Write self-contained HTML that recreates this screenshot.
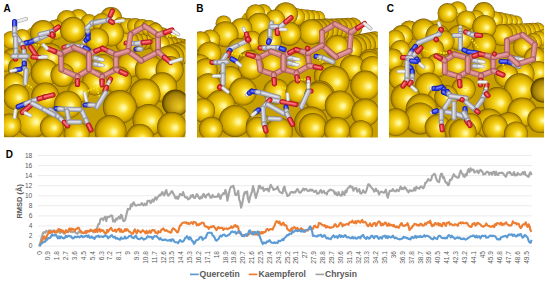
<!DOCTYPE html>
<html><head><meta charset="utf-8"><style>
html,body{margin:0;padding:0;background:#fff;width:550px;height:282px;overflow:hidden}
svg{display:block;font-family:"Liberation Sans",sans-serif}
</style></head><body>
<svg width="550" height="282" viewBox="0 0 550 282">
<rect width="550" height="282" fill="#fff"/>
<defs>
<radialGradient id="gs" cx="0.5" cy="0.5" r="0.5" fx="0.63" fy="0.53">
<stop offset="0" stop-color="#fffac4"/>
<stop offset="0.14" stop-color="#fff286"/>
<stop offset="0.34" stop-color="#f6d628"/>
<stop offset="0.58" stop-color="#e8be02"/>
<stop offset="0.8" stop-color="#d0a600"/>
<stop offset="0.93" stop-color="#aa8200"/>
<stop offset="1" stop-color="#6a5000"/>
</radialGradient>
<radialGradient id="gd" cx="0.5" cy="0.5" r="0.5" fx="0.66" fy="0.66">
<stop offset="0" stop-color="#e8c828"/>
<stop offset="0.4" stop-color="#d0aa14"/>
<stop offset="0.8" stop-color="#a07c04"/>
<stop offset="1" stop-color="#4c3800"/>
</radialGradient>
<filter id="sb" x="-2%" y="-2%" width="104%" height="104%"><feGaussianBlur stdDeviation="0.4"/></filter>
<clipPath id="cA"><rect x="4" y="0" width="181.6" height="137.3"/></clipPath>
<clipPath id="cB"><rect x="197" y="0" width="180.9" height="137.4"/></clipPath>
<clipPath id="cC"><rect x="389" y="0" width="155" height="137.6"/></clipPath>
</defs>
<text x="3.6" y="11.8" font-size="10" font-weight="bold" fill="#000">A</text>
<text x="196.2" y="11.8" font-size="10" font-weight="bold" fill="#000">B</text>
<text x="386.8" y="11.8" font-size="10" font-weight="bold" fill="#000">C</text>

<g clip-path="url(#cA)"><g filter="url(#sb)">
<polygon points="4,36 12,34 22,34 30,28 40,26 46,25 56,19 62,17 67,16 84,16 88,19 96,20 99,17 103,15 111,15 116,21 122,24 133,25 149,25 154,31 165,32 176,36 183,45 185.5,50 185.6,138 4,138" fill="#c8a000"/>
<circle cx="154.0" cy="29.8" r="7.7" fill="url(#gs)"/><circle cx="149.0" cy="29.5" r="8.0" fill="url(#gs)"/><circle cx="144.0" cy="29.2" r="8.3" fill="url(#gs)"/><circle cx="139.0" cy="28.9" r="8.6" fill="url(#gs)"/><circle cx="134.0" cy="28.6" r="8.9" fill="url(#gs)"/><circle cx="129.0" cy="28.3" r="9.2" fill="url(#gs)"/><circle cx="124.0" cy="28.0" r="9.5" fill="url(#gs)"/>
<circle cx="162.0" cy="36.4" r="9.2" fill="url(#gs)"/><circle cx="157.0" cy="37.2" r="9.6" fill="url(#gs)"/><circle cx="152.0" cy="38.0" r="10.0" fill="url(#gs)"/><circle cx="147.0" cy="38.8" r="10.4" fill="url(#gs)"/><circle cx="142.0" cy="39.6" r="10.8" fill="url(#gs)"/><circle cx="137.0" cy="40.4" r="11.2" fill="url(#gs)"/><circle cx="132.0" cy="41.2" r="11.6" fill="url(#gs)"/><circle cx="127.0" cy="42.0" r="12.0" fill="url(#gs)"/>
<circle cx="185.0" cy="47.0" r="8.0" fill="url(#gs)"/><circle cx="180.0" cy="46.6" r="8.4" fill="url(#gs)"/><circle cx="175.0" cy="46.2" r="8.8" fill="url(#gs)"/><circle cx="170.0" cy="45.8" r="9.2" fill="url(#gs)"/><circle cx="165.0" cy="45.4" r="9.6" fill="url(#gs)"/><circle cx="160.0" cy="45.0" r="10.0" fill="url(#gs)"/>
<circle cx="185.4" cy="51.0" r="10.6" fill="url(#gs)"/><circle cx="180.9" cy="53.0" r="11.2" fill="url(#gs)"/><circle cx="176.4" cy="55.0" r="11.8" fill="url(#gs)"/><circle cx="171.9" cy="57.0" r="12.4" fill="url(#gs)"/><circle cx="167.4" cy="59.0" r="13.0" fill="url(#gs)"/>
<circle cx="111" cy="18" r="11" fill="url(#gs)"/><circle cx="78.4" cy="19" r="10" fill="url(#gs)"/><circle cx="66.8" cy="20" r="10" fill="url(#gs)"/><circle cx="89" cy="23" r="9" fill="url(#gs)"/><circle cx="102" cy="23" r="10" fill="url(#gs)"/><circle cx="121" cy="25" r="8" fill="url(#gs)"/><circle cx="128" cy="26" r="8" fill="url(#gs)"/><circle cx="135" cy="26" r="8" fill="url(#gs)"/><circle cx="142" cy="27" r="8" fill="url(#gs)"/><circle cx="149" cy="28" r="8" fill="url(#gs)"/><circle cx="55.3" cy="29.8" r="10" fill="url(#gs)"/><circle cx="73" cy="29.8" r="13" fill="url(#gs)"/><circle cx="155" cy="31" r="8" fill="url(#gs)"/><circle cx="43" cy="33" r="13" fill="url(#gs)"/><circle cx="111" cy="33.4" r="13" fill="url(#gs)"/><circle cx="22" cy="38" r="9" fill="url(#gs)"/><circle cx="97" cy="39.7" r="12" fill="url(#gs)"/><circle cx="11" cy="40" r="9" fill="url(#gs)"/><circle cx="49.6" cy="57" r="14" fill="url(#gs)"/><circle cx="12.4" cy="59.6" r="11" fill="url(#gs)"/><circle cx="4" cy="62" r="10" fill="url(#gs)"/><circle cx="74.6" cy="63.8" r="13" fill="url(#gs)"/><circle cx="130" cy="64.5" r="13" fill="url(#gs)"/><circle cx="103" cy="66" r="12" fill="url(#gs)"/><circle cx="20" cy="68.3" r="12" fill="url(#gs)"/><circle cx="149.8" cy="70" r="15" fill="url(#gs)"/><circle cx="169.6" cy="70" r="14" fill="url(#gs)"/><circle cx="44.8" cy="72.7" r="14" fill="url(#gs)"/><circle cx="62.5" cy="75" r="12" fill="url(#gs)"/><circle cx="118" cy="80.3" r="14" fill="url(#gs)"/><circle cx="94.7" cy="82.4" r="13" fill="url(#gs)"/><circle cx="13.8" cy="84.3" r="12" fill="url(#gs)"/><circle cx="162.2" cy="87.3" r="15" fill="url(#gs)"/><circle cx="78.4" cy="92" r="11" fill="url(#gs)"/><circle cx="144.9" cy="94.2" r="15.6" fill="url(#gs)"/><circle cx="45.3" cy="96.5" r="14" fill="url(#gs)"/><circle cx="16.4" cy="97" r="13" fill="url(#gs)"/><circle cx="175.5" cy="103" r="13.5" fill="url(#gd)"/><circle cx="67.9" cy="104.7" r="14" fill="url(#gs)"/><circle cx="119.8" cy="107" r="17" fill="url(#gs)"/><circle cx="148.5" cy="120" r="16" fill="url(#gs)"/><circle cx="32.4" cy="121" r="17" fill="url(#gs)"/><circle cx="9.3" cy="125.5" r="12" fill="url(#gs)"/><circle cx="172" cy="127" r="15" fill="url(#gs)"/><circle cx="51.9" cy="127.2" r="12" fill="url(#gs)"/><circle cx="110.5" cy="131" r="16" fill="url(#gs)"/><circle cx="76.6" cy="133.8" r="13" fill="url(#gs)"/><circle cx="140" cy="138" r="14" fill="url(#gs)"/>
<line x1="17.3" y1="21.5" x2="26.2" y2="18.9" stroke="#a8a8a8" stroke-width="3.7" stroke-linecap="round"/><line x1="17.3" y1="21.5" x2="26.2" y2="18.9" stroke="#e4e4e4" stroke-width="2.6" stroke-linecap="round"/><line x1="16.9" y1="21.1" x2="25.8" y2="18.5" stroke="#ffffff" stroke-width="1.0" stroke-linecap="round" opacity="0.75"/>
<line x1="14.6" y1="21.5" x2="14.6" y2="28.2" stroke="#1a1ea0" stroke-width="5.2" stroke-linecap="round"/><line x1="14.6" y1="21.5" x2="14.6" y2="28.2" stroke="#2f3fe6" stroke-width="3.6" stroke-linecap="round"/><line x1="14.2" y1="21.1" x2="14.2" y2="27.9" stroke="#8a96ff" stroke-width="1.5" stroke-linecap="round" opacity="0.75"/><line x1="14.6" y1="28.2" x2="14.6" y2="35.0" stroke="#8a8a96" stroke-width="5.2" stroke-linecap="round"/><line x1="14.6" y1="28.2" x2="14.6" y2="35.0" stroke="#bcbcc6" stroke-width="3.6" stroke-linecap="round"/><line x1="14.2" y1="27.9" x2="14.2" y2="34.6" stroke="#ececf4" stroke-width="1.5" stroke-linecap="round" opacity="0.75"/><line x1="14.6" y1="35.0" x2="22.0" y2="44.0" stroke="#8a8a96" stroke-width="5.2" stroke-linecap="round"/><line x1="14.6" y1="35.0" x2="22.0" y2="44.0" stroke="#bcbcc6" stroke-width="3.6" stroke-linecap="round"/><line x1="14.2" y1="34.6" x2="21.6" y2="43.6" stroke="#ececf4" stroke-width="1.5" stroke-linecap="round" opacity="0.75"/><line x1="22.0" y1="44.0" x2="25.8" y2="43.1" stroke="#8a8a96" stroke-width="5.2" stroke-linecap="round"/><line x1="22.0" y1="44.0" x2="25.8" y2="43.1" stroke="#bcbcc6" stroke-width="3.6" stroke-linecap="round"/><line x1="21.6" y1="43.6" x2="25.4" y2="42.8" stroke="#ececf4" stroke-width="1.5" stroke-linecap="round" opacity="0.75"/><line x1="25.8" y1="43.1" x2="29.5" y2="42.3" stroke="#1a1ea0" stroke-width="5.2" stroke-linecap="round"/><line x1="25.8" y1="43.1" x2="29.5" y2="42.3" stroke="#2f3fe6" stroke-width="3.6" stroke-linecap="round"/><line x1="25.4" y1="42.8" x2="29.1" y2="41.9" stroke="#8a96ff" stroke-width="1.5" stroke-linecap="round" opacity="0.75"/>
<line x1="22.0" y1="44.0" x2="23.1" y2="47.4" stroke="#8a8a96" stroke-width="5.2" stroke-linecap="round"/><line x1="22.0" y1="44.0" x2="23.1" y2="47.4" stroke="#bcbcc6" stroke-width="3.6" stroke-linecap="round"/><line x1="21.6" y1="43.6" x2="22.8" y2="47.0" stroke="#ececf4" stroke-width="1.5" stroke-linecap="round" opacity="0.75"/><line x1="23.1" y1="47.4" x2="24.3" y2="50.7" stroke="#a8161e" stroke-width="5.2" stroke-linecap="round"/><line x1="23.1" y1="47.4" x2="24.3" y2="50.7" stroke="#e0323a" stroke-width="3.6" stroke-linecap="round"/><line x1="22.8" y1="47.0" x2="23.9" y2="50.4" stroke="#ff9090" stroke-width="1.5" stroke-linecap="round" opacity="0.75"/>
<line x1="30.0" y1="42.3" x2="35.5" y2="39.9" stroke="#1a1ea0" stroke-width="5.2" stroke-linecap="round"/><line x1="30.0" y1="42.3" x2="35.5" y2="39.9" stroke="#2f3fe6" stroke-width="3.6" stroke-linecap="round"/><line x1="29.6" y1="41.9" x2="35.1" y2="39.5" stroke="#8a96ff" stroke-width="1.5" stroke-linecap="round" opacity="0.75"/><line x1="35.5" y1="39.9" x2="41.0" y2="37.5" stroke="#8a8a96" stroke-width="5.2" stroke-linecap="round"/><line x1="35.5" y1="39.9" x2="41.0" y2="37.5" stroke="#bcbcc6" stroke-width="3.6" stroke-linecap="round"/><line x1="35.1" y1="39.5" x2="40.6" y2="37.1" stroke="#ececf4" stroke-width="1.5" stroke-linecap="round" opacity="0.75"/><line x1="41.0" y1="37.5" x2="49.0" y2="34.0" stroke="#8a8a96" stroke-width="5.2" stroke-linecap="round"/><line x1="41.0" y1="37.5" x2="49.0" y2="34.0" stroke="#bcbcc6" stroke-width="3.6" stroke-linecap="round"/><line x1="40.6" y1="37.1" x2="48.6" y2="33.6" stroke="#ececf4" stroke-width="1.5" stroke-linecap="round" opacity="0.75"/>
<line x1="49.0" y1="34.0" x2="53.0" y2="35.5" stroke="#a8161e" stroke-width="5.2" stroke-linecap="round"/><line x1="49.0" y1="34.0" x2="53.0" y2="35.5" stroke="#e0323a" stroke-width="3.6" stroke-linecap="round"/><line x1="48.6" y1="33.6" x2="52.6" y2="35.1" stroke="#ff9090" stroke-width="1.5" stroke-linecap="round" opacity="0.75"/>
<line x1="30.6" y1="47.2" x2="36.8" y2="56.5" stroke="#a8161e" stroke-width="5.2" stroke-linecap="round"/><line x1="30.6" y1="47.2" x2="36.8" y2="56.5" stroke="#e0323a" stroke-width="3.6" stroke-linecap="round"/><line x1="30.2" y1="46.9" x2="36.4" y2="56.1" stroke="#ff9090" stroke-width="1.5" stroke-linecap="round" opacity="0.75"/><line x1="36.8" y1="56.5" x2="45.7" y2="56.5" stroke="#a8a8a8" stroke-width="3.7" stroke-linecap="round"/><line x1="36.8" y1="56.5" x2="45.7" y2="56.5" stroke="#e4e4e4" stroke-width="2.6" stroke-linecap="round"/><line x1="36.4" y1="56.1" x2="45.4" y2="56.1" stroke="#ffffff" stroke-width="1.0" stroke-linecap="round" opacity="0.75"/>
<line x1="15.5" y1="38.0" x2="16.0" y2="50.0" stroke="#8a8a96" stroke-width="5.2" stroke-linecap="round"/><line x1="15.5" y1="38.0" x2="16.0" y2="50.0" stroke="#bcbcc6" stroke-width="3.6" stroke-linecap="round"/><line x1="15.2" y1="37.6" x2="15.7" y2="49.6" stroke="#ececf4" stroke-width="1.5" stroke-linecap="round" opacity="0.75"/><line x1="16.0" y1="50.0" x2="15.5" y2="56.0" stroke="#8a8a96" stroke-width="5.2" stroke-linecap="round"/><line x1="16.0" y1="50.0" x2="15.5" y2="56.0" stroke="#bcbcc6" stroke-width="3.6" stroke-linecap="round"/><line x1="15.7" y1="49.6" x2="15.2" y2="55.6" stroke="#ececf4" stroke-width="1.5" stroke-linecap="round" opacity="0.75"/>
<line x1="24.0" y1="51.0" x2="24.3" y2="60.0" stroke="#8a8a96" stroke-width="5.2" stroke-linecap="round"/><line x1="24.0" y1="51.0" x2="24.3" y2="60.0" stroke="#bcbcc6" stroke-width="3.6" stroke-linecap="round"/><line x1="23.6" y1="50.6" x2="23.9" y2="59.6" stroke="#ececf4" stroke-width="1.5" stroke-linecap="round" opacity="0.75"/><line x1="24.3" y1="60.0" x2="24.3" y2="63.0" stroke="#8a8a96" stroke-width="5.2" stroke-linecap="round"/><line x1="24.3" y1="60.0" x2="24.3" y2="63.0" stroke="#bcbcc6" stroke-width="3.6" stroke-linecap="round"/><line x1="23.9" y1="59.6" x2="23.9" y2="62.6" stroke="#ececf4" stroke-width="1.5" stroke-linecap="round" opacity="0.75"/><line x1="24.3" y1="63.0" x2="24.3" y2="66.0" stroke="#1a1ea0" stroke-width="5.2" stroke-linecap="round"/><line x1="24.3" y1="63.0" x2="24.3" y2="66.0" stroke="#2f3fe6" stroke-width="3.6" stroke-linecap="round"/><line x1="23.9" y1="62.6" x2="23.9" y2="65.7" stroke="#8a96ff" stroke-width="1.5" stroke-linecap="round" opacity="0.75"/>
<line x1="15.5" y1="57.5" x2="15.5" y2="59.0" stroke="#a8161e" stroke-width="5.2" stroke-linecap="round"/><line x1="15.5" y1="57.5" x2="15.5" y2="59.0" stroke="#e0323a" stroke-width="3.6" stroke-linecap="round"/><line x1="15.2" y1="57.1" x2="15.2" y2="58.6" stroke="#ff9090" stroke-width="1.5" stroke-linecap="round" opacity="0.75"/>
<line x1="13.0" y1="56.2" x2="20.0" y2="56.2" stroke="#8a8a96" stroke-width="5.2" stroke-linecap="round"/><line x1="13.0" y1="56.2" x2="20.0" y2="56.2" stroke="#bcbcc6" stroke-width="3.6" stroke-linecap="round"/><line x1="12.7" y1="55.9" x2="19.6" y2="55.9" stroke="#ececf4" stroke-width="1.5" stroke-linecap="round" opacity="0.75"/><line x1="20.0" y1="56.2" x2="27.0" y2="56.2" stroke="#8a8a96" stroke-width="5.2" stroke-linecap="round"/><line x1="20.0" y1="56.2" x2="27.0" y2="56.2" stroke="#bcbcc6" stroke-width="3.6" stroke-linecap="round"/><line x1="19.6" y1="55.9" x2="26.6" y2="55.9" stroke="#ececf4" stroke-width="1.5" stroke-linecap="round" opacity="0.75"/>
<line x1="33.0" y1="57.0" x2="39.5" y2="57.5" stroke="#a8161e" stroke-width="5.2" stroke-linecap="round"/><line x1="33.0" y1="57.0" x2="39.5" y2="57.5" stroke="#e0323a" stroke-width="3.6" stroke-linecap="round"/><line x1="32.6" y1="56.6" x2="39.1" y2="57.1" stroke="#ff9090" stroke-width="1.5" stroke-linecap="round" opacity="0.75"/><line x1="39.5" y1="57.5" x2="46.6" y2="57.0" stroke="#a8a8a8" stroke-width="3.7" stroke-linecap="round"/><line x1="39.5" y1="57.5" x2="46.6" y2="57.0" stroke="#e4e4e4" stroke-width="2.6" stroke-linecap="round"/><line x1="39.1" y1="57.1" x2="46.2" y2="56.6" stroke="#ffffff" stroke-width="1.0" stroke-linecap="round" opacity="0.75"/>
<line x1="23.5" y1="67.5" x2="24.9" y2="68.8" stroke="#1a1ea0" stroke-width="5.2" stroke-linecap="round"/><line x1="23.5" y1="67.5" x2="24.9" y2="68.8" stroke="#2f3fe6" stroke-width="3.6" stroke-linecap="round"/><line x1="23.1" y1="67.2" x2="24.5" y2="68.4" stroke="#8a96ff" stroke-width="1.5" stroke-linecap="round" opacity="0.75"/><line x1="24.9" y1="68.8" x2="26.2" y2="70.0" stroke="#8a8a96" stroke-width="5.2" stroke-linecap="round"/><line x1="24.9" y1="68.8" x2="26.2" y2="70.0" stroke="#bcbcc6" stroke-width="3.6" stroke-linecap="round"/><line x1="24.5" y1="68.4" x2="25.8" y2="69.7" stroke="#ececf4" stroke-width="1.5" stroke-linecap="round" opacity="0.75"/><line x1="26.2" y1="70.0" x2="25.3" y2="83.4" stroke="#8a8a96" stroke-width="5.2" stroke-linecap="round"/><line x1="26.2" y1="70.0" x2="25.3" y2="83.4" stroke="#bcbcc6" stroke-width="3.6" stroke-linecap="round"/><line x1="25.8" y1="69.7" x2="24.9" y2="83.1" stroke="#ececf4" stroke-width="1.5" stroke-linecap="round" opacity="0.75"/>
<line x1="20.0" y1="69.2" x2="15.5" y2="70.1" stroke="#1a1ea0" stroke-width="5.2" stroke-linecap="round"/><line x1="20.0" y1="69.2" x2="15.5" y2="70.1" stroke="#2f3fe6" stroke-width="3.6" stroke-linecap="round"/><line x1="19.6" y1="68.9" x2="15.2" y2="69.8" stroke="#8a96ff" stroke-width="1.5" stroke-linecap="round" opacity="0.75"/><line x1="15.5" y1="70.1" x2="11.0" y2="71.0" stroke="#a8a8a8" stroke-width="3.7" stroke-linecap="round"/><line x1="15.5" y1="70.1" x2="11.0" y2="71.0" stroke="#e4e4e4" stroke-width="2.6" stroke-linecap="round"/><line x1="15.2" y1="69.8" x2="10.7" y2="70.7" stroke="#ffffff" stroke-width="1.0" stroke-linecap="round" opacity="0.75"/>
<line x1="35.0" y1="44.6" x2="42.0" y2="45.5" stroke="#f4e81c" stroke-width="1.7" stroke-dasharray="1.6,1.3"/>
<line x1="25.5" y1="83.5" x2="32.0" y2="87.5" stroke="#f4e81c" stroke-width="1.7" stroke-dasharray="1.6,1.3"/>
<line x1="84.0" y1="42.0" x2="86.0" y2="40.2" stroke="#a8a8a8" stroke-width="3.7" stroke-linecap="round"/><line x1="84.0" y1="42.0" x2="86.0" y2="40.2" stroke="#e4e4e4" stroke-width="2.6" stroke-linecap="round"/><line x1="83.7" y1="41.6" x2="85.7" y2="39.9" stroke="#ffffff" stroke-width="1.0" stroke-linecap="round" opacity="0.75"/><line x1="86.0" y1="40.2" x2="88.0" y2="38.5" stroke="#1a1ea0" stroke-width="5.2" stroke-linecap="round"/><line x1="86.0" y1="40.2" x2="88.0" y2="38.5" stroke="#2f3fe6" stroke-width="3.6" stroke-linecap="round"/><line x1="85.7" y1="39.9" x2="87.7" y2="38.1" stroke="#8a96ff" stroke-width="1.5" stroke-linecap="round" opacity="0.75"/><line x1="88.0" y1="38.5" x2="88.0" y2="34.0" stroke="#1a1ea0" stroke-width="5.2" stroke-linecap="round"/><line x1="88.0" y1="38.5" x2="88.0" y2="34.0" stroke="#2f3fe6" stroke-width="3.6" stroke-linecap="round"/><line x1="87.7" y1="38.1" x2="87.7" y2="33.6" stroke="#8a96ff" stroke-width="1.5" stroke-linecap="round" opacity="0.75"/><line x1="88.0" y1="34.0" x2="87.5" y2="31.0" stroke="#1a1ea0" stroke-width="5.2" stroke-linecap="round"/><line x1="88.0" y1="34.0" x2="87.5" y2="31.0" stroke="#2f3fe6" stroke-width="3.6" stroke-linecap="round"/><line x1="87.7" y1="33.6" x2="87.2" y2="30.6" stroke="#8a96ff" stroke-width="1.5" stroke-linecap="round" opacity="0.75"/><line x1="87.5" y1="31.0" x2="87.0" y2="28.0" stroke="#8a8a96" stroke-width="5.2" stroke-linecap="round"/><line x1="87.5" y1="31.0" x2="87.0" y2="28.0" stroke="#bcbcc6" stroke-width="3.6" stroke-linecap="round"/><line x1="87.2" y1="30.6" x2="86.7" y2="27.6" stroke="#ececf4" stroke-width="1.5" stroke-linecap="round" opacity="0.75"/><line x1="87.0" y1="28.0" x2="92.0" y2="23.0" stroke="#8a8a96" stroke-width="5.2" stroke-linecap="round"/><line x1="87.0" y1="28.0" x2="92.0" y2="23.0" stroke="#bcbcc6" stroke-width="3.6" stroke-linecap="round"/><line x1="86.7" y1="27.6" x2="91.7" y2="22.6" stroke="#ececf4" stroke-width="1.5" stroke-linecap="round" opacity="0.75"/><line x1="92.0" y1="23.0" x2="100.0" y2="21.0" stroke="#8a8a96" stroke-width="5.2" stroke-linecap="round"/><line x1="92.0" y1="23.0" x2="100.0" y2="21.0" stroke="#bcbcc6" stroke-width="3.6" stroke-linecap="round"/><line x1="91.7" y1="22.6" x2="99.7" y2="20.6" stroke="#ececf4" stroke-width="1.5" stroke-linecap="round" opacity="0.75"/>
<line x1="95.0" y1="22.7" x2="108.3" y2="20.0" stroke="#8a8a96" stroke-width="5.2" stroke-linecap="round"/><line x1="95.0" y1="22.7" x2="108.3" y2="20.0" stroke="#bcbcc6" stroke-width="3.6" stroke-linecap="round"/><line x1="94.7" y1="22.3" x2="108.0" y2="19.6" stroke="#ececf4" stroke-width="1.5" stroke-linecap="round" opacity="0.75"/><line x1="108.3" y1="20.0" x2="110.3" y2="15.5" stroke="#8a8a96" stroke-width="5.2" stroke-linecap="round"/><line x1="108.3" y1="20.0" x2="110.3" y2="15.5" stroke="#bcbcc6" stroke-width="3.6" stroke-linecap="round"/><line x1="108.0" y1="19.6" x2="110.0" y2="15.2" stroke="#ececf4" stroke-width="1.5" stroke-linecap="round" opacity="0.75"/><line x1="110.3" y1="15.5" x2="112.3" y2="11.0" stroke="#a8161e" stroke-width="5.2" stroke-linecap="round"/><line x1="110.3" y1="15.5" x2="112.3" y2="11.0" stroke="#e0323a" stroke-width="3.6" stroke-linecap="round"/><line x1="110.0" y1="15.2" x2="112.0" y2="10.7" stroke="#ff9090" stroke-width="1.5" stroke-linecap="round" opacity="0.75"/>
<line x1="108.3" y1="20.0" x2="110.5" y2="21.2" stroke="#8a8a96" stroke-width="5.2" stroke-linecap="round"/><line x1="108.3" y1="20.0" x2="110.5" y2="21.2" stroke="#bcbcc6" stroke-width="3.6" stroke-linecap="round"/><line x1="108.0" y1="19.6" x2="110.2" y2="20.9" stroke="#ececf4" stroke-width="1.5" stroke-linecap="round" opacity="0.75"/><line x1="110.5" y1="21.2" x2="112.7" y2="22.5" stroke="#a8161e" stroke-width="5.2" stroke-linecap="round"/><line x1="110.5" y1="21.2" x2="112.7" y2="22.5" stroke="#e0323a" stroke-width="3.6" stroke-linecap="round"/><line x1="110.2" y1="20.9" x2="112.4" y2="22.1" stroke="#ff9090" stroke-width="1.5" stroke-linecap="round" opacity="0.75"/><line x1="116.3" y1="21.5" x2="123.4" y2="20.5" stroke="#a8a8a8" stroke-width="3.7" stroke-linecap="round"/><line x1="116.3" y1="21.5" x2="123.4" y2="20.5" stroke="#e4e4e4" stroke-width="2.6" stroke-linecap="round"/><line x1="116.0" y1="21.1" x2="123.1" y2="20.1" stroke="#ffffff" stroke-width="1.0" stroke-linecap="round" opacity="0.75"/>
<line x1="40.0" y1="34.5" x2="51.8" y2="31.6" stroke="#8a8a96" stroke-width="5.2" stroke-linecap="round"/><line x1="40.0" y1="34.5" x2="51.8" y2="31.6" stroke="#bcbcc6" stroke-width="3.6" stroke-linecap="round"/><line x1="39.6" y1="34.1" x2="51.4" y2="31.2" stroke="#ececf4" stroke-width="1.5" stroke-linecap="round" opacity="0.75"/><line x1="51.8" y1="31.6" x2="55.1" y2="29.3" stroke="#8a8a96" stroke-width="5.2" stroke-linecap="round"/><line x1="51.8" y1="31.6" x2="55.1" y2="29.3" stroke="#bcbcc6" stroke-width="3.6" stroke-linecap="round"/><line x1="51.4" y1="31.2" x2="54.7" y2="28.9" stroke="#ececf4" stroke-width="1.5" stroke-linecap="round" opacity="0.75"/><line x1="55.1" y1="29.3" x2="58.4" y2="27.0" stroke="#a8161e" stroke-width="5.2" stroke-linecap="round"/><line x1="55.1" y1="29.3" x2="58.4" y2="27.0" stroke="#e0323a" stroke-width="3.6" stroke-linecap="round"/><line x1="54.7" y1="28.9" x2="58.0" y2="26.6" stroke="#ff9090" stroke-width="1.5" stroke-linecap="round" opacity="0.75"/>
<line x1="51.8" y1="31.6" x2="52.2" y2="33.8" stroke="#8a8a96" stroke-width="5.2" stroke-linecap="round"/><line x1="51.8" y1="31.6" x2="52.2" y2="33.8" stroke="#bcbcc6" stroke-width="3.6" stroke-linecap="round"/><line x1="51.4" y1="31.2" x2="51.9" y2="33.4" stroke="#ececf4" stroke-width="1.5" stroke-linecap="round" opacity="0.75"/><line x1="52.2" y1="33.8" x2="52.6" y2="36.0" stroke="#a8161e" stroke-width="5.2" stroke-linecap="round"/><line x1="52.2" y1="33.8" x2="52.6" y2="36.0" stroke="#e0323a" stroke-width="3.6" stroke-linecap="round"/><line x1="51.9" y1="33.4" x2="52.2" y2="35.6" stroke="#ff9090" stroke-width="1.5" stroke-linecap="round" opacity="0.75"/>
<line x1="64.0" y1="47.5" x2="68.0" y2="46.6" stroke="#a8161e" stroke-width="5.2" stroke-linecap="round"/><line x1="64.0" y1="47.5" x2="68.0" y2="46.6" stroke="#e0323a" stroke-width="3.6" stroke-linecap="round"/><line x1="63.6" y1="47.1" x2="67.7" y2="46.3" stroke="#ff9090" stroke-width="1.5" stroke-linecap="round" opacity="0.75"/><line x1="68.0" y1="46.6" x2="72.0" y2="45.8" stroke="#8a8a96" stroke-width="5.2" stroke-linecap="round"/><line x1="68.0" y1="46.6" x2="72.0" y2="45.8" stroke="#bcbcc6" stroke-width="3.6" stroke-linecap="round"/><line x1="67.7" y1="46.3" x2="71.7" y2="45.4" stroke="#ececf4" stroke-width="1.5" stroke-linecap="round" opacity="0.75"/><line x1="72.0" y1="45.8" x2="82.0" y2="46.5" stroke="#8a8a96" stroke-width="5.2" stroke-linecap="round"/><line x1="72.0" y1="45.8" x2="82.0" y2="46.5" stroke="#bcbcc6" stroke-width="3.6" stroke-linecap="round"/><line x1="71.7" y1="45.4" x2="81.7" y2="46.1" stroke="#ececf4" stroke-width="1.5" stroke-linecap="round" opacity="0.75"/><line x1="82.0" y1="46.5" x2="85.0" y2="48.0" stroke="#8a8a96" stroke-width="5.2" stroke-linecap="round"/><line x1="82.0" y1="46.5" x2="85.0" y2="48.0" stroke="#bcbcc6" stroke-width="3.6" stroke-linecap="round"/><line x1="81.7" y1="46.1" x2="84.7" y2="47.6" stroke="#ececf4" stroke-width="1.5" stroke-linecap="round" opacity="0.75"/><line x1="85.0" y1="48.0" x2="88.0" y2="49.5" stroke="#1a1ea0" stroke-width="5.2" stroke-linecap="round"/><line x1="85.0" y1="48.0" x2="88.0" y2="49.5" stroke="#2f3fe6" stroke-width="3.6" stroke-linecap="round"/><line x1="84.7" y1="47.6" x2="87.7" y2="49.1" stroke="#8a96ff" stroke-width="1.5" stroke-linecap="round" opacity="0.75"/>
<line x1="92.5" y1="41.0" x2="97.9" y2="45.8" stroke="#f4e81c" stroke-width="1.7" stroke-dasharray="1.6,1.3"/>
<line x1="126.0" y1="43.0" x2="131.0" y2="43.2" stroke="#a8161e" stroke-width="5.2" stroke-linecap="round"/><line x1="126.0" y1="43.0" x2="131.0" y2="43.2" stroke="#e0323a" stroke-width="3.6" stroke-linecap="round"/><line x1="125.7" y1="42.6" x2="130.7" y2="42.9" stroke="#ff9090" stroke-width="1.5" stroke-linecap="round" opacity="0.75"/><line x1="131.0" y1="43.2" x2="136.0" y2="43.5" stroke="#8a8a96" stroke-width="5.2" stroke-linecap="round"/><line x1="131.0" y1="43.2" x2="136.0" y2="43.5" stroke="#bcbcc6" stroke-width="3.6" stroke-linecap="round"/><line x1="130.7" y1="42.9" x2="135.7" y2="43.1" stroke="#ececf4" stroke-width="1.5" stroke-linecap="round" opacity="0.75"/><line x1="136.0" y1="43.5" x2="143.0" y2="42.6" stroke="#8a8a96" stroke-width="5.2" stroke-linecap="round"/><line x1="136.0" y1="43.5" x2="143.0" y2="42.6" stroke="#bcbcc6" stroke-width="3.6" stroke-linecap="round"/><line x1="135.7" y1="43.1" x2="142.7" y2="42.3" stroke="#ececf4" stroke-width="1.5" stroke-linecap="round" opacity="0.75"/><line x1="143.0" y1="42.6" x2="150.0" y2="41.8" stroke="#a8161e" stroke-width="5.2" stroke-linecap="round"/><line x1="143.0" y1="42.6" x2="150.0" y2="41.8" stroke="#e0323a" stroke-width="3.6" stroke-linecap="round"/><line x1="142.7" y1="42.3" x2="149.7" y2="41.4" stroke="#ff9090" stroke-width="1.5" stroke-linecap="round" opacity="0.75"/>
<line x1="136.0" y1="49.0" x2="138.5" y2="49.0" stroke="#1a1ea0" stroke-width="5.2" stroke-linecap="round"/><line x1="136.0" y1="49.0" x2="138.5" y2="49.0" stroke="#2f3fe6" stroke-width="3.6" stroke-linecap="round"/><line x1="135.7" y1="48.6" x2="138.2" y2="48.6" stroke="#8a96ff" stroke-width="1.5" stroke-linecap="round" opacity="0.75"/><line x1="138.5" y1="49.0" x2="141.0" y2="49.0" stroke="#8a8a96" stroke-width="5.2" stroke-linecap="round"/><line x1="138.5" y1="49.0" x2="141.0" y2="49.0" stroke="#bcbcc6" stroke-width="3.6" stroke-linecap="round"/><line x1="138.2" y1="48.6" x2="140.7" y2="48.6" stroke="#ececf4" stroke-width="1.5" stroke-linecap="round" opacity="0.75"/>
<line x1="95.0" y1="58.0" x2="99.0" y2="59.0" stroke="#8a8a96" stroke-width="5.2" stroke-linecap="round"/><line x1="95.0" y1="58.0" x2="99.0" y2="59.0" stroke="#bcbcc6" stroke-width="3.6" stroke-linecap="round"/><line x1="94.7" y1="57.6" x2="98.7" y2="58.6" stroke="#ececf4" stroke-width="1.5" stroke-linecap="round" opacity="0.75"/><line x1="99.0" y1="59.0" x2="103.0" y2="60.0" stroke="#a8a8a8" stroke-width="3.7" stroke-linecap="round"/><line x1="99.0" y1="59.0" x2="103.0" y2="60.0" stroke="#e4e4e4" stroke-width="2.6" stroke-linecap="round"/><line x1="98.7" y1="58.6" x2="102.7" y2="59.6" stroke="#ffffff" stroke-width="1.0" stroke-linecap="round" opacity="0.75"/>
<line x1="95.0" y1="64.0" x2="99.0" y2="64.8" stroke="#8a8a96" stroke-width="5.2" stroke-linecap="round"/><line x1="95.0" y1="64.0" x2="99.0" y2="64.8" stroke="#bcbcc6" stroke-width="3.6" stroke-linecap="round"/><line x1="94.7" y1="63.6" x2="98.7" y2="64.4" stroke="#ececf4" stroke-width="1.5" stroke-linecap="round" opacity="0.75"/><line x1="99.0" y1="64.8" x2="103.0" y2="65.5" stroke="#a8a8a8" stroke-width="3.7" stroke-linecap="round"/><line x1="99.0" y1="64.8" x2="103.0" y2="65.5" stroke="#e4e4e4" stroke-width="2.6" stroke-linecap="round"/><line x1="98.7" y1="64.4" x2="102.7" y2="65.2" stroke="#ffffff" stroke-width="1.0" stroke-linecap="round" opacity="0.75"/>
<line x1="60.7" y1="53.8" x2="74.0" y2="47.3" stroke="#a45a5a" stroke-width="5.8" stroke-linecap="round"/><line x1="60.7" y1="53.8" x2="74.0" y2="47.3" stroke="#d28484" stroke-width="4.1" stroke-linecap="round"/><line x1="60.4" y1="53.4" x2="73.7" y2="46.9" stroke="#eaaaaa" stroke-width="1.6" stroke-linecap="round" opacity="0.75"/><line x1="74.0" y1="47.3" x2="89.0" y2="54.0" stroke="#a45a5a" stroke-width="5.8" stroke-linecap="round"/><line x1="74.0" y1="47.3" x2="89.0" y2="54.0" stroke="#d28484" stroke-width="4.1" stroke-linecap="round"/><line x1="73.7" y1="46.9" x2="88.7" y2="53.6" stroke="#eaaaaa" stroke-width="1.6" stroke-linecap="round" opacity="0.75"/><line x1="89.0" y1="54.0" x2="89.0" y2="69.5" stroke="#a45a5a" stroke-width="5.8" stroke-linecap="round"/><line x1="89.0" y1="54.0" x2="89.0" y2="69.5" stroke="#d28484" stroke-width="4.1" stroke-linecap="round"/><line x1="88.7" y1="53.6" x2="88.7" y2="69.2" stroke="#eaaaaa" stroke-width="1.6" stroke-linecap="round" opacity="0.75"/><line x1="89.0" y1="69.5" x2="77.5" y2="76.5" stroke="#a45a5a" stroke-width="5.8" stroke-linecap="round"/><line x1="89.0" y1="69.5" x2="77.5" y2="76.5" stroke="#d28484" stroke-width="4.1" stroke-linecap="round"/><line x1="88.7" y1="69.2" x2="77.2" y2="76.2" stroke="#eaaaaa" stroke-width="1.6" stroke-linecap="round" opacity="0.75"/><line x1="77.5" y1="76.5" x2="61.5" y2="69.5" stroke="#a45a5a" stroke-width="5.8" stroke-linecap="round"/><line x1="77.5" y1="76.5" x2="61.5" y2="69.5" stroke="#d28484" stroke-width="4.1" stroke-linecap="round"/><line x1="77.2" y1="76.2" x2="61.1" y2="69.2" stroke="#eaaaaa" stroke-width="1.6" stroke-linecap="round" opacity="0.75"/><line x1="61.5" y1="69.5" x2="60.7" y2="53.8" stroke="#a45a5a" stroke-width="5.8" stroke-linecap="round"/><line x1="61.5" y1="69.5" x2="60.7" y2="53.8" stroke="#d28484" stroke-width="4.1" stroke-linecap="round"/><line x1="61.1" y1="69.2" x2="60.4" y2="53.4" stroke="#eaaaaa" stroke-width="1.6" stroke-linecap="round" opacity="0.75"/><line x1="130.6" y1="34.2" x2="144.8" y2="26.2" stroke="#a45a5a" stroke-width="5.8" stroke-linecap="round"/><line x1="130.6" y1="34.2" x2="144.8" y2="26.2" stroke="#d28484" stroke-width="4.1" stroke-linecap="round"/><line x1="130.2" y1="33.9" x2="144.5" y2="25.8" stroke="#eaaaaa" stroke-width="1.6" stroke-linecap="round" opacity="0.75"/><line x1="144.8" y1="26.2" x2="158.1" y2="35.0" stroke="#a45a5a" stroke-width="5.8" stroke-linecap="round"/><line x1="144.8" y1="26.2" x2="158.1" y2="35.0" stroke="#d28484" stroke-width="4.1" stroke-linecap="round"/><line x1="144.5" y1="25.8" x2="157.8" y2="34.6" stroke="#eaaaaa" stroke-width="1.6" stroke-linecap="round" opacity="0.75"/><line x1="158.1" y1="35.0" x2="158.1" y2="51.9" stroke="#a45a5a" stroke-width="5.8" stroke-linecap="round"/><line x1="158.1" y1="35.0" x2="158.1" y2="51.9" stroke="#d28484" stroke-width="4.1" stroke-linecap="round"/><line x1="157.8" y1="34.6" x2="157.8" y2="51.5" stroke="#eaaaaa" stroke-width="1.6" stroke-linecap="round" opacity="0.75"/><line x1="158.1" y1="51.9" x2="141.3" y2="60.8" stroke="#a45a5a" stroke-width="5.8" stroke-linecap="round"/><line x1="158.1" y1="51.9" x2="141.3" y2="60.8" stroke="#d28484" stroke-width="4.1" stroke-linecap="round"/><line x1="157.8" y1="51.5" x2="141.0" y2="60.4" stroke="#eaaaaa" stroke-width="1.6" stroke-linecap="round" opacity="0.75"/><line x1="141.3" y1="60.8" x2="128.0" y2="51.0" stroke="#a45a5a" stroke-width="5.8" stroke-linecap="round"/><line x1="141.3" y1="60.8" x2="128.0" y2="51.0" stroke="#d28484" stroke-width="4.1" stroke-linecap="round"/><line x1="141.0" y1="60.4" x2="127.7" y2="50.6" stroke="#eaaaaa" stroke-width="1.6" stroke-linecap="round" opacity="0.75"/><line x1="128.0" y1="51.0" x2="130.6" y2="34.2" stroke="#a45a5a" stroke-width="5.8" stroke-linecap="round"/><line x1="128.0" y1="51.0" x2="130.6" y2="34.2" stroke="#d28484" stroke-width="4.1" stroke-linecap="round"/><line x1="127.7" y1="50.6" x2="130.2" y2="33.9" stroke="#eaaaaa" stroke-width="1.6" stroke-linecap="round" opacity="0.75"/><line x1="89.0" y1="54.0" x2="95.8" y2="51.1" stroke="#a45a5a" stroke-width="5.8" stroke-linecap="round"/><line x1="89.0" y1="54.0" x2="95.8" y2="51.1" stroke="#d28484" stroke-width="4.1" stroke-linecap="round"/><line x1="88.7" y1="53.6" x2="95.4" y2="50.8" stroke="#eaaaaa" stroke-width="1.6" stroke-linecap="round" opacity="0.75"/><line x1="95.8" y1="51.1" x2="102.5" y2="48.3" stroke="#a8161e" stroke-width="5.2" stroke-linecap="round"/><line x1="95.8" y1="51.1" x2="102.5" y2="48.3" stroke="#e0323a" stroke-width="3.6" stroke-linecap="round"/><line x1="95.4" y1="50.8" x2="102.2" y2="47.9" stroke="#ff9090" stroke-width="1.5" stroke-linecap="round" opacity="0.75"/><line x1="102.5" y1="48.3" x2="109.2" y2="51.5" stroke="#a8161e" stroke-width="5.2" stroke-linecap="round"/><line x1="102.5" y1="48.3" x2="109.2" y2="51.5" stroke="#e0323a" stroke-width="3.6" stroke-linecap="round"/><line x1="102.2" y1="47.9" x2="108.9" y2="51.1" stroke="#ff9090" stroke-width="1.5" stroke-linecap="round" opacity="0.75"/><line x1="109.2" y1="51.5" x2="116.0" y2="54.6" stroke="#a45a5a" stroke-width="5.8" stroke-linecap="round"/><line x1="109.2" y1="51.5" x2="116.0" y2="54.6" stroke="#d28484" stroke-width="4.1" stroke-linecap="round"/><line x1="108.9" y1="51.1" x2="115.7" y2="54.2" stroke="#eaaaaa" stroke-width="1.6" stroke-linecap="round" opacity="0.75"/><line x1="116.0" y1="54.6" x2="116.0" y2="69.5" stroke="#a45a5a" stroke-width="5.8" stroke-linecap="round"/><line x1="116.0" y1="54.6" x2="116.0" y2="69.5" stroke="#d28484" stroke-width="4.1" stroke-linecap="round"/><line x1="115.7" y1="54.2" x2="115.7" y2="69.2" stroke="#eaaaaa" stroke-width="1.6" stroke-linecap="round" opacity="0.75"/><line x1="116.0" y1="69.5" x2="102.2" y2="76.5" stroke="#a45a5a" stroke-width="5.8" stroke-linecap="round"/><line x1="116.0" y1="69.5" x2="102.2" y2="76.5" stroke="#d28484" stroke-width="4.1" stroke-linecap="round"/><line x1="115.7" y1="69.2" x2="101.9" y2="76.2" stroke="#eaaaaa" stroke-width="1.6" stroke-linecap="round" opacity="0.75"/><line x1="102.2" y1="76.5" x2="89.0" y2="69.5" stroke="#a45a5a" stroke-width="5.8" stroke-linecap="round"/><line x1="102.2" y1="76.5" x2="89.0" y2="69.5" stroke="#d28484" stroke-width="4.1" stroke-linecap="round"/><line x1="101.9" y1="76.2" x2="88.7" y2="69.2" stroke="#eaaaaa" stroke-width="1.6" stroke-linecap="round" opacity="0.75"/><line x1="89.0" y1="69.5" x2="89.0" y2="54.0" stroke="#a45a5a" stroke-width="5.8" stroke-linecap="round"/><line x1="89.0" y1="69.5" x2="89.0" y2="54.0" stroke="#d28484" stroke-width="4.1" stroke-linecap="round"/><line x1="88.7" y1="69.2" x2="88.7" y2="53.6" stroke="#eaaaaa" stroke-width="1.6" stroke-linecap="round" opacity="0.75"/><line x1="116.0" y1="54.6" x2="128.0" y2="51.0" stroke="#a45a5a" stroke-width="5.8" stroke-linecap="round"/><line x1="116.0" y1="54.6" x2="128.0" y2="51.0" stroke="#d28484" stroke-width="4.1" stroke-linecap="round"/><line x1="115.7" y1="54.2" x2="127.7" y2="50.6" stroke="#eaaaaa" stroke-width="1.6" stroke-linecap="round" opacity="0.75"/><line x1="60.7" y1="53.8" x2="54.9" y2="51.4" stroke="#a45a5a" stroke-width="5.8" stroke-linecap="round"/><line x1="60.7" y1="53.8" x2="54.9" y2="51.4" stroke="#d28484" stroke-width="4.1" stroke-linecap="round"/><line x1="60.4" y1="53.4" x2="54.5" y2="51.0" stroke="#eaaaaa" stroke-width="1.6" stroke-linecap="round" opacity="0.75"/><line x1="54.9" y1="51.4" x2="49.0" y2="49.0" stroke="#a8161e" stroke-width="5.2" stroke-linecap="round"/><line x1="54.9" y1="51.4" x2="49.0" y2="49.0" stroke="#e0323a" stroke-width="3.6" stroke-linecap="round"/><line x1="54.5" y1="51.0" x2="48.6" y2="48.6" stroke="#ff9090" stroke-width="1.5" stroke-linecap="round" opacity="0.75"/><line x1="47.0" y1="48.5" x2="43.6" y2="45.0" stroke="#a8a8a8" stroke-width="3.7" stroke-linecap="round"/><line x1="47.0" y1="48.5" x2="43.6" y2="45.0" stroke="#e4e4e4" stroke-width="2.6" stroke-linecap="round"/><line x1="46.6" y1="48.1" x2="43.2" y2="44.6" stroke="#ffffff" stroke-width="1.0" stroke-linecap="round" opacity="0.75"/><line x1="77.5" y1="76.5" x2="77.5" y2="80.5" stroke="#a45a5a" stroke-width="5.8" stroke-linecap="round"/><line x1="77.5" y1="76.5" x2="77.5" y2="80.5" stroke="#d28484" stroke-width="4.1" stroke-linecap="round"/><line x1="77.2" y1="76.2" x2="77.2" y2="80.2" stroke="#eaaaaa" stroke-width="1.6" stroke-linecap="round" opacity="0.75"/><line x1="77.5" y1="80.5" x2="77.5" y2="84.5" stroke="#a8161e" stroke-width="5.2" stroke-linecap="round"/><line x1="77.5" y1="80.5" x2="77.5" y2="84.5" stroke="#e0323a" stroke-width="3.6" stroke-linecap="round"/><line x1="77.2" y1="80.2" x2="77.2" y2="84.2" stroke="#ff9090" stroke-width="1.5" stroke-linecap="round" opacity="0.75"/><line x1="116.0" y1="69.5" x2="121.0" y2="71.8" stroke="#a45a5a" stroke-width="5.8" stroke-linecap="round"/><line x1="116.0" y1="69.5" x2="121.0" y2="71.8" stroke="#d28484" stroke-width="4.1" stroke-linecap="round"/><line x1="115.7" y1="69.2" x2="120.7" y2="71.4" stroke="#eaaaaa" stroke-width="1.6" stroke-linecap="round" opacity="0.75"/><line x1="121.0" y1="71.8" x2="126.0" y2="74.0" stroke="#a8161e" stroke-width="5.2" stroke-linecap="round"/><line x1="121.0" y1="71.8" x2="126.0" y2="74.0" stroke="#e0323a" stroke-width="3.6" stroke-linecap="round"/><line x1="120.7" y1="71.4" x2="125.7" y2="73.7" stroke="#ff9090" stroke-width="1.5" stroke-linecap="round" opacity="0.75"/><line x1="102.2" y1="76.5" x2="102.1" y2="80.8" stroke="#a45a5a" stroke-width="5.8" stroke-linecap="round"/><line x1="102.2" y1="76.5" x2="102.1" y2="80.8" stroke="#d28484" stroke-width="4.1" stroke-linecap="round"/><line x1="101.9" y1="76.2" x2="101.8" y2="80.4" stroke="#eaaaaa" stroke-width="1.6" stroke-linecap="round" opacity="0.75"/><line x1="102.1" y1="80.8" x2="102.0" y2="85.0" stroke="#a8161e" stroke-width="5.2" stroke-linecap="round"/><line x1="102.1" y1="80.8" x2="102.0" y2="85.0" stroke="#e0323a" stroke-width="3.6" stroke-linecap="round"/><line x1="101.8" y1="80.4" x2="101.7" y2="84.7" stroke="#ff9090" stroke-width="1.5" stroke-linecap="round" opacity="0.75"/><line x1="158.1" y1="35.0" x2="165.1" y2="32.5" stroke="#a45a5a" stroke-width="5.8" stroke-linecap="round"/><line x1="158.1" y1="35.0" x2="165.1" y2="32.5" stroke="#d28484" stroke-width="4.1" stroke-linecap="round"/><line x1="157.8" y1="34.6" x2="164.7" y2="32.1" stroke="#eaaaaa" stroke-width="1.6" stroke-linecap="round" opacity="0.75"/><line x1="165.1" y1="32.5" x2="172.0" y2="30.0" stroke="#a8161e" stroke-width="5.2" stroke-linecap="round"/><line x1="165.1" y1="32.5" x2="172.0" y2="30.0" stroke="#e0323a" stroke-width="3.6" stroke-linecap="round"/><line x1="164.7" y1="32.1" x2="171.7" y2="29.6" stroke="#ff9090" stroke-width="1.5" stroke-linecap="round" opacity="0.75"/><line x1="173.5" y1="31.5" x2="178.5" y2="34.5" stroke="#a8a8a8" stroke-width="3.7" stroke-linecap="round"/><line x1="173.5" y1="31.5" x2="178.5" y2="34.5" stroke="#e4e4e4" stroke-width="2.6" stroke-linecap="round"/><line x1="173.2" y1="31.1" x2="178.2" y2="34.1" stroke="#ffffff" stroke-width="1.0" stroke-linecap="round" opacity="0.75"/><line x1="158.1" y1="51.9" x2="164.3" y2="57.2" stroke="#a45a5a" stroke-width="5.8" stroke-linecap="round"/><line x1="158.1" y1="51.9" x2="164.3" y2="57.2" stroke="#d28484" stroke-width="4.1" stroke-linecap="round"/><line x1="157.8" y1="51.5" x2="164.0" y2="56.9" stroke="#eaaaaa" stroke-width="1.6" stroke-linecap="round" opacity="0.75"/><line x1="164.3" y1="57.2" x2="170.6" y2="62.5" stroke="#a8161e" stroke-width="5.2" stroke-linecap="round"/><line x1="164.3" y1="57.2" x2="170.6" y2="62.5" stroke="#e0323a" stroke-width="3.6" stroke-linecap="round"/><line x1="164.0" y1="56.9" x2="170.2" y2="62.1" stroke="#ff9090" stroke-width="1.5" stroke-linecap="round" opacity="0.75"/><line x1="170.6" y1="62.5" x2="181.3" y2="59.0" stroke="#a8a8a8" stroke-width="3.7" stroke-linecap="round"/><line x1="170.6" y1="62.5" x2="181.3" y2="59.0" stroke="#e4e4e4" stroke-width="2.6" stroke-linecap="round"/><line x1="170.2" y1="62.1" x2="181.0" y2="58.6" stroke="#ffffff" stroke-width="1.0" stroke-linecap="round" opacity="0.75"/>
<line x1="166.4" y1="36.6" x2="178.0" y2="35.5" stroke="#f4e81c" stroke-width="1.7" stroke-dasharray="1.6,1.3"/>
<line x1="110.5" y1="79.0" x2="109.2" y2="81.5" stroke="#a8161e" stroke-width="5.2" stroke-linecap="round"/><line x1="110.5" y1="79.0" x2="109.2" y2="81.5" stroke="#e0323a" stroke-width="3.6" stroke-linecap="round"/><line x1="110.2" y1="78.7" x2="108.9" y2="81.2" stroke="#ff9090" stroke-width="1.5" stroke-linecap="round" opacity="0.75"/><line x1="109.2" y1="81.5" x2="108.0" y2="84.0" stroke="#a8a8a8" stroke-width="3.7" stroke-linecap="round"/><line x1="109.2" y1="81.5" x2="108.0" y2="84.0" stroke="#e4e4e4" stroke-width="2.6" stroke-linecap="round"/><line x1="108.9" y1="81.2" x2="107.7" y2="83.7" stroke="#ffffff" stroke-width="1.0" stroke-linecap="round" opacity="0.75"/><line x1="108.0" y1="84.0" x2="106.5" y2="87.2" stroke="#a8a8a8" stroke-width="3.7" stroke-linecap="round"/><line x1="108.0" y1="84.0" x2="106.5" y2="87.2" stroke="#e4e4e4" stroke-width="2.6" stroke-linecap="round"/><line x1="107.7" y1="83.7" x2="106.2" y2="86.9" stroke="#ffffff" stroke-width="1.0" stroke-linecap="round" opacity="0.75"/><line x1="106.5" y1="87.2" x2="105.0" y2="90.5" stroke="#a8161e" stroke-width="5.2" stroke-linecap="round"/><line x1="106.5" y1="87.2" x2="105.0" y2="90.5" stroke="#e0323a" stroke-width="3.6" stroke-linecap="round"/><line x1="106.2" y1="86.9" x2="104.7" y2="90.2" stroke="#ff9090" stroke-width="1.5" stroke-linecap="round" opacity="0.75"/>
<line x1="105.6" y1="92.7" x2="96.8" y2="107.0" stroke="#8a8a96" stroke-width="5.2" stroke-linecap="round"/><line x1="105.6" y1="92.7" x2="96.8" y2="107.0" stroke="#bcbcc6" stroke-width="3.6" stroke-linecap="round"/><line x1="105.2" y1="92.4" x2="96.5" y2="106.7" stroke="#ececf4" stroke-width="1.5" stroke-linecap="round" opacity="0.75"/>
<line x1="95.5" y1="84.0" x2="99.5" y2="97.0" stroke="#f4e81c" stroke-width="1.7" stroke-dasharray="1.6,1.3"/>
<line x1="84.6" y1="93.0" x2="86.5" y2="101.0" stroke="#a8a8a8" stroke-width="3.7" stroke-linecap="round"/><line x1="84.6" y1="93.0" x2="86.5" y2="101.0" stroke="#e4e4e4" stroke-width="2.6" stroke-linecap="round"/><line x1="84.2" y1="92.7" x2="86.2" y2="100.7" stroke="#ffffff" stroke-width="1.0" stroke-linecap="round" opacity="0.75"/>
<line x1="85.0" y1="105.0" x2="89.5" y2="105.0" stroke="#1a1ea0" stroke-width="5.2" stroke-linecap="round"/><line x1="85.0" y1="105.0" x2="89.5" y2="105.0" stroke="#2f3fe6" stroke-width="3.6" stroke-linecap="round"/><line x1="84.7" y1="104.7" x2="89.2" y2="104.7" stroke="#8a96ff" stroke-width="1.5" stroke-linecap="round" opacity="0.75"/><line x1="89.5" y1="105.0" x2="94.0" y2="105.0" stroke="#8a8a96" stroke-width="5.2" stroke-linecap="round"/><line x1="89.5" y1="105.0" x2="94.0" y2="105.0" stroke="#bcbcc6" stroke-width="3.6" stroke-linecap="round"/><line x1="89.2" y1="104.7" x2="93.7" y2="104.7" stroke="#ececf4" stroke-width="1.5" stroke-linecap="round" opacity="0.75"/>
<line x1="82.0" y1="111.0" x2="86.0" y2="120.0" stroke="#8a8a96" stroke-width="5.2" stroke-linecap="round"/><line x1="82.0" y1="111.0" x2="86.0" y2="120.0" stroke="#bcbcc6" stroke-width="3.6" stroke-linecap="round"/><line x1="81.7" y1="110.7" x2="85.7" y2="119.7" stroke="#ececf4" stroke-width="1.5" stroke-linecap="round" opacity="0.75"/><line x1="86.0" y1="120.0" x2="88.5" y2="125.0" stroke="#8a8a96" stroke-width="5.2" stroke-linecap="round"/><line x1="86.0" y1="120.0" x2="88.5" y2="125.0" stroke="#bcbcc6" stroke-width="3.6" stroke-linecap="round"/><line x1="85.7" y1="119.7" x2="88.2" y2="124.7" stroke="#ececf4" stroke-width="1.5" stroke-linecap="round" opacity="0.75"/><line x1="88.5" y1="125.0" x2="91.0" y2="130.0" stroke="#a8161e" stroke-width="5.2" stroke-linecap="round"/><line x1="88.5" y1="125.0" x2="91.0" y2="130.0" stroke="#e0323a" stroke-width="3.6" stroke-linecap="round"/><line x1="88.2" y1="124.7" x2="90.7" y2="129.7" stroke="#ff9090" stroke-width="1.5" stroke-linecap="round" opacity="0.75"/>
<line x1="62.4" y1="109.0" x2="80.0" y2="109.5" stroke="#8a8a96" stroke-width="5.2" stroke-linecap="round"/><line x1="62.4" y1="109.0" x2="80.0" y2="109.5" stroke="#bcbcc6" stroke-width="3.6" stroke-linecap="round"/><line x1="62.0" y1="108.7" x2="79.7" y2="109.2" stroke="#ececf4" stroke-width="1.5" stroke-linecap="round" opacity="0.75"/>
<line x1="56.0" y1="108.5" x2="59.2" y2="108.8" stroke="#1a1ea0" stroke-width="5.2" stroke-linecap="round"/><line x1="56.0" y1="108.5" x2="59.2" y2="108.8" stroke="#2f3fe6" stroke-width="3.6" stroke-linecap="round"/><line x1="55.6" y1="108.2" x2="58.9" y2="108.4" stroke="#8a96ff" stroke-width="1.5" stroke-linecap="round" opacity="0.75"/><line x1="59.2" y1="108.8" x2="62.4" y2="109.0" stroke="#8a8a96" stroke-width="5.2" stroke-linecap="round"/><line x1="59.2" y1="108.8" x2="62.4" y2="109.0" stroke="#bcbcc6" stroke-width="3.6" stroke-linecap="round"/><line x1="58.9" y1="108.4" x2="62.0" y2="108.7" stroke="#ececf4" stroke-width="1.5" stroke-linecap="round" opacity="0.75"/>
<line x1="50.0" y1="109.8" x2="60.6" y2="118.7" stroke="#8a8a96" stroke-width="5.2" stroke-linecap="round"/><line x1="50.0" y1="109.8" x2="60.6" y2="118.7" stroke="#bcbcc6" stroke-width="3.6" stroke-linecap="round"/><line x1="49.6" y1="109.5" x2="60.2" y2="118.4" stroke="#ececf4" stroke-width="1.5" stroke-linecap="round" opacity="0.75"/><line x1="60.6" y1="118.7" x2="64.2" y2="122.2" stroke="#8a8a96" stroke-width="5.2" stroke-linecap="round"/><line x1="60.6" y1="118.7" x2="64.2" y2="122.2" stroke="#bcbcc6" stroke-width="3.6" stroke-linecap="round"/><line x1="60.2" y1="118.4" x2="63.8" y2="121.9" stroke="#ececf4" stroke-width="1.5" stroke-linecap="round" opacity="0.75"/><line x1="64.2" y1="122.2" x2="67.7" y2="125.8" stroke="#a8161e" stroke-width="5.2" stroke-linecap="round"/><line x1="64.2" y1="122.2" x2="67.7" y2="125.8" stroke="#e0323a" stroke-width="3.6" stroke-linecap="round"/><line x1="63.8" y1="121.9" x2="67.4" y2="125.5" stroke="#ff9090" stroke-width="1.5" stroke-linecap="round" opacity="0.75"/>
<line x1="67.0" y1="111.0" x2="69.0" y2="122.0" stroke="#8a8a96" stroke-width="5.2" stroke-linecap="round"/><line x1="67.0" y1="111.0" x2="69.0" y2="122.0" stroke="#bcbcc6" stroke-width="3.6" stroke-linecap="round"/><line x1="66.7" y1="110.7" x2="68.7" y2="121.7" stroke="#ececf4" stroke-width="1.5" stroke-linecap="round" opacity="0.75"/><line x1="69.0" y1="122.0" x2="80.0" y2="122.0" stroke="#8a8a96" stroke-width="5.2" stroke-linecap="round"/><line x1="69.0" y1="122.0" x2="80.0" y2="122.0" stroke="#bcbcc6" stroke-width="3.6" stroke-linecap="round"/><line x1="68.7" y1="121.7" x2="79.7" y2="121.7" stroke="#ececf4" stroke-width="1.5" stroke-linecap="round" opacity="0.75"/>
<line x1="18.2" y1="106.7" x2="25.8" y2="103.7" stroke="#1a1ea0" stroke-width="5.2" stroke-linecap="round"/><line x1="18.2" y1="106.7" x2="25.8" y2="103.7" stroke="#2f3fe6" stroke-width="3.6" stroke-linecap="round"/><line x1="17.8" y1="106.4" x2="25.4" y2="103.3" stroke="#8a96ff" stroke-width="1.5" stroke-linecap="round" opacity="0.75"/><line x1="25.8" y1="103.7" x2="33.3" y2="100.6" stroke="#8a8a96" stroke-width="5.2" stroke-linecap="round"/><line x1="25.8" y1="103.7" x2="33.3" y2="100.6" stroke="#bcbcc6" stroke-width="3.6" stroke-linecap="round"/><line x1="25.4" y1="103.3" x2="32.9" y2="100.2" stroke="#ececf4" stroke-width="1.5" stroke-linecap="round" opacity="0.75"/><line x1="33.3" y1="100.6" x2="39.0" y2="98.8" stroke="#8a8a96" stroke-width="5.2" stroke-linecap="round"/><line x1="33.3" y1="100.6" x2="39.0" y2="98.8" stroke="#bcbcc6" stroke-width="3.6" stroke-linecap="round"/><line x1="32.9" y1="100.2" x2="38.7" y2="98.5" stroke="#ececf4" stroke-width="1.5" stroke-linecap="round" opacity="0.75"/><line x1="39.0" y1="98.8" x2="44.8" y2="97.1" stroke="#a8161e" stroke-width="5.2" stroke-linecap="round"/><line x1="39.0" y1="98.8" x2="44.8" y2="97.1" stroke="#e0323a" stroke-width="3.6" stroke-linecap="round"/><line x1="38.7" y1="98.5" x2="44.4" y2="96.8" stroke="#ff9090" stroke-width="1.5" stroke-linecap="round" opacity="0.75"/><line x1="44.8" y1="97.1" x2="53.0" y2="95.0" stroke="#a8161e" stroke-width="5.2" stroke-linecap="round"/><line x1="44.8" y1="97.1" x2="53.0" y2="95.0" stroke="#e0323a" stroke-width="3.6" stroke-linecap="round"/><line x1="44.4" y1="96.8" x2="52.6" y2="94.7" stroke="#ff9090" stroke-width="1.5" stroke-linecap="round" opacity="0.75"/>
<line x1="15.5" y1="110.4" x2="14.6" y2="117.5" stroke="#a8a8a8" stroke-width="3.7" stroke-linecap="round"/><line x1="15.5" y1="110.4" x2="14.6" y2="117.5" stroke="#e4e4e4" stroke-width="2.6" stroke-linecap="round"/><line x1="15.2" y1="110.1" x2="14.2" y2="117.2" stroke="#ffffff" stroke-width="1.0" stroke-linecap="round" opacity="0.75"/>
<line x1="22.5" y1="112.5" x2="30.5" y2="105.5" stroke="#a8161e" stroke-width="5.2" stroke-linecap="round"/><line x1="22.5" y1="112.5" x2="30.5" y2="105.5" stroke="#e0323a" stroke-width="3.6" stroke-linecap="round"/><line x1="22.1" y1="112.2" x2="30.1" y2="105.2" stroke="#ff9090" stroke-width="1.5" stroke-linecap="round" opacity="0.75"/>
<line x1="25.3" y1="113.0" x2="30.6" y2="115.7" stroke="#a8a8a8" stroke-width="3.7" stroke-linecap="round"/><line x1="25.3" y1="113.0" x2="30.6" y2="115.7" stroke="#e4e4e4" stroke-width="2.6" stroke-linecap="round"/><line x1="24.9" y1="112.7" x2="30.2" y2="115.4" stroke="#ffffff" stroke-width="1.0" stroke-linecap="round" opacity="0.75"/>
<line x1="32.4" y1="103.3" x2="44.0" y2="109.5" stroke="#8a8a96" stroke-width="5.2" stroke-linecap="round"/><line x1="32.4" y1="103.3" x2="44.0" y2="109.5" stroke="#bcbcc6" stroke-width="3.6" stroke-linecap="round"/><line x1="32.0" y1="103.0" x2="43.6" y2="109.2" stroke="#ececf4" stroke-width="1.5" stroke-linecap="round" opacity="0.75"/><line x1="44.0" y1="109.5" x2="54.0" y2="114.8" stroke="#8a8a96" stroke-width="5.2" stroke-linecap="round"/><line x1="44.0" y1="109.5" x2="54.0" y2="114.8" stroke="#bcbcc6" stroke-width="3.6" stroke-linecap="round"/><line x1="43.6" y1="109.2" x2="53.6" y2="114.5" stroke="#ececf4" stroke-width="1.5" stroke-linecap="round" opacity="0.75"/>
<line x1="85.0" y1="92.0" x2="100.0" y2="86.0" stroke="#f4e81c" stroke-width="1.7" stroke-dasharray="1.6,1.3"/>
</g></g>
<g clip-path="url(#cB)"><g filter="url(#sb)">
<polygon points="197,38 202.4,36 210,35 214.9,29 219.8,26 229.7,24 237.2,24 241,18 244.6,13 252,11 259.5,10 265,11 275,10 285,9 290,10 297,13 315,13 322,18 330,20 340,25 350,27 360,33 369.5,42 375.7,44 378,46 378,138 197,138" fill="#c8a000"/>
<circle cx="318.0" cy="18.2" r="7.4" fill="url(#gs)"/><circle cx="312.5" cy="17.9" r="7.8" fill="url(#gs)"/><circle cx="307.0" cy="17.6" r="8.2" fill="url(#gs)"/><circle cx="301.5" cy="17.3" r="8.6" fill="url(#gs)"/><circle cx="296.0" cy="17.0" r="9.0" fill="url(#gs)"/>
<circle cx="352.9" cy="27.2" r="9.6" fill="url(#gs)"/><circle cx="347.7" cy="27.8" r="10.0" fill="url(#gs)"/><circle cx="342.5" cy="28.4" r="10.4" fill="url(#gs)"/><circle cx="337.3" cy="29.0" r="10.8" fill="url(#gs)"/><circle cx="332.1" cy="29.6" r="11.2" fill="url(#gs)"/><circle cx="326.9" cy="30.2" r="11.6" fill="url(#gs)"/><circle cx="321.7" cy="30.8" r="12.0" fill="url(#gs)"/><circle cx="316.5" cy="31.4" r="12.4" fill="url(#gs)"/><circle cx="311.3" cy="32.0" r="12.8" fill="url(#gs)"/>
<circle cx="374.6" cy="41.5" r="10.3" fill="url(#gs)"/><circle cx="369.6" cy="43.0" r="10.8" fill="url(#gs)"/><circle cx="364.6" cy="44.5" r="11.3" fill="url(#gs)"/><circle cx="359.6" cy="46.0" r="11.8" fill="url(#gs)"/><circle cx="354.6" cy="47.5" r="12.3" fill="url(#gs)"/><circle cx="349.6" cy="49.0" r="12.8" fill="url(#gs)"/>
<circle cx="380.0" cy="58.0" r="10.0" fill="url(#gs)"/><circle cx="375.0" cy="59.0" r="10.5" fill="url(#gs)"/><circle cx="370.0" cy="60.0" r="11.0" fill="url(#gs)"/>
<circle cx="263" cy="13" r="9" fill="url(#gs)"/><circle cx="255.6" cy="14.2" r="10" fill="url(#gs)"/><circle cx="285.8" cy="14.2" r="12" fill="url(#gs)"/><circle cx="275" cy="19.5" r="10" fill="url(#gs)"/><circle cx="223.6" cy="23.5" r="8" fill="url(#gs)"/><circle cx="259.2" cy="24.8" r="12" fill="url(#gs)"/><circle cx="241.3" cy="28.9" r="11" fill="url(#gs)"/><circle cx="289.3" cy="33.7" r="12" fill="url(#gs)"/><circle cx="225.4" cy="34.2" r="13" fill="url(#gs)"/><circle cx="210.3" cy="39.5" r="10" fill="url(#gs)"/><circle cx="252" cy="40.8" r="10" fill="url(#gs)"/><circle cx="269.8" cy="40.8" r="12" fill="url(#gs)"/><circle cx="200.5" cy="41.3" r="10" fill="url(#gs)"/><circle cx="337" cy="47" r="12" fill="url(#gs)"/><circle cx="239.5" cy="50.1" r="12" fill="url(#gs)"/><circle cx="209.4" cy="53.7" r="12" fill="url(#gs)"/><circle cx="249.6" cy="62" r="12" fill="url(#gs)"/><circle cx="369.5" cy="62" r="11" fill="url(#gs)"/><circle cx="296" cy="63" r="11" fill="url(#gs)"/><circle cx="271" cy="64" r="12" fill="url(#gs)"/><circle cx="200.5" cy="64.3" r="10" fill="url(#gs)"/><circle cx="344.7" cy="64.5" r="12" fill="url(#gs)"/><circle cx="250.7" cy="66.6" r="13" fill="url(#gs)"/><circle cx="352.6" cy="68" r="13" fill="url(#gs)"/><circle cx="372.4" cy="68" r="12" fill="url(#gs)"/><circle cx="205.6" cy="70.3" r="12" fill="url(#gs)"/><circle cx="326.9" cy="75.7" r="13" fill="url(#gs)"/><circle cx="230" cy="78" r="12" fill="url(#gs)"/><circle cx="334.1" cy="81.3" r="15.5" fill="url(#gs)"/><circle cx="365.3" cy="85.5" r="15" fill="url(#gs)"/><circle cx="208.3" cy="86.3" r="13" fill="url(#gs)"/><circle cx="242.9" cy="91.6" r="14" fill="url(#gs)"/><circle cx="276.3" cy="91.6" r="13" fill="url(#gs)"/><circle cx="297.6" cy="91.6" r="12" fill="url(#gs)"/><circle cx="319.8" cy="95.5" r="15" fill="url(#gs)"/><circle cx="318.8" cy="97" r="15" fill="url(#gs)"/><circle cx="220.3" cy="105" r="15" fill="url(#gs)"/><circle cx="339.8" cy="105.4" r="15" fill="url(#gs)"/><circle cx="203" cy="110.2" r="12" fill="url(#gs)"/><circle cx="365.3" cy="112.5" r="14" fill="url(#gs)"/><circle cx="235" cy="120.9" r="16" fill="url(#gs)"/><circle cx="310.9" cy="123.5" r="17" fill="url(#gs)"/><circle cx="258.8" cy="126" r="13" fill="url(#gs)"/><circle cx="312.8" cy="127" r="14" fill="url(#gs)"/><circle cx="211" cy="128.8" r="12" fill="url(#gs)"/><circle cx="257.7" cy="128.8" r="12" fill="url(#gs)"/><circle cx="337" cy="130" r="13" fill="url(#gs)"/><circle cx="279" cy="131.5" r="14" fill="url(#gs)"/><circle cx="361" cy="132.3" r="12" fill="url(#gs)"/>
<line x1="243.5" y1="28.5" x2="245.0" y2="31.5" stroke="#a8a8a8" stroke-width="3.7" stroke-linecap="round"/><line x1="243.5" y1="28.5" x2="245.0" y2="31.5" stroke="#e4e4e4" stroke-width="2.6" stroke-linecap="round"/><line x1="243.2" y1="28.1" x2="244.7" y2="31.1" stroke="#ffffff" stroke-width="1.0" stroke-linecap="round" opacity="0.75"/>
<line x1="246.5" y1="34.0" x2="247.5" y2="38.5" stroke="#a8161e" stroke-width="5.2" stroke-linecap="round"/><line x1="246.5" y1="34.0" x2="247.5" y2="38.5" stroke="#e0323a" stroke-width="3.6" stroke-linecap="round"/><line x1="246.2" y1="33.6" x2="247.2" y2="38.1" stroke="#ff9090" stroke-width="1.5" stroke-linecap="round" opacity="0.75"/>
<line x1="246.7" y1="41.0" x2="237.0" y2="45.5" stroke="#8a8a96" stroke-width="5.2" stroke-linecap="round"/><line x1="246.7" y1="41.0" x2="237.0" y2="45.5" stroke="#bcbcc6" stroke-width="3.6" stroke-linecap="round"/><line x1="246.3" y1="40.6" x2="236.7" y2="45.1" stroke="#ececf4" stroke-width="1.5" stroke-linecap="round" opacity="0.75"/><line x1="237.0" y1="45.5" x2="228.6" y2="49.6" stroke="#8a8a96" stroke-width="5.2" stroke-linecap="round"/><line x1="237.0" y1="45.5" x2="228.6" y2="49.6" stroke="#bcbcc6" stroke-width="3.6" stroke-linecap="round"/><line x1="236.7" y1="45.1" x2="228.2" y2="49.2" stroke="#ececf4" stroke-width="1.5" stroke-linecap="round" opacity="0.75"/>
<line x1="248.0" y1="39.5" x2="248.2" y2="39.7" stroke="#a8161e" stroke-width="6.5" stroke-linecap="round"/><line x1="248.0" y1="39.5" x2="248.2" y2="39.7" stroke="#e0323a" stroke-width="4.5" stroke-linecap="round"/><line x1="247.7" y1="39.1" x2="247.8" y2="39.4" stroke="#ff9090" stroke-width="1.8" stroke-linecap="round" opacity="0.75"/>
<line x1="230.0" y1="50.5" x2="228.8" y2="53.0" stroke="#1a1ea0" stroke-width="5.2" stroke-linecap="round"/><line x1="230.0" y1="50.5" x2="228.8" y2="53.0" stroke="#2f3fe6" stroke-width="3.6" stroke-linecap="round"/><line x1="229.7" y1="50.1" x2="228.4" y2="52.6" stroke="#8a96ff" stroke-width="1.5" stroke-linecap="round" opacity="0.75"/><line x1="228.8" y1="53.0" x2="227.5" y2="55.5" stroke="#a8161e" stroke-width="5.2" stroke-linecap="round"/><line x1="228.8" y1="53.0" x2="227.5" y2="55.5" stroke="#e0323a" stroke-width="3.6" stroke-linecap="round"/><line x1="228.4" y1="52.6" x2="227.2" y2="55.1" stroke="#ff9090" stroke-width="1.5" stroke-linecap="round" opacity="0.75"/>
<line x1="226.0" y1="55.0" x2="221.0" y2="63.0" stroke="#8a8a96" stroke-width="5.2" stroke-linecap="round"/><line x1="226.0" y1="55.0" x2="221.0" y2="63.0" stroke="#bcbcc6" stroke-width="3.6" stroke-linecap="round"/><line x1="225.7" y1="54.6" x2="220.7" y2="62.6" stroke="#ececf4" stroke-width="1.5" stroke-linecap="round" opacity="0.75"/>
<line x1="212.0" y1="62.3" x2="215.5" y2="62.3" stroke="#a8161e" stroke-width="5.2" stroke-linecap="round"/><line x1="212.0" y1="62.3" x2="215.5" y2="62.3" stroke="#e0323a" stroke-width="3.6" stroke-linecap="round"/><line x1="211.7" y1="61.9" x2="215.2" y2="61.9" stroke="#ff9090" stroke-width="1.5" stroke-linecap="round" opacity="0.75"/><line x1="215.5" y1="62.3" x2="219.0" y2="62.3" stroke="#8a8a96" stroke-width="5.2" stroke-linecap="round"/><line x1="215.5" y1="62.3" x2="219.0" y2="62.3" stroke="#bcbcc6" stroke-width="3.6" stroke-linecap="round"/><line x1="215.2" y1="61.9" x2="218.7" y2="61.9" stroke="#ececf4" stroke-width="1.5" stroke-linecap="round" opacity="0.75"/><line x1="219.0" y1="62.3" x2="227.0" y2="62.0" stroke="#8a8a96" stroke-width="5.2" stroke-linecap="round"/><line x1="219.0" y1="62.3" x2="227.0" y2="62.0" stroke="#bcbcc6" stroke-width="3.6" stroke-linecap="round"/><line x1="218.7" y1="61.9" x2="226.7" y2="61.6" stroke="#ececf4" stroke-width="1.5" stroke-linecap="round" opacity="0.75"/>
<line x1="232.0" y1="59.0" x2="235.5" y2="61.0" stroke="#1a1ea0" stroke-width="5.2" stroke-linecap="round"/><line x1="232.0" y1="59.0" x2="235.5" y2="61.0" stroke="#2f3fe6" stroke-width="3.6" stroke-linecap="round"/><line x1="231.7" y1="58.6" x2="235.2" y2="60.6" stroke="#8a96ff" stroke-width="1.5" stroke-linecap="round" opacity="0.75"/>
<line x1="237.0" y1="62.5" x2="240.5" y2="65.5" stroke="#a8a8a8" stroke-width="3.7" stroke-linecap="round"/><line x1="237.0" y1="62.5" x2="240.5" y2="65.5" stroke="#e4e4e4" stroke-width="2.6" stroke-linecap="round"/><line x1="236.7" y1="62.1" x2="240.2" y2="65.2" stroke="#ffffff" stroke-width="1.0" stroke-linecap="round" opacity="0.75"/>
<line x1="223.0" y1="64.7" x2="223.0" y2="75.0" stroke="#8a8a96" stroke-width="5.2" stroke-linecap="round"/><line x1="223.0" y1="64.7" x2="223.0" y2="75.0" stroke="#bcbcc6" stroke-width="3.6" stroke-linecap="round"/><line x1="222.7" y1="64.4" x2="222.7" y2="74.7" stroke="#ececf4" stroke-width="1.5" stroke-linecap="round" opacity="0.75"/><line x1="223.0" y1="75.0" x2="223.0" y2="84.0" stroke="#8a8a96" stroke-width="5.2" stroke-linecap="round"/><line x1="223.0" y1="75.0" x2="223.0" y2="84.0" stroke="#bcbcc6" stroke-width="3.6" stroke-linecap="round"/><line x1="222.7" y1="74.7" x2="222.7" y2="83.7" stroke="#ececf4" stroke-width="1.5" stroke-linecap="round" opacity="0.75"/>
<line x1="220.0" y1="87.3" x2="220.2" y2="87.5" stroke="#a8161e" stroke-width="6.0" stroke-linecap="round"/><line x1="220.0" y1="87.3" x2="220.2" y2="87.5" stroke="#e0323a" stroke-width="4.2" stroke-linecap="round"/><line x1="219.7" y1="87.0" x2="219.8" y2="87.2" stroke="#ff9090" stroke-width="1.7" stroke-linecap="round" opacity="0.75"/>
<line x1="223.0" y1="88.0" x2="228.0" y2="92.0" stroke="#a8a8a8" stroke-width="3.7" stroke-linecap="round"/><line x1="223.0" y1="88.0" x2="228.0" y2="92.0" stroke="#e4e4e4" stroke-width="2.6" stroke-linecap="round"/><line x1="222.7" y1="87.7" x2="227.7" y2="91.7" stroke="#ffffff" stroke-width="1.0" stroke-linecap="round" opacity="0.75"/>
<line x1="213.6" y1="76.0" x2="219.6" y2="76.0" stroke="#a8a8a8" stroke-width="3.7" stroke-linecap="round"/><line x1="213.6" y1="76.0" x2="219.6" y2="76.0" stroke="#e4e4e4" stroke-width="2.6" stroke-linecap="round"/><line x1="213.2" y1="75.7" x2="219.2" y2="75.7" stroke="#ffffff" stroke-width="1.0" stroke-linecap="round" opacity="0.75"/>
<line x1="231.6" y1="53.0" x2="245.0" y2="55.7" stroke="#f4e81c" stroke-width="1.7" stroke-dasharray="1.6,1.3"/>
<line x1="271.6" y1="23.0" x2="270.0" y2="30.0" stroke="#8a8a96" stroke-width="5.2" stroke-linecap="round"/><line x1="271.6" y1="23.0" x2="270.0" y2="30.0" stroke="#bcbcc6" stroke-width="3.6" stroke-linecap="round"/><line x1="271.2" y1="22.6" x2="269.6" y2="29.6" stroke="#ececf4" stroke-width="1.5" stroke-linecap="round" opacity="0.75"/><line x1="270.0" y1="30.0" x2="269.8" y2="39.0" stroke="#8a8a96" stroke-width="5.2" stroke-linecap="round"/><line x1="270.0" y1="30.0" x2="269.8" y2="39.0" stroke="#bcbcc6" stroke-width="3.6" stroke-linecap="round"/><line x1="269.6" y1="29.6" x2="269.4" y2="38.6" stroke="#ececf4" stroke-width="1.5" stroke-linecap="round" opacity="0.75"/><line x1="269.8" y1="39.0" x2="269.1" y2="40.8" stroke="#8a8a96" stroke-width="5.2" stroke-linecap="round"/><line x1="269.8" y1="39.0" x2="269.1" y2="40.8" stroke="#bcbcc6" stroke-width="3.6" stroke-linecap="round"/><line x1="269.4" y1="38.6" x2="268.8" y2="40.4" stroke="#ececf4" stroke-width="1.5" stroke-linecap="round" opacity="0.75"/><line x1="269.1" y1="40.8" x2="268.5" y2="42.5" stroke="#1a1ea0" stroke-width="5.2" stroke-linecap="round"/><line x1="269.1" y1="40.8" x2="268.5" y2="42.5" stroke="#2f3fe6" stroke-width="3.6" stroke-linecap="round"/><line x1="268.8" y1="40.4" x2="268.1" y2="42.1" stroke="#8a96ff" stroke-width="1.5" stroke-linecap="round" opacity="0.75"/>
<line x1="271.6" y1="26.6" x2="280.5" y2="26.6" stroke="#8a8a96" stroke-width="5.2" stroke-linecap="round"/><line x1="271.6" y1="26.6" x2="280.5" y2="26.6" stroke="#bcbcc6" stroke-width="3.6" stroke-linecap="round"/><line x1="271.2" y1="26.2" x2="280.1" y2="26.2" stroke="#ececf4" stroke-width="1.5" stroke-linecap="round" opacity="0.75"/><line x1="280.5" y1="26.6" x2="285.8" y2="22.1" stroke="#8a8a96" stroke-width="5.2" stroke-linecap="round"/><line x1="280.5" y1="26.6" x2="285.8" y2="22.1" stroke="#bcbcc6" stroke-width="3.6" stroke-linecap="round"/><line x1="280.1" y1="26.2" x2="285.4" y2="21.8" stroke="#ececf4" stroke-width="1.5" stroke-linecap="round" opacity="0.75"/><line x1="285.8" y1="22.1" x2="291.0" y2="17.7" stroke="#a8161e" stroke-width="5.2" stroke-linecap="round"/><line x1="285.8" y1="22.1" x2="291.0" y2="17.7" stroke="#e0323a" stroke-width="3.6" stroke-linecap="round"/><line x1="285.4" y1="21.8" x2="290.6" y2="17.3" stroke="#ff9090" stroke-width="1.5" stroke-linecap="round" opacity="0.75"/>
<line x1="277.5" y1="30.0" x2="277.5" y2="33.5" stroke="#a8161e" stroke-width="5.2" stroke-linecap="round"/><line x1="277.5" y1="30.0" x2="277.5" y2="33.5" stroke="#e0323a" stroke-width="3.6" stroke-linecap="round"/><line x1="277.1" y1="29.6" x2="277.1" y2="33.1" stroke="#ff9090" stroke-width="1.5" stroke-linecap="round" opacity="0.75"/><line x1="280.5" y1="29.5" x2="285.8" y2="29.5" stroke="#a8a8a8" stroke-width="3.7" stroke-linecap="round"/><line x1="280.5" y1="29.5" x2="285.8" y2="29.5" stroke="#e4e4e4" stroke-width="2.6" stroke-linecap="round"/><line x1="280.1" y1="29.1" x2="285.4" y2="29.1" stroke="#ffffff" stroke-width="1.0" stroke-linecap="round" opacity="0.75"/>
<line x1="260.0" y1="48.0" x2="264.0" y2="47.8" stroke="#a8161e" stroke-width="5.2" stroke-linecap="round"/><line x1="260.0" y1="48.0" x2="264.0" y2="47.8" stroke="#e0323a" stroke-width="3.6" stroke-linecap="round"/><line x1="259.6" y1="47.6" x2="263.6" y2="47.4" stroke="#ff9090" stroke-width="1.5" stroke-linecap="round" opacity="0.75"/><line x1="264.0" y1="47.8" x2="268.0" y2="47.5" stroke="#8a8a96" stroke-width="5.2" stroke-linecap="round"/><line x1="264.0" y1="47.8" x2="268.0" y2="47.5" stroke="#bcbcc6" stroke-width="3.6" stroke-linecap="round"/><line x1="263.6" y1="47.4" x2="267.6" y2="47.1" stroke="#ececf4" stroke-width="1.5" stroke-linecap="round" opacity="0.75"/><line x1="268.0" y1="47.5" x2="278.0" y2="47.5" stroke="#8a8a96" stroke-width="5.2" stroke-linecap="round"/><line x1="268.0" y1="47.5" x2="278.0" y2="47.5" stroke="#bcbcc6" stroke-width="3.6" stroke-linecap="round"/><line x1="267.6" y1="47.1" x2="277.6" y2="47.1" stroke="#ececf4" stroke-width="1.5" stroke-linecap="round" opacity="0.75"/><line x1="278.0" y1="47.5" x2="281.0" y2="48.5" stroke="#8a8a96" stroke-width="5.2" stroke-linecap="round"/><line x1="278.0" y1="47.5" x2="281.0" y2="48.5" stroke="#bcbcc6" stroke-width="3.6" stroke-linecap="round"/><line x1="277.6" y1="47.1" x2="280.6" y2="48.1" stroke="#ececf4" stroke-width="1.5" stroke-linecap="round" opacity="0.75"/><line x1="281.0" y1="48.5" x2="284.0" y2="49.5" stroke="#1a1ea0" stroke-width="5.2" stroke-linecap="round"/><line x1="281.0" y1="48.5" x2="284.0" y2="49.5" stroke="#2f3fe6" stroke-width="3.6" stroke-linecap="round"/><line x1="280.6" y1="48.1" x2="283.6" y2="49.1" stroke="#8a96ff" stroke-width="1.5" stroke-linecap="round" opacity="0.75"/>
<line x1="289.0" y1="57.5" x2="294.0" y2="58.5" stroke="#8a8a96" stroke-width="5.2" stroke-linecap="round"/><line x1="289.0" y1="57.5" x2="294.0" y2="58.5" stroke="#bcbcc6" stroke-width="3.6" stroke-linecap="round"/><line x1="288.6" y1="57.1" x2="293.6" y2="58.1" stroke="#ececf4" stroke-width="1.5" stroke-linecap="round" opacity="0.75"/><line x1="294.0" y1="58.5" x2="299.0" y2="59.5" stroke="#a8a8a8" stroke-width="3.7" stroke-linecap="round"/><line x1="294.0" y1="58.5" x2="299.0" y2="59.5" stroke="#e4e4e4" stroke-width="2.6" stroke-linecap="round"/><line x1="293.6" y1="58.1" x2="298.6" y2="59.1" stroke="#ffffff" stroke-width="1.0" stroke-linecap="round" opacity="0.75"/>
<line x1="289.0" y1="63.0" x2="293.5" y2="64.0" stroke="#8a8a96" stroke-width="5.2" stroke-linecap="round"/><line x1="289.0" y1="63.0" x2="293.5" y2="64.0" stroke="#bcbcc6" stroke-width="3.6" stroke-linecap="round"/><line x1="288.6" y1="62.6" x2="293.1" y2="63.6" stroke="#ececf4" stroke-width="1.5" stroke-linecap="round" opacity="0.75"/><line x1="293.5" y1="64.0" x2="298.0" y2="65.0" stroke="#a8a8a8" stroke-width="3.7" stroke-linecap="round"/><line x1="293.5" y1="64.0" x2="298.0" y2="65.0" stroke="#e4e4e4" stroke-width="2.6" stroke-linecap="round"/><line x1="293.1" y1="63.6" x2="297.6" y2="64.7" stroke="#ffffff" stroke-width="1.0" stroke-linecap="round" opacity="0.75"/>
<line x1="316.0" y1="56.4" x2="320.0" y2="57.2" stroke="#1a1ea0" stroke-width="5.2" stroke-linecap="round"/><line x1="316.0" y1="56.4" x2="320.0" y2="57.2" stroke="#2f3fe6" stroke-width="3.6" stroke-linecap="round"/><line x1="315.6" y1="56.0" x2="319.6" y2="56.9" stroke="#8a96ff" stroke-width="1.5" stroke-linecap="round" opacity="0.75"/><line x1="320.0" y1="57.2" x2="324.0" y2="58.0" stroke="#8a8a96" stroke-width="5.2" stroke-linecap="round"/><line x1="320.0" y1="57.2" x2="324.0" y2="58.0" stroke="#bcbcc6" stroke-width="3.6" stroke-linecap="round"/><line x1="319.6" y1="56.9" x2="323.6" y2="57.6" stroke="#ececf4" stroke-width="1.5" stroke-linecap="round" opacity="0.75"/><line x1="324.0" y1="58.0" x2="332.9" y2="62.0" stroke="#8a8a96" stroke-width="5.2" stroke-linecap="round"/><line x1="324.0" y1="58.0" x2="332.9" y2="62.0" stroke="#bcbcc6" stroke-width="3.6" stroke-linecap="round"/><line x1="323.6" y1="57.6" x2="332.5" y2="61.6" stroke="#ececf4" stroke-width="1.5" stroke-linecap="round" opacity="0.75"/>
<line x1="258.6" y1="57.8" x2="271.0" y2="51.5" stroke="#a45a5a" stroke-width="5.8" stroke-linecap="round"/><line x1="258.6" y1="57.8" x2="271.0" y2="51.5" stroke="#d28484" stroke-width="4.1" stroke-linecap="round"/><line x1="258.2" y1="57.4" x2="270.6" y2="51.1" stroke="#eaaaaa" stroke-width="1.6" stroke-linecap="round" opacity="0.75"/><line x1="271.0" y1="51.5" x2="283.5" y2="56.0" stroke="#a45a5a" stroke-width="5.8" stroke-linecap="round"/><line x1="271.0" y1="51.5" x2="283.5" y2="56.0" stroke="#d28484" stroke-width="4.1" stroke-linecap="round"/><line x1="270.6" y1="51.1" x2="283.1" y2="55.6" stroke="#eaaaaa" stroke-width="1.6" stroke-linecap="round" opacity="0.75"/><line x1="283.5" y1="56.0" x2="283.5" y2="69.3" stroke="#a45a5a" stroke-width="5.8" stroke-linecap="round"/><line x1="283.5" y1="56.0" x2="283.5" y2="69.3" stroke="#d28484" stroke-width="4.1" stroke-linecap="round"/><line x1="283.1" y1="55.6" x2="283.1" y2="69.0" stroke="#eaaaaa" stroke-width="1.6" stroke-linecap="round" opacity="0.75"/><line x1="283.5" y1="69.3" x2="273.7" y2="74.6" stroke="#a45a5a" stroke-width="5.8" stroke-linecap="round"/><line x1="283.5" y1="69.3" x2="273.7" y2="74.6" stroke="#d28484" stroke-width="4.1" stroke-linecap="round"/><line x1="283.1" y1="69.0" x2="273.3" y2="74.2" stroke="#eaaaaa" stroke-width="1.6" stroke-linecap="round" opacity="0.75"/><line x1="273.7" y1="74.6" x2="260.4" y2="70.2" stroke="#a45a5a" stroke-width="5.8" stroke-linecap="round"/><line x1="273.7" y1="74.6" x2="260.4" y2="70.2" stroke="#d28484" stroke-width="4.1" stroke-linecap="round"/><line x1="273.3" y1="74.2" x2="260.0" y2="69.9" stroke="#eaaaaa" stroke-width="1.6" stroke-linecap="round" opacity="0.75"/><line x1="260.4" y1="70.2" x2="258.6" y2="57.8" stroke="#a45a5a" stroke-width="5.8" stroke-linecap="round"/><line x1="260.4" y1="70.2" x2="258.6" y2="57.8" stroke="#d28484" stroke-width="4.1" stroke-linecap="round"/><line x1="260.0" y1="69.9" x2="258.2" y2="57.4" stroke="#eaaaaa" stroke-width="1.6" stroke-linecap="round" opacity="0.75"/><line x1="322.0" y1="32.0" x2="335.2" y2="24.0" stroke="#a45a5a" stroke-width="5.8" stroke-linecap="round"/><line x1="322.0" y1="32.0" x2="335.2" y2="24.0" stroke="#d28484" stroke-width="4.1" stroke-linecap="round"/><line x1="321.6" y1="31.6" x2="334.8" y2="23.6" stroke="#eaaaaa" stroke-width="1.6" stroke-linecap="round" opacity="0.75"/><line x1="335.2" y1="24.0" x2="350.9" y2="32.3" stroke="#a45a5a" stroke-width="5.8" stroke-linecap="round"/><line x1="335.2" y1="24.0" x2="350.9" y2="32.3" stroke="#d28484" stroke-width="4.1" stroke-linecap="round"/><line x1="334.8" y1="23.6" x2="350.5" y2="31.9" stroke="#eaaaaa" stroke-width="1.6" stroke-linecap="round" opacity="0.75"/><line x1="350.9" y1="32.3" x2="349.6" y2="50.9" stroke="#a45a5a" stroke-width="5.8" stroke-linecap="round"/><line x1="350.9" y1="32.3" x2="349.6" y2="50.9" stroke="#d28484" stroke-width="4.1" stroke-linecap="round"/><line x1="350.5" y1="31.9" x2="349.2" y2="50.5" stroke="#eaaaaa" stroke-width="1.6" stroke-linecap="round" opacity="0.75"/><line x1="349.6" y1="50.9" x2="336.0" y2="57.0" stroke="#a45a5a" stroke-width="5.8" stroke-linecap="round"/><line x1="349.6" y1="50.9" x2="336.0" y2="57.0" stroke="#d28484" stroke-width="4.1" stroke-linecap="round"/><line x1="349.2" y1="50.5" x2="335.6" y2="56.6" stroke="#eaaaaa" stroke-width="1.6" stroke-linecap="round" opacity="0.75"/><line x1="336.0" y1="57.0" x2="322.2" y2="45.3" stroke="#a45a5a" stroke-width="5.8" stroke-linecap="round"/><line x1="336.0" y1="57.0" x2="322.2" y2="45.3" stroke="#d28484" stroke-width="4.1" stroke-linecap="round"/><line x1="335.6" y1="56.6" x2="321.8" y2="44.9" stroke="#eaaaaa" stroke-width="1.6" stroke-linecap="round" opacity="0.75"/><line x1="322.2" y1="45.3" x2="322.0" y2="32.0" stroke="#a45a5a" stroke-width="5.8" stroke-linecap="round"/><line x1="322.2" y1="45.3" x2="322.0" y2="32.0" stroke="#d28484" stroke-width="4.1" stroke-linecap="round"/><line x1="321.8" y1="44.9" x2="321.6" y2="31.6" stroke="#eaaaaa" stroke-width="1.6" stroke-linecap="round" opacity="0.75"/><line x1="283.5" y1="56.0" x2="289.8" y2="52.8" stroke="#a45a5a" stroke-width="5.8" stroke-linecap="round"/><line x1="283.5" y1="56.0" x2="289.8" y2="52.8" stroke="#d28484" stroke-width="4.1" stroke-linecap="round"/><line x1="283.1" y1="55.6" x2="289.4" y2="52.4" stroke="#eaaaaa" stroke-width="1.6" stroke-linecap="round" opacity="0.75"/><line x1="289.8" y1="52.8" x2="296.0" y2="49.6" stroke="#a8161e" stroke-width="5.2" stroke-linecap="round"/><line x1="289.8" y1="52.8" x2="296.0" y2="49.6" stroke="#e0323a" stroke-width="3.6" stroke-linecap="round"/><line x1="289.4" y1="52.4" x2="295.6" y2="49.2" stroke="#ff9090" stroke-width="1.5" stroke-linecap="round" opacity="0.75"/><line x1="296.0" y1="49.6" x2="302.0" y2="51.5" stroke="#a8161e" stroke-width="5.2" stroke-linecap="round"/><line x1="296.0" y1="49.6" x2="302.0" y2="51.5" stroke="#e0323a" stroke-width="3.6" stroke-linecap="round"/><line x1="295.6" y1="49.2" x2="301.6" y2="51.1" stroke="#ff9090" stroke-width="1.5" stroke-linecap="round" opacity="0.75"/><line x1="302.0" y1="51.5" x2="308.0" y2="53.3" stroke="#a45a5a" stroke-width="5.8" stroke-linecap="round"/><line x1="302.0" y1="51.5" x2="308.0" y2="53.3" stroke="#d28484" stroke-width="4.1" stroke-linecap="round"/><line x1="301.6" y1="51.1" x2="307.6" y2="52.9" stroke="#eaaaaa" stroke-width="1.6" stroke-linecap="round" opacity="0.75"/><line x1="308.0" y1="53.3" x2="309.0" y2="65.7" stroke="#a45a5a" stroke-width="5.8" stroke-linecap="round"/><line x1="308.0" y1="53.3" x2="309.0" y2="65.7" stroke="#d28484" stroke-width="4.1" stroke-linecap="round"/><line x1="307.6" y1="52.9" x2="308.6" y2="65.4" stroke="#eaaaaa" stroke-width="1.6" stroke-linecap="round" opacity="0.75"/><line x1="309.0" y1="65.7" x2="296.5" y2="72.8" stroke="#a45a5a" stroke-width="5.8" stroke-linecap="round"/><line x1="309.0" y1="65.7" x2="296.5" y2="72.8" stroke="#d28484" stroke-width="4.1" stroke-linecap="round"/><line x1="308.6" y1="65.4" x2="296.1" y2="72.5" stroke="#eaaaaa" stroke-width="1.6" stroke-linecap="round" opacity="0.75"/><line x1="296.5" y1="72.8" x2="283.5" y2="69.3" stroke="#a45a5a" stroke-width="5.8" stroke-linecap="round"/><line x1="296.5" y1="72.8" x2="283.5" y2="69.3" stroke="#d28484" stroke-width="4.1" stroke-linecap="round"/><line x1="296.1" y1="72.5" x2="283.1" y2="69.0" stroke="#eaaaaa" stroke-width="1.6" stroke-linecap="round" opacity="0.75"/><line x1="283.5" y1="69.3" x2="283.5" y2="56.0" stroke="#a45a5a" stroke-width="5.8" stroke-linecap="round"/><line x1="283.5" y1="69.3" x2="283.5" y2="56.0" stroke="#d28484" stroke-width="4.1" stroke-linecap="round"/><line x1="283.1" y1="69.0" x2="283.1" y2="55.6" stroke="#eaaaaa" stroke-width="1.6" stroke-linecap="round" opacity="0.75"/><line x1="308.0" y1="53.3" x2="322.2" y2="45.3" stroke="#a45a5a" stroke-width="5.8" stroke-linecap="round"/><line x1="308.0" y1="53.3" x2="322.2" y2="45.3" stroke="#d28484" stroke-width="4.1" stroke-linecap="round"/><line x1="307.6" y1="52.9" x2="321.8" y2="44.9" stroke="#eaaaaa" stroke-width="1.6" stroke-linecap="round" opacity="0.75"/><line x1="258.6" y1="57.8" x2="253.3" y2="56.1" stroke="#a45a5a" stroke-width="5.8" stroke-linecap="round"/><line x1="258.6" y1="57.8" x2="253.3" y2="56.1" stroke="#d28484" stroke-width="4.1" stroke-linecap="round"/><line x1="258.2" y1="57.4" x2="253.0" y2="55.8" stroke="#eaaaaa" stroke-width="1.6" stroke-linecap="round" opacity="0.75"/><line x1="253.3" y1="56.1" x2="248.0" y2="54.5" stroke="#a8161e" stroke-width="5.2" stroke-linecap="round"/><line x1="253.3" y1="56.1" x2="248.0" y2="54.5" stroke="#e0323a" stroke-width="3.6" stroke-linecap="round"/><line x1="253.0" y1="55.8" x2="247.7" y2="54.1" stroke="#ff9090" stroke-width="1.5" stroke-linecap="round" opacity="0.75"/><line x1="273.7" y1="74.6" x2="274.1" y2="79.3" stroke="#a45a5a" stroke-width="5.8" stroke-linecap="round"/><line x1="273.7" y1="74.6" x2="274.1" y2="79.3" stroke="#d28484" stroke-width="4.1" stroke-linecap="round"/><line x1="273.3" y1="74.2" x2="273.8" y2="79.0" stroke="#eaaaaa" stroke-width="1.6" stroke-linecap="round" opacity="0.75"/><line x1="274.1" y1="79.3" x2="274.5" y2="84.0" stroke="#a8161e" stroke-width="5.2" stroke-linecap="round"/><line x1="274.1" y1="79.3" x2="274.5" y2="84.0" stroke="#e0323a" stroke-width="3.6" stroke-linecap="round"/><line x1="273.8" y1="79.0" x2="274.1" y2="83.7" stroke="#ff9090" stroke-width="1.5" stroke-linecap="round" opacity="0.75"/><line x1="296.5" y1="72.8" x2="297.0" y2="76.9" stroke="#a45a5a" stroke-width="5.8" stroke-linecap="round"/><line x1="296.5" y1="72.8" x2="297.0" y2="76.9" stroke="#d28484" stroke-width="4.1" stroke-linecap="round"/><line x1="296.1" y1="72.5" x2="296.6" y2="76.6" stroke="#eaaaaa" stroke-width="1.6" stroke-linecap="round" opacity="0.75"/><line x1="297.0" y1="76.9" x2="297.5" y2="81.0" stroke="#a8161e" stroke-width="5.2" stroke-linecap="round"/><line x1="297.0" y1="76.9" x2="297.5" y2="81.0" stroke="#e0323a" stroke-width="3.6" stroke-linecap="round"/><line x1="296.6" y1="76.6" x2="297.1" y2="80.7" stroke="#ff9090" stroke-width="1.5" stroke-linecap="round" opacity="0.75"/><line x1="309.0" y1="65.7" x2="315.0" y2="66.8" stroke="#a45a5a" stroke-width="5.8" stroke-linecap="round"/><line x1="309.0" y1="65.7" x2="315.0" y2="66.8" stroke="#d28484" stroke-width="4.1" stroke-linecap="round"/><line x1="308.6" y1="65.4" x2="314.6" y2="66.5" stroke="#eaaaaa" stroke-width="1.6" stroke-linecap="round" opacity="0.75"/><line x1="315.0" y1="66.8" x2="321.0" y2="68.0" stroke="#a8161e" stroke-width="5.2" stroke-linecap="round"/><line x1="315.0" y1="66.8" x2="321.0" y2="68.0" stroke="#e0323a" stroke-width="3.6" stroke-linecap="round"/><line x1="314.6" y1="66.5" x2="320.6" y2="67.7" stroke="#ff9090" stroke-width="1.5" stroke-linecap="round" opacity="0.75"/><line x1="350.9" y1="32.3" x2="357.7" y2="27.9" stroke="#a45a5a" stroke-width="5.8" stroke-linecap="round"/><line x1="350.9" y1="32.3" x2="357.7" y2="27.9" stroke="#d28484" stroke-width="4.1" stroke-linecap="round"/><line x1="350.5" y1="31.9" x2="357.3" y2="27.6" stroke="#eaaaaa" stroke-width="1.6" stroke-linecap="round" opacity="0.75"/><line x1="357.7" y1="27.9" x2="364.5" y2="23.6" stroke="#a8161e" stroke-width="5.2" stroke-linecap="round"/><line x1="357.7" y1="27.9" x2="364.5" y2="23.6" stroke="#e0323a" stroke-width="3.6" stroke-linecap="round"/><line x1="357.3" y1="27.6" x2="364.1" y2="23.2" stroke="#ff9090" stroke-width="1.5" stroke-linecap="round" opacity="0.75"/><line x1="364.5" y1="23.6" x2="370.7" y2="28.5" stroke="#a8a8a8" stroke-width="3.7" stroke-linecap="round"/><line x1="364.5" y1="23.6" x2="370.7" y2="28.5" stroke="#e4e4e4" stroke-width="2.6" stroke-linecap="round"/><line x1="364.1" y1="23.2" x2="370.3" y2="28.1" stroke="#ffffff" stroke-width="1.0" stroke-linecap="round" opacity="0.75"/>
<line x1="307.5" y1="48.3" x2="307.8" y2="48.5" stroke="#a8161e" stroke-width="5.2" stroke-linecap="round"/><line x1="307.5" y1="48.3" x2="307.8" y2="48.5" stroke="#e0323a" stroke-width="3.6" stroke-linecap="round"/><line x1="307.1" y1="47.9" x2="307.4" y2="48.1" stroke="#ff9090" stroke-width="1.5" stroke-linecap="round" opacity="0.75"/>
<line x1="317.0" y1="58.0" x2="324.0" y2="63.0" stroke="#f4e81c" stroke-width="1.7" stroke-dasharray="1.6,1.3"/>
<line x1="247.0" y1="95.0" x2="249.4" y2="93.1" stroke="#a8a8a8" stroke-width="3.7" stroke-linecap="round"/><line x1="247.0" y1="95.0" x2="249.4" y2="93.1" stroke="#e4e4e4" stroke-width="2.6" stroke-linecap="round"/><line x1="246.7" y1="94.7" x2="249.1" y2="92.8" stroke="#ffffff" stroke-width="1.0" stroke-linecap="round" opacity="0.75"/><line x1="249.4" y1="93.1" x2="251.8" y2="91.2" stroke="#1a1ea0" stroke-width="5.2" stroke-linecap="round"/><line x1="249.4" y1="93.1" x2="251.8" y2="91.2" stroke="#2f3fe6" stroke-width="3.6" stroke-linecap="round"/><line x1="249.1" y1="92.8" x2="251.5" y2="90.9" stroke="#8a96ff" stroke-width="1.5" stroke-linecap="round" opacity="0.75"/><line x1="251.8" y1="91.2" x2="257.1" y2="92.1" stroke="#1a1ea0" stroke-width="5.2" stroke-linecap="round"/><line x1="251.8" y1="91.2" x2="257.1" y2="92.1" stroke="#2f3fe6" stroke-width="3.6" stroke-linecap="round"/><line x1="251.5" y1="90.9" x2="256.8" y2="91.8" stroke="#8a96ff" stroke-width="1.5" stroke-linecap="round" opacity="0.75"/><line x1="257.1" y1="92.1" x2="262.4" y2="93.0" stroke="#8a8a96" stroke-width="5.2" stroke-linecap="round"/><line x1="257.1" y1="92.1" x2="262.4" y2="93.0" stroke="#bcbcc6" stroke-width="3.6" stroke-linecap="round"/><line x1="256.8" y1="91.8" x2="262.0" y2="92.7" stroke="#ececf4" stroke-width="1.5" stroke-linecap="round" opacity="0.75"/><line x1="262.4" y1="93.0" x2="278.4" y2="97.4" stroke="#8a8a96" stroke-width="5.2" stroke-linecap="round"/><line x1="262.4" y1="93.0" x2="278.4" y2="97.4" stroke="#bcbcc6" stroke-width="3.6" stroke-linecap="round"/><line x1="262.0" y1="92.7" x2="278.0" y2="97.1" stroke="#ececf4" stroke-width="1.5" stroke-linecap="round" opacity="0.75"/>
<line x1="267.7" y1="99.2" x2="281.9" y2="101.8" stroke="#8a8a96" stroke-width="5.2" stroke-linecap="round"/><line x1="267.7" y1="99.2" x2="281.9" y2="101.8" stroke="#bcbcc6" stroke-width="3.6" stroke-linecap="round"/><line x1="267.3" y1="98.9" x2="281.5" y2="101.5" stroke="#ececf4" stroke-width="1.5" stroke-linecap="round" opacity="0.75"/><line x1="281.9" y1="101.8" x2="296.0" y2="104.5" stroke="#a8161e" stroke-width="5.2" stroke-linecap="round"/><line x1="281.9" y1="101.8" x2="296.0" y2="104.5" stroke="#e0323a" stroke-width="3.6" stroke-linecap="round"/><line x1="281.5" y1="101.5" x2="295.6" y2="104.2" stroke="#ff9090" stroke-width="1.5" stroke-linecap="round" opacity="0.75"/>
<line x1="270.0" y1="100.0" x2="266.2" y2="104.0" stroke="#a8161e" stroke-width="5.2" stroke-linecap="round"/><line x1="270.0" y1="100.0" x2="266.2" y2="104.0" stroke="#e0323a" stroke-width="3.6" stroke-linecap="round"/><line x1="269.6" y1="99.7" x2="265.9" y2="103.7" stroke="#ff9090" stroke-width="1.5" stroke-linecap="round" opacity="0.75"/><line x1="266.2" y1="104.0" x2="262.5" y2="108.0" stroke="#8a8a96" stroke-width="5.2" stroke-linecap="round"/><line x1="266.2" y1="104.0" x2="262.5" y2="108.0" stroke="#bcbcc6" stroke-width="3.6" stroke-linecap="round"/><line x1="265.9" y1="103.7" x2="262.1" y2="107.7" stroke="#ececf4" stroke-width="1.5" stroke-linecap="round" opacity="0.75"/>
<line x1="263.0" y1="108.0" x2="264.0" y2="124.0" stroke="#8a8a96" stroke-width="5.2" stroke-linecap="round"/><line x1="263.0" y1="108.0" x2="264.0" y2="124.0" stroke="#bcbcc6" stroke-width="3.6" stroke-linecap="round"/><line x1="262.6" y1="107.7" x2="263.6" y2="123.7" stroke="#ececf4" stroke-width="1.5" stroke-linecap="round" opacity="0.75"/><line x1="264.0" y1="124.0" x2="265.0" y2="127.5" stroke="#8a8a96" stroke-width="5.2" stroke-linecap="round"/><line x1="264.0" y1="124.0" x2="265.0" y2="127.5" stroke="#bcbcc6" stroke-width="3.6" stroke-linecap="round"/><line x1="263.6" y1="123.7" x2="264.6" y2="127.2" stroke="#ececf4" stroke-width="1.5" stroke-linecap="round" opacity="0.75"/><line x1="265.0" y1="127.5" x2="266.0" y2="131.0" stroke="#a8161e" stroke-width="5.2" stroke-linecap="round"/><line x1="265.0" y1="127.5" x2="266.0" y2="131.0" stroke="#e0323a" stroke-width="3.6" stroke-linecap="round"/><line x1="264.6" y1="127.2" x2="265.6" y2="130.7" stroke="#ff9090" stroke-width="1.5" stroke-linecap="round" opacity="0.75"/>
<line x1="267.7" y1="104.5" x2="283.7" y2="113.4" stroke="#8a8a96" stroke-width="5.2" stroke-linecap="round"/><line x1="267.7" y1="104.5" x2="283.7" y2="113.4" stroke="#bcbcc6" stroke-width="3.6" stroke-linecap="round"/><line x1="267.3" y1="104.2" x2="283.3" y2="113.1" stroke="#ececf4" stroke-width="1.5" stroke-linecap="round" opacity="0.75"/>
<line x1="269.5" y1="118.5" x2="280.0" y2="119.0" stroke="#8a8a96" stroke-width="5.2" stroke-linecap="round"/><line x1="269.5" y1="118.5" x2="280.0" y2="119.0" stroke="#bcbcc6" stroke-width="3.6" stroke-linecap="round"/><line x1="269.1" y1="118.2" x2="279.6" y2="118.7" stroke="#ececf4" stroke-width="1.5" stroke-linecap="round" opacity="0.75"/>
<line x1="286.0" y1="107.0" x2="286.5" y2="110.5" stroke="#1a1ea0" stroke-width="5.2" stroke-linecap="round"/><line x1="286.0" y1="107.0" x2="286.5" y2="110.5" stroke="#2f3fe6" stroke-width="3.6" stroke-linecap="round"/><line x1="285.6" y1="106.7" x2="286.1" y2="110.2" stroke="#8a96ff" stroke-width="1.5" stroke-linecap="round" opacity="0.75"/><line x1="286.5" y1="110.5" x2="287.0" y2="114.0" stroke="#8a8a96" stroke-width="5.2" stroke-linecap="round"/><line x1="286.5" y1="110.5" x2="287.0" y2="114.0" stroke="#bcbcc6" stroke-width="3.6" stroke-linecap="round"/><line x1="286.1" y1="110.2" x2="286.6" y2="113.7" stroke="#ececf4" stroke-width="1.5" stroke-linecap="round" opacity="0.75"/><line x1="287.0" y1="114.0" x2="289.8" y2="119.2" stroke="#8a8a96" stroke-width="5.2" stroke-linecap="round"/><line x1="287.0" y1="114.0" x2="289.8" y2="119.2" stroke="#bcbcc6" stroke-width="3.6" stroke-linecap="round"/><line x1="286.6" y1="113.7" x2="289.4" y2="118.9" stroke="#ececf4" stroke-width="1.5" stroke-linecap="round" opacity="0.75"/><line x1="289.8" y1="119.2" x2="292.5" y2="124.5" stroke="#a8161e" stroke-width="5.2" stroke-linecap="round"/><line x1="289.8" y1="119.2" x2="292.5" y2="124.5" stroke="#e0323a" stroke-width="3.6" stroke-linecap="round"/><line x1="289.4" y1="118.9" x2="292.1" y2="124.2" stroke="#ff9090" stroke-width="1.5" stroke-linecap="round" opacity="0.75"/>
<line x1="287.5" y1="94.0" x2="288.0" y2="99.5" stroke="#a8a8a8" stroke-width="3.7" stroke-linecap="round"/><line x1="287.5" y1="94.0" x2="288.0" y2="99.5" stroke="#e4e4e4" stroke-width="2.6" stroke-linecap="round"/><line x1="287.1" y1="93.7" x2="287.6" y2="99.2" stroke="#ffffff" stroke-width="1.0" stroke-linecap="round" opacity="0.75"/>
<line x1="258.5" y1="110.0" x2="255.5" y2="112.5" stroke="#1a1ea0" stroke-width="5.2" stroke-linecap="round"/><line x1="258.5" y1="110.0" x2="255.5" y2="112.5" stroke="#2f3fe6" stroke-width="3.6" stroke-linecap="round"/><line x1="258.1" y1="109.7" x2="255.2" y2="112.2" stroke="#8a96ff" stroke-width="1.5" stroke-linecap="round" opacity="0.75"/><line x1="255.5" y1="112.5" x2="252.5" y2="115.0" stroke="#a8a8a8" stroke-width="3.7" stroke-linecap="round"/><line x1="255.5" y1="112.5" x2="252.5" y2="115.0" stroke="#e4e4e4" stroke-width="2.6" stroke-linecap="round"/><line x1="255.2" y1="112.2" x2="252.2" y2="114.7" stroke="#ffffff" stroke-width="1.0" stroke-linecap="round" opacity="0.75"/>
<line x1="308.4" y1="78.5" x2="308.4" y2="81.3" stroke="#a8161e" stroke-width="5.2" stroke-linecap="round"/><line x1="308.4" y1="78.5" x2="308.4" y2="81.3" stroke="#e0323a" stroke-width="3.6" stroke-linecap="round"/><line x1="308.0" y1="78.2" x2="308.0" y2="81.0" stroke="#ff9090" stroke-width="1.5" stroke-linecap="round" opacity="0.75"/><line x1="308.4" y1="81.3" x2="308.4" y2="84.2" stroke="#a8a8a8" stroke-width="3.7" stroke-linecap="round"/><line x1="308.4" y1="81.3" x2="308.4" y2="84.2" stroke="#e4e4e4" stroke-width="2.6" stroke-linecap="round"/><line x1="308.0" y1="81.0" x2="308.0" y2="83.9" stroke="#ffffff" stroke-width="1.0" stroke-linecap="round" opacity="0.75"/><line x1="308.4" y1="84.2" x2="308.4" y2="88.5" stroke="#a8a8a8" stroke-width="3.7" stroke-linecap="round"/><line x1="308.4" y1="84.2" x2="308.4" y2="88.5" stroke="#e4e4e4" stroke-width="2.6" stroke-linecap="round"/><line x1="308.0" y1="83.9" x2="308.0" y2="88.2" stroke="#ffffff" stroke-width="1.0" stroke-linecap="round" opacity="0.75"/>
<line x1="310.5" y1="91.0" x2="311.0" y2="91.0" stroke="#a8161e" stroke-width="5.2" stroke-linecap="round"/><line x1="310.5" y1="91.0" x2="311.0" y2="91.0" stroke="#e0323a" stroke-width="3.6" stroke-linecap="round"/><line x1="310.1" y1="90.7" x2="310.6" y2="90.7" stroke="#ff9090" stroke-width="1.5" stroke-linecap="round" opacity="0.75"/>
<line x1="308.4" y1="91.3" x2="301.3" y2="106.9" stroke="#8a8a96" stroke-width="5.2" stroke-linecap="round"/><line x1="308.4" y1="91.3" x2="301.3" y2="106.9" stroke="#bcbcc6" stroke-width="3.6" stroke-linecap="round"/><line x1="308.0" y1="91.0" x2="300.9" y2="106.6" stroke="#ececf4" stroke-width="1.5" stroke-linecap="round" opacity="0.75"/>
<line x1="276.0" y1="86.3" x2="287.0" y2="88.5" stroke="#f4e81c" stroke-width="1.7" stroke-dasharray="1.6,1.3"/>
<line x1="298.5" y1="80.0" x2="305.6" y2="79.2" stroke="#f4e81c" stroke-width="1.7" stroke-dasharray="1.6,1.3"/>
</g></g>
<g clip-path="url(#cC)"><g filter="url(#sb)">
<polygon points="389,37 395,33 404,29 412.7,27 419.7,24 429.7,21 437.3,20 438.7,15 444.5,11 459,11 463.5,14 470.7,18 473.6,14 478,10 491,10 495.5,14 500,18 514,18 519.7,25 531,25 536.7,33 542.4,36 544,38 544,138 389,138" fill="#c8a000"/>
<circle cx="516.0" cy="22.0" r="6.6" fill="url(#gs)"/><circle cx="510.5" cy="21.5" r="7.2" fill="url(#gs)"/><circle cx="505.0" cy="21.0" r="7.8" fill="url(#gs)"/><circle cx="499.5" cy="20.5" r="8.4" fill="url(#gs)"/><circle cx="494.0" cy="20.0" r="9.0" fill="url(#gs)"/>
<circle cx="537.7" cy="30.1" r="7.5" fill="url(#gs)"/><circle cx="532.6" cy="30.8" r="8.0" fill="url(#gs)"/><circle cx="527.5" cy="31.5" r="8.5" fill="url(#gs)"/><circle cx="522.4" cy="32.2" r="9.0" fill="url(#gs)"/><circle cx="517.3" cy="32.9" r="9.5" fill="url(#gs)"/><circle cx="512.2" cy="33.6" r="10.0" fill="url(#gs)"/><circle cx="507.1" cy="34.3" r="10.5" fill="url(#gs)"/><circle cx="502.0" cy="35.0" r="11.0" fill="url(#gs)"/>
<circle cx="544.0" cy="36.0" r="7.0" fill="url(#gs)"/><circle cx="538.8" cy="38.8" r="7.8" fill="url(#gs)"/><circle cx="533.5" cy="41.5" r="8.5" fill="url(#gs)"/><circle cx="528.2" cy="44.2" r="9.2" fill="url(#gs)"/><circle cx="523.0" cy="47.0" r="10.0" fill="url(#gs)"/>
<circle cx="540.0" cy="58.0" r="10.5" fill="url(#gs)"/><circle cx="535.0" cy="58.0" r="11.0" fill="url(#gs)"/>
<circle cx="457.6" cy="10.2" r="9" fill="url(#gs)"/><circle cx="447.5" cy="13.1" r="10" fill="url(#gs)"/><circle cx="483.8" cy="13.1" r="11" fill="url(#gs)"/><circle cx="476" cy="19" r="9" fill="url(#gs)"/><circle cx="466.4" cy="20.4" r="10" fill="url(#gs)"/><circle cx="484.3" cy="27" r="12" fill="url(#gs)"/><circle cx="409.2" cy="30.6" r="10" fill="url(#gs)"/><circle cx="423.4" cy="30.6" r="12" fill="url(#gs)"/><circle cx="402.1" cy="36" r="11" fill="url(#gs)"/><circle cx="437.6" cy="36" r="12" fill="url(#gs)"/><circle cx="459.5" cy="37.7" r="13" fill="url(#gs)"/><circle cx="395" cy="39.7" r="10" fill="url(#gs)"/><circle cx="443.5" cy="41.3" r="11" fill="url(#gs)"/><circle cx="484.3" cy="44.8" r="12" fill="url(#gs)"/><circle cx="400.3" cy="50.1" r="10" fill="url(#gs)"/><circle cx="432.2" cy="50.1" r="12" fill="url(#gs)"/><circle cx="392.4" cy="59.6" r="11" fill="url(#gs)"/><circle cx="447" cy="64.3" r="10" fill="url(#gs)"/><circle cx="437.6" cy="65.3" r="12" fill="url(#gs)"/><circle cx="456" cy="66" r="12" fill="url(#gs)"/><circle cx="481" cy="66" r="11" fill="url(#gs)"/><circle cx="425.1" cy="67" r="10" fill="url(#gs)"/><circle cx="538" cy="72" r="11" fill="url(#gs)"/><circle cx="522.5" cy="73.8" r="12" fill="url(#gs)"/><circle cx="506.2" cy="75.6" r="12" fill="url(#gs)"/><circle cx="400.3" cy="77.7" r="12" fill="url(#gs)"/><circle cx="428.7" cy="86.6" r="14" fill="url(#gs)"/><circle cx="519.7" cy="88.8" r="15.5" fill="url(#gs)"/><circle cx="463.6" cy="89" r="12" fill="url(#gs)"/><circle cx="543" cy="90" r="12.5" fill="url(#gd)"/><circle cx="437.7" cy="97" r="10" fill="url(#gs)"/><circle cx="446.2" cy="97" r="12" fill="url(#gs)"/><circle cx="405.6" cy="98.1" r="15" fill="url(#gs)"/><circle cx="497.6" cy="102" r="15" fill="url(#gs)"/><circle cx="421.6" cy="109.6" r="16" fill="url(#gs)"/><circle cx="522.2" cy="112.4" r="15" fill="url(#gs)"/><circle cx="420" cy="118.4" r="16" fill="url(#gs)"/><circle cx="540.3" cy="120" r="13" fill="url(#gs)"/><circle cx="395.6" cy="122.2" r="14" fill="url(#gs)"/><circle cx="488.9" cy="123.5" r="15" fill="url(#gs)"/><circle cx="470" cy="125" r="12" fill="url(#gs)"/><circle cx="508.8" cy="126.2" r="14" fill="url(#gs)"/><circle cx="437.7" cy="127.2" r="13" fill="url(#gs)"/><circle cx="495" cy="127.5" r="13" fill="url(#gs)"/><circle cx="458.3" cy="130.2" r="14" fill="url(#gs)"/><circle cx="462.6" cy="132.5" r="14" fill="url(#gs)"/><circle cx="516" cy="133.5" r="12" fill="url(#gs)"/>
<line x1="438.9" y1="23.0" x2="439.8" y2="26.0" stroke="#a8a8a8" stroke-width="3.7" stroke-linecap="round"/><line x1="438.9" y1="23.0" x2="439.8" y2="26.0" stroke="#e4e4e4" stroke-width="2.6" stroke-linecap="round"/><line x1="438.5" y1="22.6" x2="439.4" y2="25.6" stroke="#ffffff" stroke-width="1.0" stroke-linecap="round" opacity="0.75"/>
<line x1="441.0" y1="29.5" x2="440.1" y2="31.9" stroke="#a8161e" stroke-width="5.2" stroke-linecap="round"/><line x1="441.0" y1="29.5" x2="440.1" y2="31.9" stroke="#e0323a" stroke-width="3.6" stroke-linecap="round"/><line x1="440.6" y1="29.1" x2="439.8" y2="31.5" stroke="#ff9090" stroke-width="1.5" stroke-linecap="round" opacity="0.75"/><line x1="440.1" y1="31.9" x2="439.3" y2="34.2" stroke="#8a8a96" stroke-width="5.2" stroke-linecap="round"/><line x1="440.1" y1="31.9" x2="439.3" y2="34.2" stroke="#bcbcc6" stroke-width="3.6" stroke-linecap="round"/><line x1="439.8" y1="31.5" x2="438.9" y2="33.9" stroke="#ececf4" stroke-width="1.5" stroke-linecap="round" opacity="0.75"/><line x1="439.3" y1="34.2" x2="418.0" y2="43.0" stroke="#8a8a96" stroke-width="5.2" stroke-linecap="round"/><line x1="439.3" y1="34.2" x2="418.0" y2="43.0" stroke="#bcbcc6" stroke-width="3.6" stroke-linecap="round"/><line x1="438.9" y1="33.9" x2="417.6" y2="42.6" stroke="#ececf4" stroke-width="1.5" stroke-linecap="round" opacity="0.75"/>
<line x1="436.2" y1="39.5" x2="436.3" y2="39.6" stroke="#a8161e" stroke-width="5.5" stroke-linecap="round"/><line x1="436.2" y1="39.5" x2="436.3" y2="39.6" stroke="#e0323a" stroke-width="3.8" stroke-linecap="round"/><line x1="435.8" y1="39.1" x2="435.9" y2="39.2" stroke="#ff9090" stroke-width="1.5" stroke-linecap="round" opacity="0.75"/>
<line x1="415.4" y1="46.5" x2="412.0" y2="51.0" stroke="#1a1ea0" stroke-width="5.2" stroke-linecap="round"/><line x1="415.4" y1="46.5" x2="412.0" y2="51.0" stroke="#2f3fe6" stroke-width="3.6" stroke-linecap="round"/><line x1="415.0" y1="46.1" x2="411.6" y2="50.6" stroke="#8a96ff" stroke-width="1.5" stroke-linecap="round" opacity="0.75"/><line x1="412.0" y1="51.0" x2="410.6" y2="53.2" stroke="#1a1ea0" stroke-width="5.2" stroke-linecap="round"/><line x1="412.0" y1="51.0" x2="410.6" y2="53.2" stroke="#2f3fe6" stroke-width="3.6" stroke-linecap="round"/><line x1="411.6" y1="50.6" x2="410.2" y2="52.9" stroke="#8a96ff" stroke-width="1.5" stroke-linecap="round" opacity="0.75"/><line x1="410.6" y1="53.2" x2="409.2" y2="55.5" stroke="#8a8a96" stroke-width="5.2" stroke-linecap="round"/><line x1="410.6" y1="53.2" x2="409.2" y2="55.5" stroke="#bcbcc6" stroke-width="3.6" stroke-linecap="round"/><line x1="410.2" y1="52.9" x2="408.8" y2="55.1" stroke="#ececf4" stroke-width="1.5" stroke-linecap="round" opacity="0.75"/>
<line x1="417.0" y1="50.5" x2="418.0" y2="51.5" stroke="#a8161e" stroke-width="5.5" stroke-linecap="round"/><line x1="417.0" y1="50.5" x2="418.0" y2="51.5" stroke="#e0323a" stroke-width="3.8" stroke-linecap="round"/><line x1="416.6" y1="50.1" x2="417.6" y2="51.1" stroke="#ff9090" stroke-width="1.5" stroke-linecap="round" opacity="0.75"/>
<line x1="402.5" y1="57.5" x2="407.6" y2="57.8" stroke="#a8161e" stroke-width="5.2" stroke-linecap="round"/><line x1="402.5" y1="57.5" x2="407.6" y2="57.8" stroke="#e0323a" stroke-width="3.6" stroke-linecap="round"/><line x1="402.1" y1="57.1" x2="407.2" y2="57.4" stroke="#ff9090" stroke-width="1.5" stroke-linecap="round" opacity="0.75"/><line x1="407.6" y1="57.8" x2="412.7" y2="58.0" stroke="#8a8a96" stroke-width="5.2" stroke-linecap="round"/><line x1="407.6" y1="57.8" x2="412.7" y2="58.0" stroke="#bcbcc6" stroke-width="3.6" stroke-linecap="round"/><line x1="407.2" y1="57.4" x2="412.3" y2="57.6" stroke="#ececf4" stroke-width="1.5" stroke-linecap="round" opacity="0.75"/>
<line x1="416.7" y1="59.0" x2="418.0" y2="61.0" stroke="#1a1ea0" stroke-width="5.2" stroke-linecap="round"/><line x1="416.7" y1="59.0" x2="418.0" y2="61.0" stroke="#2f3fe6" stroke-width="3.6" stroke-linecap="round"/><line x1="416.3" y1="58.6" x2="417.6" y2="60.6" stroke="#8a96ff" stroke-width="1.5" stroke-linecap="round" opacity="0.75"/>
<line x1="414.0" y1="55.0" x2="417.5" y2="51.5" stroke="#8a8a96" stroke-width="5.2" stroke-linecap="round"/><line x1="414.0" y1="55.0" x2="417.5" y2="51.5" stroke="#bcbcc6" stroke-width="3.6" stroke-linecap="round"/><line x1="413.6" y1="54.6" x2="417.1" y2="51.1" stroke="#ececf4" stroke-width="1.5" stroke-linecap="round" opacity="0.75"/><line x1="417.5" y1="51.5" x2="421.0" y2="48.0" stroke="#a8161e" stroke-width="5.2" stroke-linecap="round"/><line x1="417.5" y1="51.5" x2="421.0" y2="48.0" stroke="#e0323a" stroke-width="3.6" stroke-linecap="round"/><line x1="417.1" y1="51.1" x2="420.6" y2="47.6" stroke="#ff9090" stroke-width="1.5" stroke-linecap="round" opacity="0.75"/>
<line x1="408.3" y1="60.0" x2="408.3" y2="66.0" stroke="#8a8a96" stroke-width="5.2" stroke-linecap="round"/><line x1="408.3" y1="60.0" x2="408.3" y2="66.0" stroke="#bcbcc6" stroke-width="3.6" stroke-linecap="round"/><line x1="407.9" y1="59.6" x2="407.9" y2="65.7" stroke="#ececf4" stroke-width="1.5" stroke-linecap="round" opacity="0.75"/><line x1="408.3" y1="66.0" x2="409.6" y2="67.0" stroke="#8a8a96" stroke-width="5.2" stroke-linecap="round"/><line x1="408.3" y1="66.0" x2="409.6" y2="67.0" stroke="#bcbcc6" stroke-width="3.6" stroke-linecap="round"/><line x1="407.9" y1="65.7" x2="409.3" y2="66.7" stroke="#ececf4" stroke-width="1.5" stroke-linecap="round" opacity="0.75"/><line x1="409.6" y1="67.0" x2="411.0" y2="68.0" stroke="#1a1ea0" stroke-width="5.2" stroke-linecap="round"/><line x1="409.6" y1="67.0" x2="411.0" y2="68.0" stroke="#2f3fe6" stroke-width="3.6" stroke-linecap="round"/><line x1="409.3" y1="66.7" x2="410.6" y2="67.7" stroke="#8a96ff" stroke-width="1.5" stroke-linecap="round" opacity="0.75"/>
<line x1="423.4" y1="50.0" x2="431.3" y2="52.8" stroke="#f4e81c" stroke-width="1.7" stroke-dasharray="1.6,1.3"/>
<line x1="437.6" y1="52.0" x2="445.0" y2="53.7" stroke="#f4e81c" stroke-width="1.7" stroke-dasharray="1.6,1.3"/>
<line x1="460.4" y1="27.0" x2="460.4" y2="30.1" stroke="#a8a8a8" stroke-width="3.7" stroke-linecap="round"/><line x1="460.4" y1="27.0" x2="460.4" y2="30.1" stroke="#e4e4e4" stroke-width="2.6" stroke-linecap="round"/><line x1="460.0" y1="26.6" x2="460.0" y2="29.8" stroke="#ffffff" stroke-width="1.0" stroke-linecap="round" opacity="0.75"/><line x1="460.4" y1="30.1" x2="460.4" y2="33.3" stroke="#8a8a96" stroke-width="5.2" stroke-linecap="round"/><line x1="460.4" y1="30.1" x2="460.4" y2="33.3" stroke="#bcbcc6" stroke-width="3.6" stroke-linecap="round"/><line x1="460.0" y1="29.8" x2="460.0" y2="32.9" stroke="#ececf4" stroke-width="1.5" stroke-linecap="round" opacity="0.75"/><line x1="460.4" y1="33.3" x2="460.4" y2="48.4" stroke="#8a8a96" stroke-width="5.2" stroke-linecap="round"/><line x1="460.4" y1="33.3" x2="460.4" y2="48.4" stroke="#bcbcc6" stroke-width="3.6" stroke-linecap="round"/><line x1="460.0" y1="32.9" x2="460.0" y2="48.0" stroke="#ececf4" stroke-width="1.5" stroke-linecap="round" opacity="0.75"/>
<line x1="454.2" y1="35.5" x2="460.4" y2="35.5" stroke="#8a8a96" stroke-width="5.2" stroke-linecap="round"/><line x1="454.2" y1="35.5" x2="460.4" y2="35.5" stroke="#bcbcc6" stroke-width="3.6" stroke-linecap="round"/><line x1="453.8" y1="35.1" x2="460.0" y2="35.1" stroke="#ececf4" stroke-width="1.5" stroke-linecap="round" opacity="0.75"/>
<line x1="465.7" y1="32.0" x2="468.9" y2="33.4" stroke="#a8161e" stroke-width="5.2" stroke-linecap="round"/><line x1="465.7" y1="32.0" x2="468.9" y2="33.4" stroke="#e0323a" stroke-width="3.6" stroke-linecap="round"/><line x1="465.3" y1="31.6" x2="468.5" y2="33.0" stroke="#ff9090" stroke-width="1.5" stroke-linecap="round" opacity="0.75"/><line x1="468.9" y1="33.4" x2="472.0" y2="34.7" stroke="#8a8a96" stroke-width="5.2" stroke-linecap="round"/><line x1="468.9" y1="33.4" x2="472.0" y2="34.7" stroke="#bcbcc6" stroke-width="3.6" stroke-linecap="round"/><line x1="468.5" y1="33.0" x2="471.6" y2="34.4" stroke="#ececf4" stroke-width="1.5" stroke-linecap="round" opacity="0.75"/><line x1="472.0" y1="34.7" x2="476.4" y2="35.1" stroke="#8a8a96" stroke-width="5.2" stroke-linecap="round"/><line x1="472.0" y1="34.7" x2="476.4" y2="35.1" stroke="#bcbcc6" stroke-width="3.6" stroke-linecap="round"/><line x1="471.6" y1="34.4" x2="476.0" y2="34.8" stroke="#ececf4" stroke-width="1.5" stroke-linecap="round" opacity="0.75"/><line x1="476.4" y1="35.1" x2="480.7" y2="35.5" stroke="#a8161e" stroke-width="5.2" stroke-linecap="round"/><line x1="476.4" y1="35.1" x2="480.7" y2="35.5" stroke="#e0323a" stroke-width="3.6" stroke-linecap="round"/><line x1="476.0" y1="34.8" x2="480.3" y2="35.1" stroke="#ff9090" stroke-width="1.5" stroke-linecap="round" opacity="0.75"/>
<line x1="464.0" y1="50.0" x2="468.4" y2="52.0" stroke="#1a1ea0" stroke-width="5.2" stroke-linecap="round"/><line x1="464.0" y1="50.0" x2="468.4" y2="52.0" stroke="#2f3fe6" stroke-width="3.6" stroke-linecap="round"/><line x1="463.6" y1="49.6" x2="468.0" y2="51.6" stroke="#8a96ff" stroke-width="1.5" stroke-linecap="round" opacity="0.75"/><line x1="468.4" y1="52.0" x2="477.2" y2="53.0" stroke="#1a1ea0" stroke-width="5.2" stroke-linecap="round"/><line x1="468.4" y1="52.0" x2="477.2" y2="53.0" stroke="#2f3fe6" stroke-width="3.6" stroke-linecap="round"/><line x1="468.0" y1="51.6" x2="476.8" y2="52.6" stroke="#8a96ff" stroke-width="1.5" stroke-linecap="round" opacity="0.75"/>
<line x1="441.0" y1="29.5" x2="441.5" y2="30.0" stroke="#a8161e" stroke-width="5.2" stroke-linecap="round"/><line x1="441.0" y1="29.5" x2="441.5" y2="30.0" stroke="#e0323a" stroke-width="3.6" stroke-linecap="round"/><line x1="440.6" y1="29.1" x2="441.1" y2="29.6" stroke="#ff9090" stroke-width="1.5" stroke-linecap="round" opacity="0.75"/>
<line x1="470.0" y1="37.7" x2="479.0" y2="48.4" stroke="#f4e81c" stroke-width="1.7" stroke-dasharray="1.6,1.3"/>
<line x1="440.0" y1="52.5" x2="450.6" y2="53.0" stroke="#f4e81c" stroke-width="1.7" stroke-dasharray="1.6,1.3"/>
<line x1="449.7" y1="52.3" x2="450.0" y2="52.5" stroke="#a8161e" stroke-width="5.0" stroke-linecap="round"/><line x1="449.7" y1="52.3" x2="450.0" y2="52.5" stroke="#e0323a" stroke-width="3.5" stroke-linecap="round"/><line x1="449.3" y1="51.9" x2="449.6" y2="52.1" stroke="#ff9090" stroke-width="1.4" stroke-linecap="round" opacity="0.75"/>
<line x1="474.0" y1="60.5" x2="479.0" y2="61.2" stroke="#8a8a96" stroke-width="5.2" stroke-linecap="round"/><line x1="474.0" y1="60.5" x2="479.0" y2="61.2" stroke="#bcbcc6" stroke-width="3.6" stroke-linecap="round"/><line x1="473.6" y1="60.1" x2="478.6" y2="60.9" stroke="#ececf4" stroke-width="1.5" stroke-linecap="round" opacity="0.75"/><line x1="479.0" y1="61.2" x2="484.0" y2="62.0" stroke="#a8a8a8" stroke-width="3.7" stroke-linecap="round"/><line x1="479.0" y1="61.2" x2="484.0" y2="62.0" stroke="#e4e4e4" stroke-width="2.6" stroke-linecap="round"/><line x1="478.6" y1="60.9" x2="483.6" y2="61.6" stroke="#ffffff" stroke-width="1.0" stroke-linecap="round" opacity="0.75"/>
<line x1="474.0" y1="66.0" x2="478.5" y2="66.2" stroke="#8a8a96" stroke-width="5.2" stroke-linecap="round"/><line x1="474.0" y1="66.0" x2="478.5" y2="66.2" stroke="#bcbcc6" stroke-width="3.6" stroke-linecap="round"/><line x1="473.6" y1="65.7" x2="478.1" y2="65.9" stroke="#ececf4" stroke-width="1.5" stroke-linecap="round" opacity="0.75"/><line x1="478.5" y1="66.2" x2="483.0" y2="66.5" stroke="#a8a8a8" stroke-width="3.7" stroke-linecap="round"/><line x1="478.5" y1="66.2" x2="483.0" y2="66.5" stroke="#e4e4e4" stroke-width="2.6" stroke-linecap="round"/><line x1="478.1" y1="65.9" x2="482.6" y2="66.2" stroke="#ffffff" stroke-width="1.0" stroke-linecap="round" opacity="0.75"/>
<line x1="511.5" y1="58.0" x2="513.8" y2="58.2" stroke="#a8161e" stroke-width="5.2" stroke-linecap="round"/><line x1="511.5" y1="58.0" x2="513.8" y2="58.2" stroke="#e0323a" stroke-width="3.6" stroke-linecap="round"/><line x1="511.1" y1="57.6" x2="513.4" y2="57.9" stroke="#ff9090" stroke-width="1.5" stroke-linecap="round" opacity="0.75"/><line x1="513.8" y1="58.2" x2="516.0" y2="58.5" stroke="#8a8a96" stroke-width="5.2" stroke-linecap="round"/><line x1="513.8" y1="58.2" x2="516.0" y2="58.5" stroke="#bcbcc6" stroke-width="3.6" stroke-linecap="round"/><line x1="513.4" y1="57.9" x2="515.6" y2="58.1" stroke="#ececf4" stroke-width="1.5" stroke-linecap="round" opacity="0.75"/><line x1="516.0" y1="58.5" x2="520.0" y2="59.2" stroke="#8a8a96" stroke-width="5.2" stroke-linecap="round"/><line x1="516.0" y1="58.5" x2="520.0" y2="59.2" stroke="#bcbcc6" stroke-width="3.6" stroke-linecap="round"/><line x1="515.6" y1="58.1" x2="519.6" y2="58.9" stroke="#ececf4" stroke-width="1.5" stroke-linecap="round" opacity="0.75"/><line x1="520.0" y1="59.2" x2="524.0" y2="60.0" stroke="#a8a8a8" stroke-width="3.7" stroke-linecap="round"/><line x1="520.0" y1="59.2" x2="524.0" y2="60.0" stroke="#e4e4e4" stroke-width="2.6" stroke-linecap="round"/><line x1="519.6" y1="58.9" x2="523.6" y2="59.6" stroke="#ffffff" stroke-width="1.0" stroke-linecap="round" opacity="0.75"/>
<line x1="501.0" y1="61.5" x2="509.3" y2="62.0" stroke="#1a1ea0" stroke-width="5.2" stroke-linecap="round"/><line x1="501.0" y1="61.5" x2="509.3" y2="62.0" stroke="#2f3fe6" stroke-width="3.6" stroke-linecap="round"/><line x1="500.6" y1="61.1" x2="508.9" y2="61.6" stroke="#8a96ff" stroke-width="1.5" stroke-linecap="round" opacity="0.75"/><line x1="509.3" y1="62.0" x2="514.1" y2="64.2" stroke="#1a1ea0" stroke-width="5.2" stroke-linecap="round"/><line x1="509.3" y1="62.0" x2="514.1" y2="64.2" stroke="#2f3fe6" stroke-width="3.6" stroke-linecap="round"/><line x1="508.9" y1="61.6" x2="513.8" y2="63.9" stroke="#8a96ff" stroke-width="1.5" stroke-linecap="round" opacity="0.75"/><line x1="514.1" y1="64.2" x2="519.0" y2="66.5" stroke="#8a8a96" stroke-width="5.2" stroke-linecap="round"/><line x1="514.1" y1="64.2" x2="519.0" y2="66.5" stroke="#bcbcc6" stroke-width="3.6" stroke-linecap="round"/><line x1="513.8" y1="63.9" x2="518.6" y2="66.2" stroke="#ececf4" stroke-width="1.5" stroke-linecap="round" opacity="0.75"/>
<line x1="444.8" y1="60.6" x2="454.5" y2="54.4" stroke="#a45a5a" stroke-width="5.8" stroke-linecap="round"/><line x1="444.8" y1="60.6" x2="454.5" y2="54.4" stroke="#d28484" stroke-width="4.1" stroke-linecap="round"/><line x1="444.4" y1="60.2" x2="454.1" y2="54.0" stroke="#eaaaaa" stroke-width="1.6" stroke-linecap="round" opacity="0.75"/><line x1="454.5" y1="54.4" x2="467.8" y2="58.0" stroke="#a45a5a" stroke-width="5.8" stroke-linecap="round"/><line x1="454.5" y1="54.4" x2="467.8" y2="58.0" stroke="#d28484" stroke-width="4.1" stroke-linecap="round"/><line x1="454.1" y1="54.0" x2="467.4" y2="57.6" stroke="#eaaaaa" stroke-width="1.6" stroke-linecap="round" opacity="0.75"/><line x1="467.8" y1="58.0" x2="467.8" y2="71.3" stroke="#a45a5a" stroke-width="5.8" stroke-linecap="round"/><line x1="467.8" y1="58.0" x2="467.8" y2="71.3" stroke="#d28484" stroke-width="4.1" stroke-linecap="round"/><line x1="467.4" y1="57.6" x2="467.4" y2="71.0" stroke="#eaaaaa" stroke-width="1.6" stroke-linecap="round" opacity="0.75"/><line x1="467.8" y1="71.3" x2="459.0" y2="76.6" stroke="#a45a5a" stroke-width="5.8" stroke-linecap="round"/><line x1="467.8" y1="71.3" x2="459.0" y2="76.6" stroke="#d28484" stroke-width="4.1" stroke-linecap="round"/><line x1="467.4" y1="71.0" x2="458.6" y2="76.2" stroke="#eaaaaa" stroke-width="1.6" stroke-linecap="round" opacity="0.75"/><line x1="459.0" y1="76.6" x2="444.8" y2="72.2" stroke="#a45a5a" stroke-width="5.8" stroke-linecap="round"/><line x1="459.0" y1="76.6" x2="444.8" y2="72.2" stroke="#d28484" stroke-width="4.1" stroke-linecap="round"/><line x1="458.6" y1="76.2" x2="444.4" y2="71.9" stroke="#eaaaaa" stroke-width="1.6" stroke-linecap="round" opacity="0.75"/><line x1="444.8" y1="72.2" x2="444.8" y2="60.6" stroke="#a45a5a" stroke-width="5.8" stroke-linecap="round"/><line x1="444.8" y1="72.2" x2="444.8" y2="60.6" stroke="#d28484" stroke-width="4.1" stroke-linecap="round"/><line x1="444.4" y1="71.9" x2="444.4" y2="60.2" stroke="#eaaaaa" stroke-width="1.6" stroke-linecap="round" opacity="0.75"/><line x1="507.0" y1="40.5" x2="522.5" y2="34.8" stroke="#a45a5a" stroke-width="5.8" stroke-linecap="round"/><line x1="507.0" y1="40.5" x2="522.5" y2="34.8" stroke="#d28484" stroke-width="4.1" stroke-linecap="round"/><line x1="506.6" y1="40.1" x2="522.1" y2="34.4" stroke="#eaaaaa" stroke-width="1.6" stroke-linecap="round" opacity="0.75"/><line x1="522.5" y1="34.8" x2="534.7" y2="44.6" stroke="#a45a5a" stroke-width="5.8" stroke-linecap="round"/><line x1="522.5" y1="34.8" x2="534.7" y2="44.6" stroke="#d28484" stroke-width="4.1" stroke-linecap="round"/><line x1="522.1" y1="34.4" x2="534.4" y2="44.2" stroke="#eaaaaa" stroke-width="1.6" stroke-linecap="round" opacity="0.75"/><line x1="534.7" y1="44.6" x2="533.0" y2="59.3" stroke="#a45a5a" stroke-width="5.8" stroke-linecap="round"/><line x1="534.7" y1="44.6" x2="533.0" y2="59.3" stroke="#d28484" stroke-width="4.1" stroke-linecap="round"/><line x1="534.4" y1="44.2" x2="532.6" y2="58.9" stroke="#eaaaaa" stroke-width="1.6" stroke-linecap="round" opacity="0.75"/><line x1="533.0" y1="59.3" x2="517.6" y2="64.2" stroke="#a45a5a" stroke-width="5.8" stroke-linecap="round"/><line x1="533.0" y1="59.3" x2="517.6" y2="64.2" stroke="#d28484" stroke-width="4.1" stroke-linecap="round"/><line x1="532.6" y1="58.9" x2="517.2" y2="63.9" stroke="#eaaaaa" stroke-width="1.6" stroke-linecap="round" opacity="0.75"/><line x1="517.6" y1="64.2" x2="507.0" y2="54.4" stroke="#a45a5a" stroke-width="5.8" stroke-linecap="round"/><line x1="517.6" y1="64.2" x2="507.0" y2="54.4" stroke="#d28484" stroke-width="4.1" stroke-linecap="round"/><line x1="517.2" y1="63.9" x2="506.6" y2="54.0" stroke="#eaaaaa" stroke-width="1.6" stroke-linecap="round" opacity="0.75"/><line x1="507.0" y1="54.4" x2="507.0" y2="40.5" stroke="#a45a5a" stroke-width="5.8" stroke-linecap="round"/><line x1="507.0" y1="54.4" x2="507.0" y2="40.5" stroke="#d28484" stroke-width="4.1" stroke-linecap="round"/><line x1="506.6" y1="54.0" x2="506.6" y2="40.1" stroke="#eaaaaa" stroke-width="1.6" stroke-linecap="round" opacity="0.75"/><line x1="467.8" y1="58.0" x2="473.9" y2="56.0" stroke="#a45a5a" stroke-width="5.8" stroke-linecap="round"/><line x1="467.8" y1="58.0" x2="473.9" y2="56.0" stroke="#d28484" stroke-width="4.1" stroke-linecap="round"/><line x1="467.4" y1="57.6" x2="473.5" y2="55.6" stroke="#eaaaaa" stroke-width="1.6" stroke-linecap="round" opacity="0.75"/><line x1="473.9" y1="56.0" x2="480.0" y2="54.0" stroke="#a8161e" stroke-width="5.2" stroke-linecap="round"/><line x1="473.9" y1="56.0" x2="480.0" y2="54.0" stroke="#e0323a" stroke-width="3.6" stroke-linecap="round"/><line x1="473.5" y1="55.6" x2="479.6" y2="53.6" stroke="#ff9090" stroke-width="1.5" stroke-linecap="round" opacity="0.75"/><line x1="480.0" y1="54.0" x2="486.6" y2="55.6" stroke="#a8161e" stroke-width="5.2" stroke-linecap="round"/><line x1="480.0" y1="54.0" x2="486.6" y2="55.6" stroke="#e0323a" stroke-width="3.6" stroke-linecap="round"/><line x1="479.6" y1="53.6" x2="486.3" y2="55.2" stroke="#ff9090" stroke-width="1.5" stroke-linecap="round" opacity="0.75"/><line x1="486.6" y1="55.6" x2="493.3" y2="57.2" stroke="#a45a5a" stroke-width="5.8" stroke-linecap="round"/><line x1="486.6" y1="55.6" x2="493.3" y2="57.2" stroke="#d28484" stroke-width="4.1" stroke-linecap="round"/><line x1="486.3" y1="55.2" x2="492.9" y2="56.9" stroke="#eaaaaa" stroke-width="1.6" stroke-linecap="round" opacity="0.75"/><line x1="493.3" y1="57.2" x2="493.3" y2="70.8" stroke="#a45a5a" stroke-width="5.8" stroke-linecap="round"/><line x1="493.3" y1="57.2" x2="493.3" y2="70.8" stroke="#d28484" stroke-width="4.1" stroke-linecap="round"/><line x1="492.9" y1="56.9" x2="492.9" y2="70.5" stroke="#eaaaaa" stroke-width="1.6" stroke-linecap="round" opacity="0.75"/><line x1="493.3" y1="70.8" x2="481.0" y2="75.5" stroke="#a45a5a" stroke-width="5.8" stroke-linecap="round"/><line x1="493.3" y1="70.8" x2="481.0" y2="75.5" stroke="#d28484" stroke-width="4.1" stroke-linecap="round"/><line x1="492.9" y1="70.5" x2="480.6" y2="75.2" stroke="#eaaaaa" stroke-width="1.6" stroke-linecap="round" opacity="0.75"/><line x1="481.0" y1="75.5" x2="467.8" y2="71.3" stroke="#a45a5a" stroke-width="5.8" stroke-linecap="round"/><line x1="481.0" y1="75.5" x2="467.8" y2="71.3" stroke="#d28484" stroke-width="4.1" stroke-linecap="round"/><line x1="480.6" y1="75.2" x2="467.4" y2="71.0" stroke="#eaaaaa" stroke-width="1.6" stroke-linecap="round" opacity="0.75"/><line x1="467.8" y1="71.3" x2="467.8" y2="58.0" stroke="#a45a5a" stroke-width="5.8" stroke-linecap="round"/><line x1="467.8" y1="71.3" x2="467.8" y2="58.0" stroke="#d28484" stroke-width="4.1" stroke-linecap="round"/><line x1="467.4" y1="71.0" x2="467.4" y2="57.6" stroke="#eaaaaa" stroke-width="1.6" stroke-linecap="round" opacity="0.75"/><line x1="493.3" y1="57.2" x2="507.0" y2="54.4" stroke="#a45a5a" stroke-width="5.8" stroke-linecap="round"/><line x1="493.3" y1="57.2" x2="507.0" y2="54.4" stroke="#d28484" stroke-width="4.1" stroke-linecap="round"/><line x1="492.9" y1="56.9" x2="506.6" y2="54.0" stroke="#eaaaaa" stroke-width="1.6" stroke-linecap="round" opacity="0.75"/><line x1="444.8" y1="60.6" x2="440.4" y2="58.3" stroke="#a45a5a" stroke-width="5.8" stroke-linecap="round"/><line x1="444.8" y1="60.6" x2="440.4" y2="58.3" stroke="#d28484" stroke-width="4.1" stroke-linecap="round"/><line x1="444.4" y1="60.2" x2="440.0" y2="57.9" stroke="#eaaaaa" stroke-width="1.6" stroke-linecap="round" opacity="0.75"/><line x1="440.4" y1="58.3" x2="436.0" y2="56.0" stroke="#a8161e" stroke-width="5.2" stroke-linecap="round"/><line x1="440.4" y1="58.3" x2="436.0" y2="56.0" stroke="#e0323a" stroke-width="3.6" stroke-linecap="round"/><line x1="440.0" y1="57.9" x2="435.6" y2="55.6" stroke="#ff9090" stroke-width="1.5" stroke-linecap="round" opacity="0.75"/><line x1="459.0" y1="76.6" x2="459.5" y2="81.3" stroke="#a45a5a" stroke-width="5.8" stroke-linecap="round"/><line x1="459.0" y1="76.6" x2="459.5" y2="81.3" stroke="#d28484" stroke-width="4.1" stroke-linecap="round"/><line x1="458.6" y1="76.2" x2="459.1" y2="81.0" stroke="#eaaaaa" stroke-width="1.6" stroke-linecap="round" opacity="0.75"/><line x1="459.5" y1="81.3" x2="460.0" y2="86.0" stroke="#a8161e" stroke-width="5.2" stroke-linecap="round"/><line x1="459.5" y1="81.3" x2="460.0" y2="86.0" stroke="#e0323a" stroke-width="3.6" stroke-linecap="round"/><line x1="459.1" y1="81.0" x2="459.6" y2="85.7" stroke="#ff9090" stroke-width="1.5" stroke-linecap="round" opacity="0.75"/><line x1="481.0" y1="75.5" x2="480.8" y2="80.2" stroke="#a45a5a" stroke-width="5.8" stroke-linecap="round"/><line x1="481.0" y1="75.5" x2="480.8" y2="80.2" stroke="#d28484" stroke-width="4.1" stroke-linecap="round"/><line x1="480.6" y1="75.2" x2="480.4" y2="79.9" stroke="#eaaaaa" stroke-width="1.6" stroke-linecap="round" opacity="0.75"/><line x1="480.8" y1="80.2" x2="480.5" y2="85.0" stroke="#a8161e" stroke-width="5.2" stroke-linecap="round"/><line x1="480.8" y1="80.2" x2="480.5" y2="85.0" stroke="#e0323a" stroke-width="3.6" stroke-linecap="round"/><line x1="480.4" y1="79.9" x2="480.1" y2="84.7" stroke="#ff9090" stroke-width="1.5" stroke-linecap="round" opacity="0.75"/><line x1="493.3" y1="70.8" x2="498.1" y2="72.9" stroke="#a45a5a" stroke-width="5.8" stroke-linecap="round"/><line x1="493.3" y1="70.8" x2="498.1" y2="72.9" stroke="#d28484" stroke-width="4.1" stroke-linecap="round"/><line x1="492.9" y1="70.5" x2="497.8" y2="72.6" stroke="#eaaaaa" stroke-width="1.6" stroke-linecap="round" opacity="0.75"/><line x1="498.1" y1="72.9" x2="503.0" y2="75.0" stroke="#a8161e" stroke-width="5.2" stroke-linecap="round"/><line x1="498.1" y1="72.9" x2="503.0" y2="75.0" stroke="#e0323a" stroke-width="3.6" stroke-linecap="round"/><line x1="497.8" y1="72.6" x2="502.6" y2="74.7" stroke="#ff9090" stroke-width="1.5" stroke-linecap="round" opacity="0.75"/>
<line x1="494.5" y1="54.0" x2="494.6" y2="54.1" stroke="#a8161e" stroke-width="5.0" stroke-linecap="round"/><line x1="494.5" y1="54.0" x2="494.6" y2="54.1" stroke="#e0323a" stroke-width="3.5" stroke-linecap="round"/><line x1="494.1" y1="53.6" x2="494.2" y2="53.8" stroke="#ff9090" stroke-width="1.4" stroke-linecap="round" opacity="0.75"/>
<line x1="503.0" y1="64.0" x2="506.0" y2="72.0" stroke="#f4e81c" stroke-width="1.7" stroke-dasharray="1.6,1.3"/>
<line x1="411.5" y1="61.0" x2="416.0" y2="61.5" stroke="#1a1ea0" stroke-width="5.2" stroke-linecap="round"/><line x1="411.5" y1="61.0" x2="416.0" y2="61.5" stroke="#2f3fe6" stroke-width="3.6" stroke-linecap="round"/><line x1="411.1" y1="60.6" x2="415.6" y2="61.1" stroke="#8a96ff" stroke-width="1.5" stroke-linecap="round" opacity="0.75"/>
<line x1="420.0" y1="64.0" x2="423.5" y2="67.0" stroke="#a8a8a8" stroke-width="3.7" stroke-linecap="round"/><line x1="420.0" y1="64.0" x2="423.5" y2="67.0" stroke="#e4e4e4" stroke-width="2.6" stroke-linecap="round"/><line x1="419.6" y1="63.6" x2="423.1" y2="66.7" stroke="#ffffff" stroke-width="1.0" stroke-linecap="round" opacity="0.75"/>
<line x1="407.0" y1="62.0" x2="407.0" y2="80.0" stroke="#8a8a96" stroke-width="5.2" stroke-linecap="round"/><line x1="407.0" y1="62.0" x2="407.0" y2="80.0" stroke="#bcbcc6" stroke-width="3.6" stroke-linecap="round"/><line x1="406.6" y1="61.6" x2="406.6" y2="79.7" stroke="#ececf4" stroke-width="1.5" stroke-linecap="round" opacity="0.75"/><line x1="407.0" y1="80.0" x2="405.0" y2="83.0" stroke="#8a8a96" stroke-width="5.2" stroke-linecap="round"/><line x1="407.0" y1="80.0" x2="405.0" y2="83.0" stroke="#bcbcc6" stroke-width="3.6" stroke-linecap="round"/><line x1="406.6" y1="79.7" x2="404.6" y2="82.7" stroke="#ececf4" stroke-width="1.5" stroke-linecap="round" opacity="0.75"/><line x1="405.0" y1="83.0" x2="403.0" y2="86.0" stroke="#a8161e" stroke-width="5.2" stroke-linecap="round"/><line x1="405.0" y1="83.0" x2="403.0" y2="86.0" stroke="#e0323a" stroke-width="3.6" stroke-linecap="round"/><line x1="404.6" y1="82.7" x2="402.6" y2="85.7" stroke="#ff9090" stroke-width="1.5" stroke-linecap="round" opacity="0.75"/>
<line x1="412.3" y1="71.0" x2="412.3" y2="75.5" stroke="#1a1ea0" stroke-width="5.2" stroke-linecap="round"/><line x1="412.3" y1="71.0" x2="412.3" y2="75.5" stroke="#2f3fe6" stroke-width="3.6" stroke-linecap="round"/><line x1="411.9" y1="70.7" x2="411.9" y2="75.2" stroke="#8a96ff" stroke-width="1.5" stroke-linecap="round" opacity="0.75"/><line x1="412.3" y1="75.5" x2="412.3" y2="80.0" stroke="#8a8a96" stroke-width="5.2" stroke-linecap="round"/><line x1="412.3" y1="75.5" x2="412.3" y2="80.0" stroke="#bcbcc6" stroke-width="3.6" stroke-linecap="round"/><line x1="411.9" y1="75.2" x2="411.9" y2="79.7" stroke="#ececf4" stroke-width="1.5" stroke-linecap="round" opacity="0.75"/><line x1="412.3" y1="80.0" x2="411.0" y2="82.2" stroke="#8a8a96" stroke-width="5.2" stroke-linecap="round"/><line x1="412.3" y1="80.0" x2="411.0" y2="82.2" stroke="#bcbcc6" stroke-width="3.6" stroke-linecap="round"/><line x1="411.9" y1="79.7" x2="410.6" y2="81.9" stroke="#ececf4" stroke-width="1.5" stroke-linecap="round" opacity="0.75"/><line x1="411.0" y1="82.2" x2="409.6" y2="84.4" stroke="#a8161e" stroke-width="5.2" stroke-linecap="round"/><line x1="411.0" y1="82.2" x2="409.6" y2="84.4" stroke="#e0323a" stroke-width="3.6" stroke-linecap="round"/><line x1="410.6" y1="81.9" x2="409.2" y2="84.1" stroke="#ff9090" stroke-width="1.5" stroke-linecap="round" opacity="0.75"/>
<line x1="412.0" y1="87.0" x2="416.0" y2="90.5" stroke="#a8a8a8" stroke-width="3.7" stroke-linecap="round"/><line x1="412.0" y1="87.0" x2="416.0" y2="90.5" stroke="#e4e4e4" stroke-width="2.6" stroke-linecap="round"/><line x1="411.6" y1="86.7" x2="415.6" y2="90.2" stroke="#ffffff" stroke-width="1.0" stroke-linecap="round" opacity="0.75"/>
<line x1="398.5" y1="71.5" x2="403.9" y2="71.5" stroke="#a8a8a8" stroke-width="3.7" stroke-linecap="round"/><line x1="398.5" y1="71.5" x2="403.9" y2="71.5" stroke="#e4e4e4" stroke-width="2.6" stroke-linecap="round"/><line x1="398.1" y1="71.2" x2="403.5" y2="71.2" stroke="#ffffff" stroke-width="1.0" stroke-linecap="round" opacity="0.75"/>
<line x1="431.0" y1="88.4" x2="434.0" y2="88.4" stroke="#a8a8a8" stroke-width="3.7" stroke-linecap="round"/><line x1="431.0" y1="88.4" x2="434.0" y2="88.4" stroke="#e4e4e4" stroke-width="2.6" stroke-linecap="round"/><line x1="430.6" y1="88.1" x2="433.6" y2="88.1" stroke="#ffffff" stroke-width="1.0" stroke-linecap="round" opacity="0.75"/><line x1="434.0" y1="88.4" x2="437.0" y2="88.4" stroke="#1a1ea0" stroke-width="5.2" stroke-linecap="round"/><line x1="434.0" y1="88.4" x2="437.0" y2="88.4" stroke="#2f3fe6" stroke-width="3.6" stroke-linecap="round"/><line x1="433.6" y1="88.1" x2="436.6" y2="88.1" stroke="#8a96ff" stroke-width="1.5" stroke-linecap="round" opacity="0.75"/><line x1="437.0" y1="88.4" x2="442.0" y2="87.0" stroke="#1a1ea0" stroke-width="5.2" stroke-linecap="round"/><line x1="437.0" y1="88.4" x2="442.0" y2="87.0" stroke="#2f3fe6" stroke-width="3.6" stroke-linecap="round"/><line x1="436.6" y1="88.1" x2="441.6" y2="86.7" stroke="#8a96ff" stroke-width="1.5" stroke-linecap="round" opacity="0.75"/>
<line x1="444.0" y1="89.0" x2="443.5" y2="92.0" stroke="#1a1ea0" stroke-width="5.2" stroke-linecap="round"/><line x1="444.0" y1="89.0" x2="443.5" y2="92.0" stroke="#2f3fe6" stroke-width="3.6" stroke-linecap="round"/><line x1="443.6" y1="88.7" x2="443.1" y2="91.7" stroke="#8a96ff" stroke-width="1.5" stroke-linecap="round" opacity="0.75"/><line x1="443.5" y1="92.0" x2="449.2" y2="94.5" stroke="#1a1ea0" stroke-width="5.2" stroke-linecap="round"/><line x1="443.5" y1="92.0" x2="449.2" y2="94.5" stroke="#2f3fe6" stroke-width="3.6" stroke-linecap="round"/><line x1="443.1" y1="91.7" x2="448.9" y2="94.2" stroke="#8a96ff" stroke-width="1.5" stroke-linecap="round" opacity="0.75"/><line x1="449.2" y1="94.5" x2="455.0" y2="97.0" stroke="#8a8a96" stroke-width="5.2" stroke-linecap="round"/><line x1="449.2" y1="94.5" x2="455.0" y2="97.0" stroke="#bcbcc6" stroke-width="3.6" stroke-linecap="round"/><line x1="448.9" y1="94.2" x2="454.6" y2="96.7" stroke="#ececf4" stroke-width="1.5" stroke-linecap="round" opacity="0.75"/><line x1="455.0" y1="97.0" x2="459.0" y2="98.3" stroke="#8a8a96" stroke-width="5.2" stroke-linecap="round"/><line x1="455.0" y1="97.0" x2="459.0" y2="98.3" stroke="#bcbcc6" stroke-width="3.6" stroke-linecap="round"/><line x1="454.6" y1="96.7" x2="458.6" y2="98.0" stroke="#ececf4" stroke-width="1.5" stroke-linecap="round" opacity="0.75"/><line x1="459.0" y1="98.3" x2="463.0" y2="99.7" stroke="#a8161e" stroke-width="5.2" stroke-linecap="round"/><line x1="459.0" y1="98.3" x2="463.0" y2="99.7" stroke="#e0323a" stroke-width="3.6" stroke-linecap="round"/><line x1="458.6" y1="98.0" x2="462.6" y2="99.4" stroke="#ff9090" stroke-width="1.5" stroke-linecap="round" opacity="0.75"/>
<line x1="450.0" y1="99.5" x2="444.8" y2="108.0" stroke="#8a8a96" stroke-width="5.2" stroke-linecap="round"/><line x1="450.0" y1="99.5" x2="444.8" y2="108.0" stroke="#bcbcc6" stroke-width="3.6" stroke-linecap="round"/><line x1="449.6" y1="99.2" x2="444.4" y2="107.7" stroke="#ececf4" stroke-width="1.5" stroke-linecap="round" opacity="0.75"/>
<line x1="431.5" y1="112.5" x2="434.1" y2="111.7" stroke="#a8a8a8" stroke-width="3.7" stroke-linecap="round"/><line x1="431.5" y1="112.5" x2="434.1" y2="111.7" stroke="#e4e4e4" stroke-width="2.6" stroke-linecap="round"/><line x1="431.1" y1="112.2" x2="433.8" y2="111.3" stroke="#ffffff" stroke-width="1.0" stroke-linecap="round" opacity="0.75"/><line x1="434.1" y1="111.7" x2="436.8" y2="110.8" stroke="#1a1ea0" stroke-width="5.2" stroke-linecap="round"/><line x1="434.1" y1="111.7" x2="436.8" y2="110.8" stroke="#2f3fe6" stroke-width="3.6" stroke-linecap="round"/><line x1="433.8" y1="111.3" x2="436.4" y2="110.5" stroke="#8a96ff" stroke-width="1.5" stroke-linecap="round" opacity="0.75"/>
<line x1="441.3" y1="111.0" x2="441.3" y2="122.0" stroke="#8a8a96" stroke-width="5.2" stroke-linecap="round"/><line x1="441.3" y1="111.0" x2="441.3" y2="122.0" stroke="#bcbcc6" stroke-width="3.6" stroke-linecap="round"/><line x1="440.9" y1="110.7" x2="440.9" y2="121.7" stroke="#ececf4" stroke-width="1.5" stroke-linecap="round" opacity="0.75"/><line x1="441.3" y1="122.0" x2="441.8" y2="126.0" stroke="#8a8a96" stroke-width="5.2" stroke-linecap="round"/><line x1="441.3" y1="122.0" x2="441.8" y2="126.0" stroke="#bcbcc6" stroke-width="3.6" stroke-linecap="round"/><line x1="440.9" y1="121.7" x2="441.4" y2="125.7" stroke="#ececf4" stroke-width="1.5" stroke-linecap="round" opacity="0.75"/><line x1="441.8" y1="126.0" x2="442.2" y2="130.0" stroke="#a8161e" stroke-width="5.2" stroke-linecap="round"/><line x1="441.8" y1="126.0" x2="442.2" y2="130.0" stroke="#e0323a" stroke-width="3.6" stroke-linecap="round"/><line x1="441.4" y1="125.7" x2="441.8" y2="129.7" stroke="#ff9090" stroke-width="1.5" stroke-linecap="round" opacity="0.75"/>
<line x1="446.6" y1="112.0" x2="455.0" y2="113.5" stroke="#8a8a96" stroke-width="5.2" stroke-linecap="round"/><line x1="446.6" y1="112.0" x2="455.0" y2="113.5" stroke="#bcbcc6" stroke-width="3.6" stroke-linecap="round"/><line x1="446.2" y1="111.7" x2="454.6" y2="113.2" stroke="#ececf4" stroke-width="1.5" stroke-linecap="round" opacity="0.75"/><line x1="455.0" y1="113.5" x2="464.3" y2="117.0" stroke="#8a8a96" stroke-width="5.2" stroke-linecap="round"/><line x1="455.0" y1="113.5" x2="464.3" y2="117.0" stroke="#bcbcc6" stroke-width="3.6" stroke-linecap="round"/><line x1="454.6" y1="113.2" x2="463.9" y2="116.7" stroke="#ececf4" stroke-width="1.5" stroke-linecap="round" opacity="0.75"/>
<line x1="465.0" y1="108.5" x2="465.1" y2="113.2" stroke="#1a1ea0" stroke-width="5.2" stroke-linecap="round"/><line x1="465.0" y1="108.5" x2="465.1" y2="113.2" stroke="#2f3fe6" stroke-width="3.6" stroke-linecap="round"/><line x1="464.6" y1="108.2" x2="464.8" y2="112.9" stroke="#8a96ff" stroke-width="1.5" stroke-linecap="round" opacity="0.75"/><line x1="465.1" y1="113.2" x2="465.3" y2="118.0" stroke="#8a8a96" stroke-width="5.2" stroke-linecap="round"/><line x1="465.1" y1="113.2" x2="465.3" y2="118.0" stroke="#bcbcc6" stroke-width="3.6" stroke-linecap="round"/><line x1="464.8" y1="112.9" x2="464.9" y2="117.7" stroke="#ececf4" stroke-width="1.5" stroke-linecap="round" opacity="0.75"/><line x1="465.3" y1="118.0" x2="466.6" y2="120.5" stroke="#8a8a96" stroke-width="5.2" stroke-linecap="round"/><line x1="465.3" y1="118.0" x2="466.6" y2="120.5" stroke="#bcbcc6" stroke-width="3.6" stroke-linecap="round"/><line x1="464.9" y1="117.7" x2="466.3" y2="120.2" stroke="#ececf4" stroke-width="1.5" stroke-linecap="round" opacity="0.75"/><line x1="466.6" y1="120.5" x2="468.0" y2="123.0" stroke="#a8161e" stroke-width="5.2" stroke-linecap="round"/><line x1="466.6" y1="120.5" x2="468.0" y2="123.0" stroke="#e0323a" stroke-width="3.6" stroke-linecap="round"/><line x1="466.3" y1="120.2" x2="467.6" y2="122.7" stroke="#ff9090" stroke-width="1.5" stroke-linecap="round" opacity="0.75"/>
<line x1="487.0" y1="85.0" x2="486.0" y2="88.5" stroke="#a8161e" stroke-width="5.2" stroke-linecap="round"/><line x1="487.0" y1="85.0" x2="486.0" y2="88.5" stroke="#e0323a" stroke-width="3.6" stroke-linecap="round"/><line x1="486.6" y1="84.7" x2="485.6" y2="88.2" stroke="#ff9090" stroke-width="1.5" stroke-linecap="round" opacity="0.75"/><line x1="486.0" y1="88.5" x2="485.0" y2="92.0" stroke="#a8a8a8" stroke-width="3.7" stroke-linecap="round"/><line x1="486.0" y1="88.5" x2="485.0" y2="92.0" stroke="#e4e4e4" stroke-width="2.6" stroke-linecap="round"/><line x1="485.6" y1="88.2" x2="484.6" y2="91.7" stroke="#ffffff" stroke-width="1.0" stroke-linecap="round" opacity="0.75"/><line x1="485.0" y1="92.0" x2="483.6" y2="95.8" stroke="#a8a8a8" stroke-width="3.7" stroke-linecap="round"/><line x1="485.0" y1="92.0" x2="483.6" y2="95.8" stroke="#e4e4e4" stroke-width="2.6" stroke-linecap="round"/><line x1="484.6" y1="91.7" x2="483.2" y2="95.5" stroke="#ffffff" stroke-width="1.0" stroke-linecap="round" opacity="0.75"/><line x1="483.6" y1="95.8" x2="482.2" y2="99.6" stroke="#8a8a96" stroke-width="5.2" stroke-linecap="round"/><line x1="483.6" y1="95.8" x2="482.2" y2="99.6" stroke="#bcbcc6" stroke-width="3.6" stroke-linecap="round"/><line x1="483.2" y1="95.5" x2="481.8" y2="99.2" stroke="#ececf4" stroke-width="1.5" stroke-linecap="round" opacity="0.75"/>
<line x1="485.0" y1="92.0" x2="486.5" y2="93.8" stroke="#8a8a96" stroke-width="5.2" stroke-linecap="round"/><line x1="485.0" y1="92.0" x2="486.5" y2="93.8" stroke="#bcbcc6" stroke-width="3.6" stroke-linecap="round"/><line x1="484.6" y1="91.7" x2="486.1" y2="93.5" stroke="#ececf4" stroke-width="1.5" stroke-linecap="round" opacity="0.75"/><line x1="486.5" y1="93.8" x2="488.0" y2="95.6" stroke="#a8161e" stroke-width="5.2" stroke-linecap="round"/><line x1="486.5" y1="93.8" x2="488.0" y2="95.6" stroke="#e0323a" stroke-width="3.6" stroke-linecap="round"/><line x1="486.1" y1="93.5" x2="487.6" y2="95.2" stroke="#ff9090" stroke-width="1.5" stroke-linecap="round" opacity="0.75"/>
<line x1="482.2" y1="99.6" x2="476.0" y2="108.0" stroke="#8a8a96" stroke-width="5.2" stroke-linecap="round"/><line x1="482.2" y1="99.6" x2="476.0" y2="108.0" stroke="#bcbcc6" stroke-width="3.6" stroke-linecap="round"/><line x1="481.8" y1="99.2" x2="475.6" y2="107.7" stroke="#ececf4" stroke-width="1.5" stroke-linecap="round" opacity="0.75"/>
<line x1="447.5" y1="91.5" x2="448.9" y2="93.8" stroke="#1a1ea0" stroke-width="5.2" stroke-linecap="round"/><line x1="447.5" y1="91.5" x2="448.9" y2="93.8" stroke="#2f3fe6" stroke-width="3.6" stroke-linecap="round"/><line x1="447.1" y1="91.2" x2="448.5" y2="93.4" stroke="#8a96ff" stroke-width="1.5" stroke-linecap="round" opacity="0.75"/><line x1="448.9" y1="93.8" x2="450.3" y2="96.0" stroke="#8a8a96" stroke-width="5.2" stroke-linecap="round"/><line x1="448.9" y1="93.8" x2="450.3" y2="96.0" stroke="#bcbcc6" stroke-width="3.6" stroke-linecap="round"/><line x1="448.5" y1="93.4" x2="449.9" y2="95.7" stroke="#ececf4" stroke-width="1.5" stroke-linecap="round" opacity="0.75"/><line x1="450.3" y1="96.0" x2="466.3" y2="98.2" stroke="#8a8a96" stroke-width="5.2" stroke-linecap="round"/><line x1="450.3" y1="96.0" x2="466.3" y2="98.2" stroke="#bcbcc6" stroke-width="3.6" stroke-linecap="round"/><line x1="449.9" y1="95.7" x2="465.9" y2="97.9" stroke="#ececf4" stroke-width="1.5" stroke-linecap="round" opacity="0.75"/>
<line x1="462.0" y1="99.5" x2="462.3" y2="99.6" stroke="#a8161e" stroke-width="5.0" stroke-linecap="round"/><line x1="462.0" y1="99.5" x2="462.3" y2="99.6" stroke="#e0323a" stroke-width="3.5" stroke-linecap="round"/><line x1="461.6" y1="99.2" x2="461.9" y2="99.2" stroke="#ff9090" stroke-width="1.4" stroke-linecap="round" opacity="0.75"/>
<line x1="466.3" y1="102.2" x2="475.6" y2="110.2" stroke="#8a8a96" stroke-width="5.2" stroke-linecap="round"/><line x1="466.3" y1="102.2" x2="475.6" y2="110.2" stroke="#bcbcc6" stroke-width="3.6" stroke-linecap="round"/><line x1="465.9" y1="101.9" x2="475.2" y2="109.9" stroke="#ececf4" stroke-width="1.5" stroke-linecap="round" opacity="0.75"/><line x1="475.6" y1="110.2" x2="476.8" y2="111.1" stroke="#8a8a96" stroke-width="5.2" stroke-linecap="round"/><line x1="475.6" y1="110.2" x2="476.8" y2="111.1" stroke="#bcbcc6" stroke-width="3.6" stroke-linecap="round"/><line x1="475.2" y1="109.9" x2="476.4" y2="110.8" stroke="#ececf4" stroke-width="1.5" stroke-linecap="round" opacity="0.75"/><line x1="476.8" y1="111.1" x2="478.0" y2="112.0" stroke="#a8161e" stroke-width="5.2" stroke-linecap="round"/><line x1="476.8" y1="111.1" x2="478.0" y2="112.0" stroke="#e0323a" stroke-width="3.6" stroke-linecap="round"/><line x1="476.4" y1="110.8" x2="477.6" y2="111.7" stroke="#ff9090" stroke-width="1.5" stroke-linecap="round" opacity="0.75"/>
<line x1="454.0" y1="103.0" x2="454.0" y2="118.0" stroke="#8a8a96" stroke-width="5.2" stroke-linecap="round"/><line x1="454.0" y1="103.0" x2="454.0" y2="118.0" stroke="#bcbcc6" stroke-width="3.6" stroke-linecap="round"/><line x1="453.6" y1="102.7" x2="453.6" y2="117.7" stroke="#ececf4" stroke-width="1.5" stroke-linecap="round" opacity="0.75"/>
<line x1="463.6" y1="113.0" x2="468.0" y2="120.0" stroke="#8a8a96" stroke-width="5.2" stroke-linecap="round"/><line x1="463.6" y1="113.0" x2="468.0" y2="120.0" stroke="#bcbcc6" stroke-width="3.6" stroke-linecap="round"/><line x1="463.2" y1="112.7" x2="467.6" y2="119.7" stroke="#ececf4" stroke-width="1.5" stroke-linecap="round" opacity="0.75"/><line x1="468.0" y1="120.0" x2="469.0" y2="122.8" stroke="#8a8a96" stroke-width="5.2" stroke-linecap="round"/><line x1="468.0" y1="120.0" x2="469.0" y2="122.8" stroke="#bcbcc6" stroke-width="3.6" stroke-linecap="round"/><line x1="467.6" y1="119.7" x2="468.6" y2="122.4" stroke="#ececf4" stroke-width="1.5" stroke-linecap="round" opacity="0.75"/><line x1="469.0" y1="122.8" x2="470.0" y2="125.5" stroke="#a8161e" stroke-width="5.2" stroke-linecap="round"/><line x1="469.0" y1="122.8" x2="470.0" y2="125.5" stroke="#e0323a" stroke-width="3.6" stroke-linecap="round"/><line x1="468.6" y1="122.4" x2="469.6" y2="125.2" stroke="#ff9090" stroke-width="1.5" stroke-linecap="round" opacity="0.75"/>
<line x1="479.0" y1="82.0" x2="486.0" y2="82.0" stroke="#a8a8a8" stroke-width="3.7" stroke-linecap="round"/><line x1="479.0" y1="82.0" x2="486.0" y2="82.0" stroke="#e4e4e4" stroke-width="2.6" stroke-linecap="round"/><line x1="478.6" y1="81.7" x2="485.6" y2="81.7" stroke="#ffffff" stroke-width="1.0" stroke-linecap="round" opacity="0.75"/>
<line x1="465.0" y1="88.0" x2="470.0" y2="93.0" stroke="#f4e81c" stroke-width="1.7" stroke-dasharray="1.6,1.3"/>
</g></g>
<line x1="38" y1="246.1" x2="532" y2="246.1" stroke="#ebebeb" stroke-width="1"/>
<line x1="38" y1="236.0" x2="532" y2="236.0" stroke="#ebebeb" stroke-width="1"/>
<line x1="38" y1="226.0" x2="532" y2="226.0" stroke="#ebebeb" stroke-width="1"/>
<line x1="38" y1="215.9" x2="532" y2="215.9" stroke="#ebebeb" stroke-width="1"/>
<line x1="38" y1="205.8" x2="532" y2="205.8" stroke="#ebebeb" stroke-width="1"/>
<line x1="38" y1="195.8" x2="532" y2="195.8" stroke="#ebebeb" stroke-width="1"/>
<line x1="38" y1="185.7" x2="532" y2="185.7" stroke="#ebebeb" stroke-width="1"/>
<line x1="38" y1="175.6" x2="532" y2="175.6" stroke="#ebebeb" stroke-width="1"/>
<line x1="38" y1="165.6" x2="532" y2="165.6" stroke="#ebebeb" stroke-width="1"/>
<line x1="38" y1="155.5" x2="532" y2="155.5" stroke="#ebebeb" stroke-width="1"/>
<text x="32.3" y="248.4" text-anchor="end" font-size="6.6" fill="#595959">0</text>
<text x="32.3" y="238.3" text-anchor="end" font-size="6.6" fill="#595959">2</text>
<text x="32.3" y="228.3" text-anchor="end" font-size="6.6" fill="#595959">4</text>
<text x="32.3" y="218.2" text-anchor="end" font-size="6.6" fill="#595959">6</text>
<text x="32.3" y="208.1" text-anchor="end" font-size="6.6" fill="#595959">8</text>
<text x="32.3" y="198.1" text-anchor="end" font-size="6.6" fill="#595959">10</text>
<text x="32.3" y="188.0" text-anchor="end" font-size="6.6" fill="#595959">12</text>
<text x="32.3" y="177.9" text-anchor="end" font-size="6.6" fill="#595959">14</text>
<text x="32.3" y="167.9" text-anchor="end" font-size="6.6" fill="#595959">16</text>
<text x="32.3" y="157.8" text-anchor="end" font-size="6.6" fill="#595959">18</text>
<text transform="translate(41.50,251) rotate(-90)" text-anchor="end" font-size="6.6" fill="#595959">0</text>
<text transform="translate(50.36,251) rotate(-90)" text-anchor="end" font-size="6.6" fill="#595959">0.9</text>
<text transform="translate(59.22,251) rotate(-90)" text-anchor="end" font-size="6.6" fill="#595959">1.8</text>
<text transform="translate(68.08,251) rotate(-90)" text-anchor="end" font-size="6.6" fill="#595959">2.7</text>
<text transform="translate(76.95,251) rotate(-90)" text-anchor="end" font-size="6.6" fill="#595959">3.6</text>
<text transform="translate(85.81,251) rotate(-90)" text-anchor="end" font-size="6.6" fill="#595959">4.5</text>
<text transform="translate(94.67,251) rotate(-90)" text-anchor="end" font-size="6.6" fill="#595959">5.4</text>
<text transform="translate(103.53,251) rotate(-90)" text-anchor="end" font-size="6.6" fill="#595959">6.3</text>
<text transform="translate(112.39,251) rotate(-90)" text-anchor="end" font-size="6.6" fill="#595959">7.2</text>
<text transform="translate(121.25,251) rotate(-90)" text-anchor="end" font-size="6.6" fill="#595959">8.1</text>
<text transform="translate(130.11,251) rotate(-90)" text-anchor="end" font-size="6.6" fill="#595959">9</text>
<text transform="translate(138.98,251) rotate(-90)" text-anchor="end" font-size="6.6" fill="#595959">9.9</text>
<text transform="translate(147.84,251) rotate(-90)" text-anchor="end" font-size="6.6" fill="#595959">10.8</text>
<text transform="translate(156.70,251) rotate(-90)" text-anchor="end" font-size="6.6" fill="#595959">11.7</text>
<text transform="translate(165.56,251) rotate(-90)" text-anchor="end" font-size="6.6" fill="#595959">12.6</text>
<text transform="translate(174.42,251) rotate(-90)" text-anchor="end" font-size="6.6" fill="#595959">13.5</text>
<text transform="translate(183.28,251) rotate(-90)" text-anchor="end" font-size="6.6" fill="#595959">14.4</text>
<text transform="translate(192.14,251) rotate(-90)" text-anchor="end" font-size="6.6" fill="#595959">15.3</text>
<text transform="translate(201.01,251) rotate(-90)" text-anchor="end" font-size="6.6" fill="#595959">16.2</text>
<text transform="translate(209.87,251) rotate(-90)" text-anchor="end" font-size="6.6" fill="#595959">17.1</text>
<text transform="translate(218.73,251) rotate(-90)" text-anchor="end" font-size="6.6" fill="#595959">18</text>
<text transform="translate(227.59,251) rotate(-90)" text-anchor="end" font-size="6.6" fill="#595959">18.9</text>
<text transform="translate(236.45,251) rotate(-90)" text-anchor="end" font-size="6.6" fill="#595959">19.8</text>
<text transform="translate(245.31,251) rotate(-90)" text-anchor="end" font-size="6.6" fill="#595959">20.7</text>
<text transform="translate(254.17,251) rotate(-90)" text-anchor="end" font-size="6.6" fill="#595959">21.6</text>
<text transform="translate(263.03,251) rotate(-90)" text-anchor="end" font-size="6.6" fill="#595959">22.5</text>
<text transform="translate(271.90,251) rotate(-90)" text-anchor="end" font-size="6.6" fill="#595959">23.4</text>
<text transform="translate(280.76,251) rotate(-90)" text-anchor="end" font-size="6.6" fill="#595959">24.3</text>
<text transform="translate(289.62,251) rotate(-90)" text-anchor="end" font-size="6.6" fill="#595959">25.2</text>
<text transform="translate(298.48,251) rotate(-90)" text-anchor="end" font-size="6.6" fill="#595959">26.1</text>
<text transform="translate(307.34,251) rotate(-90)" text-anchor="end" font-size="6.6" fill="#595959">27</text>
<text transform="translate(316.20,251) rotate(-90)" text-anchor="end" font-size="6.6" fill="#595959">27.9</text>
<text transform="translate(325.06,251) rotate(-90)" text-anchor="end" font-size="6.6" fill="#595959">28.8</text>
<text transform="translate(333.93,251) rotate(-90)" text-anchor="end" font-size="6.6" fill="#595959">29.7</text>
<text transform="translate(342.79,251) rotate(-90)" text-anchor="end" font-size="6.6" fill="#595959">30.6</text>
<text transform="translate(351.65,251) rotate(-90)" text-anchor="end" font-size="6.6" fill="#595959">31.5</text>
<text transform="translate(360.51,251) rotate(-90)" text-anchor="end" font-size="6.6" fill="#595959">32.4</text>
<text transform="translate(369.37,251) rotate(-90)" text-anchor="end" font-size="6.6" fill="#595959">33.3</text>
<text transform="translate(378.23,251) rotate(-90)" text-anchor="end" font-size="6.6" fill="#595959">34.2</text>
<text transform="translate(387.09,251) rotate(-90)" text-anchor="end" font-size="6.6" fill="#595959">35.1</text>
<text transform="translate(395.96,251) rotate(-90)" text-anchor="end" font-size="6.6" fill="#595959">36</text>
<text transform="translate(404.82,251) rotate(-90)" text-anchor="end" font-size="6.6" fill="#595959">36.9</text>
<text transform="translate(413.68,251) rotate(-90)" text-anchor="end" font-size="6.6" fill="#595959">37.8</text>
<text transform="translate(422.54,251) rotate(-90)" text-anchor="end" font-size="6.6" fill="#595959">38.7</text>
<text transform="translate(431.40,251) rotate(-90)" text-anchor="end" font-size="6.6" fill="#595959">39.6</text>
<text transform="translate(440.26,251) rotate(-90)" text-anchor="end" font-size="6.6" fill="#595959">40.5</text>
<text transform="translate(449.12,251) rotate(-90)" text-anchor="end" font-size="6.6" fill="#595959">41.4</text>
<text transform="translate(457.99,251) rotate(-90)" text-anchor="end" font-size="6.6" fill="#595959">42.3</text>
<text transform="translate(466.85,251) rotate(-90)" text-anchor="end" font-size="6.6" fill="#595959">43.2</text>
<text transform="translate(475.71,251) rotate(-90)" text-anchor="end" font-size="6.6" fill="#595959">44.1</text>
<text transform="translate(484.57,251) rotate(-90)" text-anchor="end" font-size="6.6" fill="#595959">45</text>
<text transform="translate(493.43,251) rotate(-90)" text-anchor="end" font-size="6.6" fill="#595959">45.9</text>
<text transform="translate(502.29,251) rotate(-90)" text-anchor="end" font-size="6.6" fill="#595959">46.8</text>
<text transform="translate(511.15,251) rotate(-90)" text-anchor="end" font-size="6.6" fill="#595959">47.7</text>
<text transform="translate(520.02,251) rotate(-90)" text-anchor="end" font-size="6.6" fill="#595959">48.6</text>
<text transform="translate(528.88,251) rotate(-90)" text-anchor="end" font-size="6.6" fill="#595959">49.5</text>
<polyline points="39.3,246.1 40.3,242.9 41.3,238.8 42.3,235.6 43.2,232.6 44.2,232.3 45.2,232.7 46.2,230.8 47.2,231.6 48.2,232.0 49.1,230.4 50.1,231.1 51.1,230.5 52.1,231.2 53.1,231.2 54.1,232.4 55.1,231.8 56.0,231.0 57.0,231.6 58.0,231.3 59.0,231.4 60.0,233.0 61.0,232.0 61.9,231.9 62.9,232.6 63.9,233.6 64.9,231.9 65.9,232.2 66.9,231.8 67.9,231.2 68.8,231.4 69.8,231.0 70.8,232.1 71.8,231.5 72.8,232.2 73.8,231.3 74.7,231.1 75.7,232.9 76.7,233.5 77.7,233.6 78.7,231.8 79.7,232.4 80.7,232.1 81.6,232.8 82.6,232.5 83.6,232.7 84.6,232.9 85.6,232.3 86.6,232.1 87.5,231.2 88.5,231.4 89.5,230.8 90.5,230.7 91.5,230.4 92.5,231.0 93.5,232.5 94.4,231.3 95.4,230.6 96.4,229.4 97.4,227.3 98.4,224.1 99.4,224.0 100.3,219.7 101.3,218.5 102.3,218.5 103.3,220.1 104.3,217.7 105.3,216.6 106.3,221.1 107.2,217.2 108.2,216.8 109.2,217.1 110.2,216.1 111.2,215.4 112.2,215.7 113.1,221.5 114.1,220.0 115.1,221.8 116.1,218.5 117.1,219.6 118.1,217.6 119.1,216.7 120.0,218.6 121.0,214.7 122.0,215.7 123.0,220.6 124.0,221.2 125.0,220.3 125.9,216.9 126.9,212.4 127.9,208.9 128.9,209.3 129.9,209.3 130.9,204.6 131.9,206.1 132.8,203.2 133.8,202.4 134.8,205.0 135.8,205.5 136.8,205.5 137.8,204.8 138.7,204.8 139.7,205.0 140.7,204.8 141.7,203.0 142.7,204.7 143.7,205.3 144.7,203.5 145.6,205.0 146.6,204.8 147.6,200.7 148.6,201.1 149.6,200.7 150.6,203.1 151.5,201.6 152.5,199.7 153.5,201.6 154.5,198.9 155.5,197.4 156.5,199.7 157.5,197.2 158.4,196.7 159.4,194.9 160.4,195.5 161.4,193.5 162.4,192.0 163.4,194.9 164.3,195.3 165.3,191.7 166.3,190.0 167.3,194.2 168.3,195.6 169.3,194.3 170.3,193.5 171.2,191.8 172.2,191.2 173.2,193.6 174.2,194.7 175.2,197.9 176.2,198.5 177.1,196.6 178.1,198.9 179.1,196.4 180.1,193.9 181.1,194.7 182.1,195.2 183.1,192.1 184.0,194.5 185.0,197.1 186.0,197.7 187.0,197.1 188.0,199.3 189.0,198.8 189.9,198.4 190.9,195.6 191.9,196.6 192.9,194.8 193.9,197.8 194.9,198.0 195.9,196.2 196.8,194.2 197.8,195.7 198.8,197.5 199.8,198.8 200.8,197.0 201.8,198.1 202.7,195.2 203.7,193.9 204.7,196.8 205.7,197.5 206.7,194.9 207.7,194.7 208.7,193.7 209.6,195.8 210.6,197.8 211.6,197.7 212.6,194.9 213.6,196.7 214.6,197.0 215.5,196.7 216.5,196.6 217.5,196.6 218.5,193.8 219.5,196.9 220.5,198.9 221.5,195.1 222.4,194.7 223.4,193.2 224.4,193.7 225.4,189.9 226.4,193.2 227.4,200.8 228.3,196.6 229.3,191.5 230.3,188.0 231.3,186.5 232.3,186.8 233.3,185.7 234.3,189.3 235.2,194.7 236.2,195.1 237.2,193.8 238.2,190.8 239.2,199.7 240.2,202.1 241.1,207.7 242.1,204.3 243.1,198.9 244.1,193.8 245.1,191.9 246.1,193.5 247.1,191.5 248.0,198.8 249.0,202.3 250.0,197.4 251.0,194.3 252.0,191.8 253.0,186.1 253.9,189.4 254.9,194.1 255.9,198.1 256.9,194.1 257.9,191.1 258.9,186.0 259.9,185.7 260.8,188.4 261.8,188.2 262.8,187.3 263.8,190.9 264.8,189.6 265.8,188.8 266.7,189.8 267.7,188.7 268.7,191.4 269.7,188.1 270.7,184.7 271.7,186.8 272.7,187.9 273.6,190.0 274.6,189.2 275.6,189.1 276.6,188.6 277.6,186.6 278.6,189.9 279.5,191.6 280.5,192.3 281.5,192.9 282.5,193.2 283.5,188.1 284.5,186.5 285.4,191.2 286.4,192.8 287.4,196.0 288.4,195.6 289.4,194.9 290.4,192.7 291.4,191.7 292.3,192.1 293.3,192.8 294.3,191.9 295.3,192.5 296.3,190.6 297.3,189.0 298.2,190.2 299.2,192.4 300.2,192.7 301.2,191.8 302.2,190.3 303.2,188.7 304.2,190.3 305.1,188.7 306.1,189.0 307.1,190.2 308.1,191.1 309.1,190.8 310.1,189.5 311.0,190.6 312.0,189.6 313.0,190.5 314.0,192.0 315.0,191.4 316.0,190.5 317.0,193.7 317.9,193.3 318.9,193.4 319.9,191.1 320.9,190.1 321.9,193.0 322.9,191.3 323.8,190.8 324.8,193.3 325.8,193.0 326.8,194.5 327.8,191.4 328.8,191.0 329.8,189.7 330.7,189.6 331.7,190.3 332.7,190.2 333.7,191.1 334.7,193.9 335.7,192.4 336.6,195.0 337.6,195.3 338.6,192.0 339.6,194.6 340.6,195.4 341.6,195.7 342.6,191.6 343.5,193.7 344.5,195.0 345.5,190.5 346.5,192.2 347.5,188.5 348.5,187.8 349.4,186.8 350.4,185.8 351.4,187.4 352.4,186.9 353.4,190.8 354.4,188.4 355.4,188.8 356.3,187.9 357.3,191.7 358.3,190.6 359.3,189.2 360.3,193.3 361.3,193.6 362.2,192.4 363.2,190.1 364.2,192.2 365.2,192.9 366.2,191.3 367.2,187.7 368.2,184.4 369.1,184.4 370.1,186.0 371.1,187.1 372.1,188.4 373.1,189.1 374.1,191.7 375.0,191.0 376.0,188.6 377.0,191.2 378.0,190.9 379.0,194.5 380.0,192.7 381.0,191.6 381.9,191.7 382.9,192.5 383.9,192.8 384.9,191.4 385.9,189.7 386.9,194.7 387.8,197.8 388.8,193.8 389.8,190.7 390.8,190.9 391.8,191.0 392.8,189.0 393.8,190.6 394.7,191.0 395.7,191.5 396.7,189.7 397.7,190.4 398.7,191.1 399.7,188.9 400.6,186.5 401.6,189.2 402.6,188.0 403.6,189.1 404.6,187.1 405.6,187.8 406.6,189.8 407.5,190.8 408.5,192.3 409.5,190.4 410.5,190.2 411.5,191.2 412.5,190.6 413.4,190.5 414.4,188.0 415.4,190.5 416.4,186.8 417.4,188.1 418.4,188.0 419.4,188.6 420.3,186.9 421.3,186.3 422.3,187.4 423.3,188.3 424.3,186.6 425.3,182.7 426.2,182.6 427.2,181.1 428.2,179.0 429.2,180.3 430.2,180.6 431.2,179.7 432.2,175.6 433.1,175.0 434.1,173.9 435.1,174.4 436.1,178.4 437.1,180.7 438.1,181.7 439.0,182.2 440.0,177.5 441.0,173.7 442.0,173.8 443.0,178.1 444.0,177.2 445.0,180.9 445.9,182.6 446.9,182.6 447.9,185.2 448.9,184.9 449.9,179.9 450.9,180.1 451.8,178.9 452.8,176.4 453.8,174.1 454.8,175.9 455.8,176.7 456.8,177.2 457.8,177.8 458.7,177.6 459.7,173.6 460.7,170.6 461.7,173.2 462.7,173.8 463.7,176.6 464.6,176.9 465.6,174.0 466.6,175.4 467.6,171.3 468.6,169.1 469.6,172.1 470.6,168.3 471.5,170.5 472.5,169.6 473.5,169.7 474.5,172.6 475.5,171.8 476.5,171.5 477.4,170.6 478.4,173.2 479.4,171.6 480.4,169.8 481.4,170.7 482.4,171.9 483.4,174.6 484.3,173.7 485.3,174.1 486.3,172.3 487.3,171.8 488.3,172.3 489.3,174.6 490.2,173.0 491.2,172.5 492.2,174.7 493.2,171.8 494.2,171.9 495.2,174.9 496.2,171.7 497.1,174.8 498.1,175.0 499.1,173.0 500.1,172.8 501.1,173.0 502.1,172.6 503.0,173.4 504.0,174.6 505.0,175.8 506.0,176.8 507.0,173.7 508.0,172.3 509.0,172.9 509.9,172.0 510.9,173.7 511.9,174.9 512.9,174.8 513.9,172.1 514.9,175.5 515.8,174.3 516.8,175.3 517.8,172.8 518.8,174.1 519.8,174.7 520.8,174.6 521.8,173.8 522.7,172.2 523.7,173.9 524.7,171.8 525.7,175.0 526.7,175.4 527.7,176.5 528.6,176.9 529.6,173.4 530.6,172.3 531.6,174.8" fill="none" stroke="#a5a5a5" stroke-width="2.1" stroke-linejoin="round"/>
<polyline points="39.3,246.1 40.3,244.5 41.3,242.5 42.3,240.9 43.2,237.5 44.2,236.3 45.2,239.2 46.2,238.3 47.2,234.9 48.2,233.7 49.1,231.1 50.1,233.1 51.1,232.1 52.1,232.3 53.1,230.9 54.1,230.4 55.1,232.5 56.0,232.6 57.0,232.3 58.0,229.6 59.0,229.0 60.0,231.2 61.0,229.6 61.9,231.6 62.9,230.5 63.9,232.0 64.9,233.3 65.9,230.2 66.9,231.6 67.9,232.2 68.8,229.2 69.8,228.4 70.8,230.4 71.8,228.5 72.8,229.5 73.8,229.3 74.7,231.2 75.7,229.0 76.7,229.0 77.7,227.9 78.7,227.7 79.7,230.1 80.7,230.9 81.6,232.1 82.6,232.7 83.6,233.3 84.6,232.6 85.6,231.0 86.6,232.8 87.5,230.8 88.5,231.3 89.5,231.6 90.5,229.7 91.5,230.2 92.5,231.1 93.5,230.9 94.4,229.8 95.4,232.0 96.4,229.2 97.4,231.9 98.4,230.1 99.4,228.9 100.3,231.8 101.3,229.9 102.3,230.8 103.3,230.4 104.3,232.5 105.3,233.4 106.3,233.2 107.2,229.9 108.2,231.6 109.2,230.0 110.2,228.6 111.2,227.9 112.2,230.1 113.1,231.1 114.1,230.8 115.1,229.6 116.1,231.9 117.1,230.3 118.1,229.3 119.1,228.7 120.0,231.8 121.0,229.4 122.0,231.9 123.0,232.0 124.0,231.0 125.0,229.2 125.9,230.8 126.9,229.1 127.9,230.0 128.9,231.3 129.9,231.9 130.9,232.8 131.9,233.6 132.8,233.7 133.8,231.5 134.8,229.3 135.8,231.8 136.8,233.4 137.8,230.2 138.7,230.7 139.7,231.5 140.7,232.6 141.7,231.6 142.7,230.2 143.7,231.2 144.7,231.7 145.6,233.5 146.6,230.8 147.6,233.3 148.6,232.5 149.6,230.7 150.6,232.9 151.5,231.4 152.5,229.8 153.5,230.5 154.5,230.1 155.5,232.8 156.5,232.5 157.5,233.6 158.4,231.1 159.4,232.3 160.4,232.1 161.4,229.7 162.4,229.2 163.4,228.4 164.3,230.2 165.3,230.9 166.3,230.1 167.3,230.8 168.3,231.8 169.3,231.8 170.3,232.8 171.2,232.3 172.2,229.4 173.2,228.3 174.2,229.1 175.2,229.9 176.2,231.0 177.1,232.4 178.1,232.1 179.1,228.4 180.1,225.4 181.1,225.0 182.1,223.1 183.1,222.6 184.0,222.6 185.0,222.6 186.0,222.2 187.0,223.6 188.0,222.8 189.0,224.1 189.9,223.7 190.9,222.5 191.9,222.3 192.9,223.9 193.9,221.9 194.9,222.2 195.9,222.7 196.8,225.3 197.8,224.3 198.8,225.1 199.8,223.7 200.8,224.0 201.8,222.6 202.7,222.8 203.7,223.1 204.7,225.9 205.7,226.6 206.7,226.9 207.7,226.8 208.7,228.8 209.6,227.5 210.6,226.8 211.6,227.3 212.6,226.3 213.6,226.0 214.6,227.6 215.5,228.4 216.5,230.2 217.5,228.3 218.5,227.0 219.5,228.3 220.5,228.1 221.5,227.8 222.4,227.7 223.4,230.0 224.4,228.5 225.4,228.7 226.4,228.4 227.4,229.3 228.3,228.9 229.3,228.1 230.3,227.9 231.3,226.4 232.3,227.9 233.3,227.4 234.3,225.7 235.2,225.0 236.2,226.8 237.2,225.9 238.2,227.4 239.2,233.0 240.2,233.4 241.1,234.2 242.1,235.3 243.1,235.5 244.1,234.9 245.1,235.2 246.1,235.3 247.1,236.0 248.0,234.5 249.0,234.2 250.0,233.1 251.0,232.7 252.0,233.9 253.0,231.8 253.9,234.5 254.9,234.1 255.9,234.4 256.9,234.0 257.9,235.0 258.9,232.0 259.9,232.3 260.8,233.7 261.8,231.9 262.8,233.3 263.8,232.0 264.8,232.3 265.8,231.3 266.7,229.3 267.7,229.0 268.7,230.4 269.7,229.4 270.7,229.0 271.7,229.3 272.7,229.6 273.6,227.2 274.6,225.5 275.6,222.5 276.6,221.0 277.6,221.9 278.6,223.2 279.5,221.5 280.5,224.3 281.5,225.0 282.5,223.3 283.5,222.8 284.5,225.3 285.4,225.0 286.4,225.7 287.4,229.3 288.4,229.7 289.4,230.8 290.4,231.0 291.4,228.3 292.3,229.5 293.3,227.7 294.3,227.1 295.3,228.1 296.3,230.0 297.3,227.9 298.2,228.9 299.2,229.8 300.2,230.6 301.2,228.2 302.2,229.2 303.2,230.5 304.2,230.3 305.1,231.7 306.1,230.2 307.1,230.3 308.1,230.5 309.1,228.2 310.1,226.8 311.0,229.5 312.0,228.4 313.0,228.9 314.0,226.2 315.0,225.6 316.0,227.3 317.0,227.4 317.9,227.2 318.9,223.0 319.9,223.4 320.9,223.5 321.9,224.8 322.9,225.1 323.8,225.8 324.8,225.2 325.8,227.6 326.8,226.0 327.8,227.2 328.8,226.9 329.8,227.5 330.7,228.0 331.7,227.3 332.7,227.3 333.7,226.6 334.7,224.3 335.7,224.3 336.6,226.6 337.6,226.7 338.6,225.9 339.6,223.7 340.6,222.8 341.6,223.8 342.6,226.4 343.5,224.5 344.5,225.0 345.5,224.7 346.5,224.0 347.5,224.0 348.5,224.6 349.4,222.4 350.4,222.4 351.4,222.2 352.4,220.6 353.4,222.6 354.4,223.1 355.4,221.1 356.3,223.4 357.3,221.2 358.3,220.8 359.3,221.7 360.3,222.7 361.3,221.1 362.2,219.9 363.2,222.5 364.2,222.3 365.2,221.9 366.2,223.1 367.2,225.2 368.2,226.2 369.1,224.9 370.1,223.4 371.1,225.8 372.1,226.2 373.1,223.9 374.1,223.0 375.0,223.1 376.0,225.8 377.0,224.1 378.0,222.3 379.0,221.4 380.0,222.3 381.0,225.4 381.9,223.5 382.9,225.2 383.9,224.2 384.9,222.5 385.9,222.8 386.9,225.3 387.8,225.8 388.8,223.4 389.8,225.5 390.8,224.6 391.8,225.0 392.8,226.2 393.8,224.9 394.7,226.7 395.7,227.3 396.7,226.4 397.7,227.3 398.7,227.8 399.7,225.8 400.6,224.3 401.6,223.0 402.6,225.6 403.6,225.5 404.6,225.9 405.6,225.0 406.6,225.0 407.5,223.2 408.5,225.9 409.5,230.1 410.5,228.6 411.5,228.3 412.5,226.0 413.4,225.7 414.4,223.8 415.4,224.3 416.4,224.2 417.4,225.5 418.4,224.8 419.4,225.6 420.3,223.8 421.3,223.9 422.3,225.4 423.3,225.6 424.3,225.0 425.3,223.1 426.2,224.4 427.2,222.7 428.2,221.9 429.2,222.8 430.2,220.7 431.2,224.2 432.2,226.3 433.1,224.6 434.1,225.3 435.1,223.0 436.1,223.6 437.1,224.5 438.1,223.0 439.0,225.5 440.0,223.7 441.0,225.7 442.0,226.2 443.0,223.1 444.0,222.8 445.0,224.6 445.9,225.8 446.9,222.8 447.9,222.8 448.9,222.1 449.9,224.6 450.9,223.7 451.8,224.5 452.8,225.3 453.8,225.2 454.8,224.1 455.8,224.6 456.8,224.7 457.8,225.8 458.7,223.4 459.7,223.1 460.7,222.3 461.7,223.5 462.7,222.3 463.7,223.1 464.6,223.2 465.6,223.3 466.6,222.7 467.6,223.8 468.6,225.6 469.6,226.6 470.6,226.4 471.5,227.0 472.5,223.7 473.5,223.9 474.5,222.9 475.5,225.6 476.5,224.8 477.4,222.8 478.4,223.0 479.4,224.0 480.4,224.2 481.4,225.9 482.4,226.4 483.4,226.7 484.3,225.9 485.3,225.6 486.3,223.4 487.3,225.4 488.3,225.9 489.3,226.1 490.2,226.7 491.2,226.4 492.2,226.6 493.2,225.6 494.2,227.1 495.2,224.1 496.2,225.0 497.1,223.1 498.1,223.3 499.1,223.5 500.1,224.4 501.1,222.6 502.1,225.1 503.0,223.8 504.0,224.6 505.0,223.3 506.0,222.3 507.0,224.1 508.0,224.6 509.0,225.6 509.9,225.2 510.9,225.6 511.9,224.4 512.9,221.4 513.9,222.6 514.9,223.3 515.8,222.9 516.8,224.3 517.8,223.6 518.8,223.9 519.8,226.8 520.8,228.2 521.8,226.7 522.7,224.7 523.7,224.3 524.7,224.4 525.7,222.3 526.7,225.5 527.7,226.8 528.6,224.3 529.6,226.4 530.6,230.6 531.6,231.7" fill="none" stroke="#ed7d31" stroke-width="2.1" stroke-linejoin="round"/>
<polyline points="39.3,246.1 40.3,245.0 41.3,243.7 42.3,242.7 43.2,242.5 44.2,241.8 45.2,241.7 46.2,239.6 47.2,239.8 48.2,238.0 49.1,238.2 50.1,237.8 51.1,236.5 52.1,234.3 53.1,235.5 54.1,235.5 55.1,235.0 56.0,234.8 57.0,236.7 58.0,238.4 59.0,236.4 60.0,238.3 61.0,236.5 61.9,237.4 62.9,238.1 63.9,238.4 64.9,237.8 65.9,235.7 66.9,237.0 67.9,236.2 68.8,235.7 69.8,236.4 70.8,236.2 71.8,237.7 72.8,238.4 73.8,238.3 74.7,236.7 75.7,236.8 76.7,237.3 77.7,236.6 78.7,236.8 79.7,237.4 80.7,236.0 81.6,235.7 82.6,237.2 83.6,236.7 84.6,236.7 85.6,235.6 86.6,235.6 87.5,237.0 88.5,235.4 89.5,237.6 90.5,237.6 91.5,236.4 92.5,237.9 93.5,237.5 94.4,238.8 95.4,237.3 96.4,236.3 97.4,236.5 98.4,235.6 99.4,237.1 100.3,236.5 101.3,236.5 102.3,236.6 103.3,237.1 104.3,236.0 105.3,235.2 106.3,236.4 107.2,236.3 108.2,238.3 109.2,237.1 110.2,236.7 111.2,235.4 112.2,235.4 113.1,237.1 114.1,237.6 115.1,236.9 116.1,238.7 117.1,238.1 118.1,238.8 119.1,239.3 120.0,239.7 121.0,237.5 122.0,238.7 123.0,238.8 124.0,238.4 125.0,236.6 125.9,238.5 126.9,238.1 127.9,237.6 128.9,236.3 129.9,235.9 130.9,235.6 131.9,237.4 132.8,237.7 133.8,238.1 134.8,236.5 135.8,235.6 136.8,237.8 137.8,238.8 138.7,239.0 139.7,239.1 140.7,238.4 141.7,237.7 142.7,238.5 143.7,239.7 144.7,238.9 145.6,238.7 146.6,237.9 147.6,236.3 148.6,236.5 149.6,237.1 150.6,237.1 151.5,236.9 152.5,238.9 153.5,237.0 154.5,236.5 155.5,236.0 156.5,236.0 157.5,237.4 158.4,238.0 159.4,239.3 160.4,238.1 161.4,239.5 162.4,240.1 163.4,239.9 164.3,240.0 165.3,239.4 166.3,240.1 167.3,240.6 168.3,240.4 169.3,240.4 170.3,239.7 171.2,241.1 172.2,239.2 173.2,239.5 174.2,241.5 175.2,242.3 176.2,242.3 177.1,242.3 178.1,243.2 179.1,241.3 180.1,240.0 181.1,241.2 182.1,241.7 183.1,241.5 184.0,240.4 185.0,238.2 186.0,237.6 187.0,236.2 188.0,237.9 189.0,239.4 189.9,237.2 190.9,238.2 191.9,240.8 192.9,241.3 193.9,243.9 194.9,242.8 195.9,240.7 196.8,240.0 197.8,239.8 198.8,239.1 199.8,237.2 200.8,237.0 201.8,237.5 202.7,239.8 203.7,238.5 204.7,238.3 205.7,237.8 206.7,234.9 207.7,233.1 208.7,232.8 209.6,232.8 210.6,232.7 211.6,232.9 212.6,235.3 213.6,236.1 214.6,237.6 215.5,239.9 216.5,240.7 217.5,239.7 218.5,239.1 219.5,237.1 220.5,235.6 221.5,236.6 222.4,235.4 223.4,234.7 224.4,234.5 225.4,235.9 226.4,236.1 227.4,235.6 228.3,234.8 229.3,234.7 230.3,233.4 231.3,231.8 232.3,231.4 233.3,232.3 234.3,232.2 235.2,231.7 236.2,233.8 237.2,232.8 238.2,231.6 239.2,231.4 240.2,232.0 241.1,233.8 242.1,236.1 243.1,235.4 244.1,236.3 245.1,235.2 246.1,234.1 247.1,235.4 248.0,234.2 249.0,230.9 250.0,230.3 251.0,232.5 252.0,233.8 253.0,234.5 253.9,232.5 254.9,231.8 255.9,233.6 256.9,232.2 257.9,231.4 258.9,234.0 259.9,237.3 260.8,239.2 261.8,242.1 262.8,244.1 263.8,242.3 264.8,243.1 265.8,243.2 266.7,241.5 267.7,242.0 268.7,240.6 269.7,240.2 270.7,242.0 271.7,242.6 272.7,242.7 273.6,243.1 274.6,242.2 275.6,243.0 276.6,242.6 277.6,243.1 278.6,240.6 279.5,241.2 280.5,240.9 281.5,240.4 282.5,239.1 283.5,240.2 284.5,237.9 285.4,237.4 286.4,236.3 287.4,235.0 288.4,235.3 289.4,233.7 290.4,233.7 291.4,234.0 292.3,231.2 293.3,232.1 294.3,231.5 295.3,230.4 296.3,230.5 297.3,231.3 298.2,230.9 299.2,230.7 300.2,229.8 301.2,231.6 302.2,230.9 303.2,231.6 304.2,231.8 305.1,230.2 306.1,230.4 307.1,230.3 308.1,229.5 309.1,228.4 310.1,226.4 311.0,227.8 312.0,230.9 313.0,235.9 314.0,235.5 315.0,236.2 316.0,236.3 317.0,236.6 317.9,235.3 318.9,235.6 319.9,235.2 320.9,234.7 321.9,236.8 322.9,236.7 323.8,235.4 324.8,235.2 325.8,237.4 326.8,238.5 327.8,237.9 328.8,238.8 329.8,238.7 330.7,239.2 331.7,237.5 332.7,236.3 333.7,235.4 334.7,237.4 335.7,236.5 336.6,236.3 337.6,237.9 338.6,236.1 339.6,235.1 340.6,237.1 341.6,235.6 342.6,236.7 343.5,236.9 344.5,235.4 345.5,235.2 346.5,237.3 347.5,237.4 348.5,237.1 349.4,237.6 350.4,238.3 351.4,238.2 352.4,236.8 353.4,238.5 354.4,237.5 355.4,237.5 356.3,238.8 357.3,238.4 358.3,237.2 359.3,237.1 360.3,238.5 361.3,236.1 362.2,235.7 363.2,234.9 364.2,237.4 365.2,238.0 366.2,239.0 367.2,237.0 368.2,237.8 369.1,238.6 370.1,238.0 371.1,236.1 372.1,235.6 373.1,237.2 374.1,238.3 375.0,236.2 376.0,236.4 377.0,236.1 378.0,238.0 379.0,238.9 380.0,237.3 381.0,237.4 381.9,238.6 382.9,236.3 383.9,236.3 384.9,235.7 385.9,237.8 386.9,236.2 387.8,238.1 388.8,236.3 389.8,236.9 390.8,237.5 391.8,237.1 392.8,235.6 393.8,237.2 394.7,238.3 395.7,237.5 396.7,238.1 397.7,238.8 398.7,239.0 399.7,239.4 400.6,239.1 401.6,238.6 402.6,238.4 403.6,236.8 404.6,237.6 405.6,237.3 406.6,238.2 407.5,238.1 408.5,239.1 409.5,238.8 410.5,239.4 411.5,237.3 412.5,237.0 413.4,238.1 414.4,237.6 415.4,235.8 416.4,237.8 417.4,236.3 418.4,236.9 419.4,237.0 420.3,235.9 421.3,236.9 422.3,237.0 423.3,236.4 424.3,235.1 425.3,236.7 426.2,235.8 427.2,235.8 428.2,236.0 429.2,236.9 430.2,237.5 431.2,238.7 432.2,239.0 433.1,239.4 434.1,237.3 435.1,238.0 436.1,238.6 437.1,239.1 438.1,236.8 439.0,235.7 440.0,235.9 441.0,237.2 442.0,238.0 443.0,238.2 444.0,237.7 445.0,238.5 445.9,237.9 446.9,238.2 447.9,236.0 448.9,235.0 449.9,236.0 450.9,237.4 451.8,235.7 452.8,237.1 453.8,237.5 454.8,238.9 455.8,238.3 456.8,237.7 457.8,237.3 458.7,238.2 459.7,237.5 460.7,238.9 461.7,238.7 462.7,239.1 463.7,238.3 464.6,239.1 465.6,239.6 466.6,238.8 467.6,238.7 468.6,237.5 469.6,237.2 470.6,236.3 471.5,236.2 472.5,235.9 473.5,235.3 474.5,236.6 475.5,237.4 476.5,235.6 477.4,237.6 478.4,236.6 479.4,236.4 480.4,238.3 481.4,236.6 482.4,235.6 483.4,236.1 484.3,235.9 485.3,235.6 486.3,237.7 487.3,237.4 488.3,237.4 489.3,236.2 490.2,235.8 491.2,235.6 492.2,236.3 493.2,235.6 494.2,236.0 495.2,236.2 496.2,237.8 497.1,239.2 498.1,239.5 499.1,238.9 500.1,239.5 501.1,237.2 502.1,237.0 503.0,236.6 504.0,236.4 505.0,235.8 506.0,236.0 507.0,237.5 508.0,235.4 509.0,234.4 509.9,234.6 510.9,234.7 511.9,234.3 512.9,236.0 513.9,234.6 514.9,235.5 515.8,236.5 516.8,236.2 517.8,234.6 518.8,235.5 519.8,234.2 520.8,234.0 521.8,236.4 522.7,237.7 523.7,236.7 524.7,235.1 525.7,235.4 526.7,236.7 527.7,237.7 528.6,240.7 529.6,242.4 530.6,242.8 531.6,239.9" fill="none" stroke="#5b9bd5" stroke-width="2.1" stroke-linejoin="round"/>
<text transform="translate(22.4,218.6) rotate(-90)" font-size="7.5" font-weight="bold" fill="#595959">RMSD (Å)</text>
<line x1="190" y1="274.4" x2="198.7" y2="274.4" stroke="#5b9bd5" stroke-width="1.7"/>
<text x="199.6" y="276.9" font-size="8.6" font-weight="bold" fill="#595959">Quercetin</text>
<line x1="248.7" y1="274.4" x2="257.3" y2="274.4" stroke="#ed7d31" stroke-width="1.7"/>
<text x="258.6" y="276.9" font-size="8.6" font-weight="bold" fill="#595959">Kaempferol</text>
<line x1="315.5" y1="274.4" x2="324.2" y2="274.4" stroke="#a5a5a5" stroke-width="1.7"/>
<text x="325" y="276.9" font-size="8.6" font-weight="bold" fill="#595959">Chrysin</text>
<text x="5.8" y="158.3" font-size="10" font-weight="bold" fill="#000">D</text>
</svg></body></html>
